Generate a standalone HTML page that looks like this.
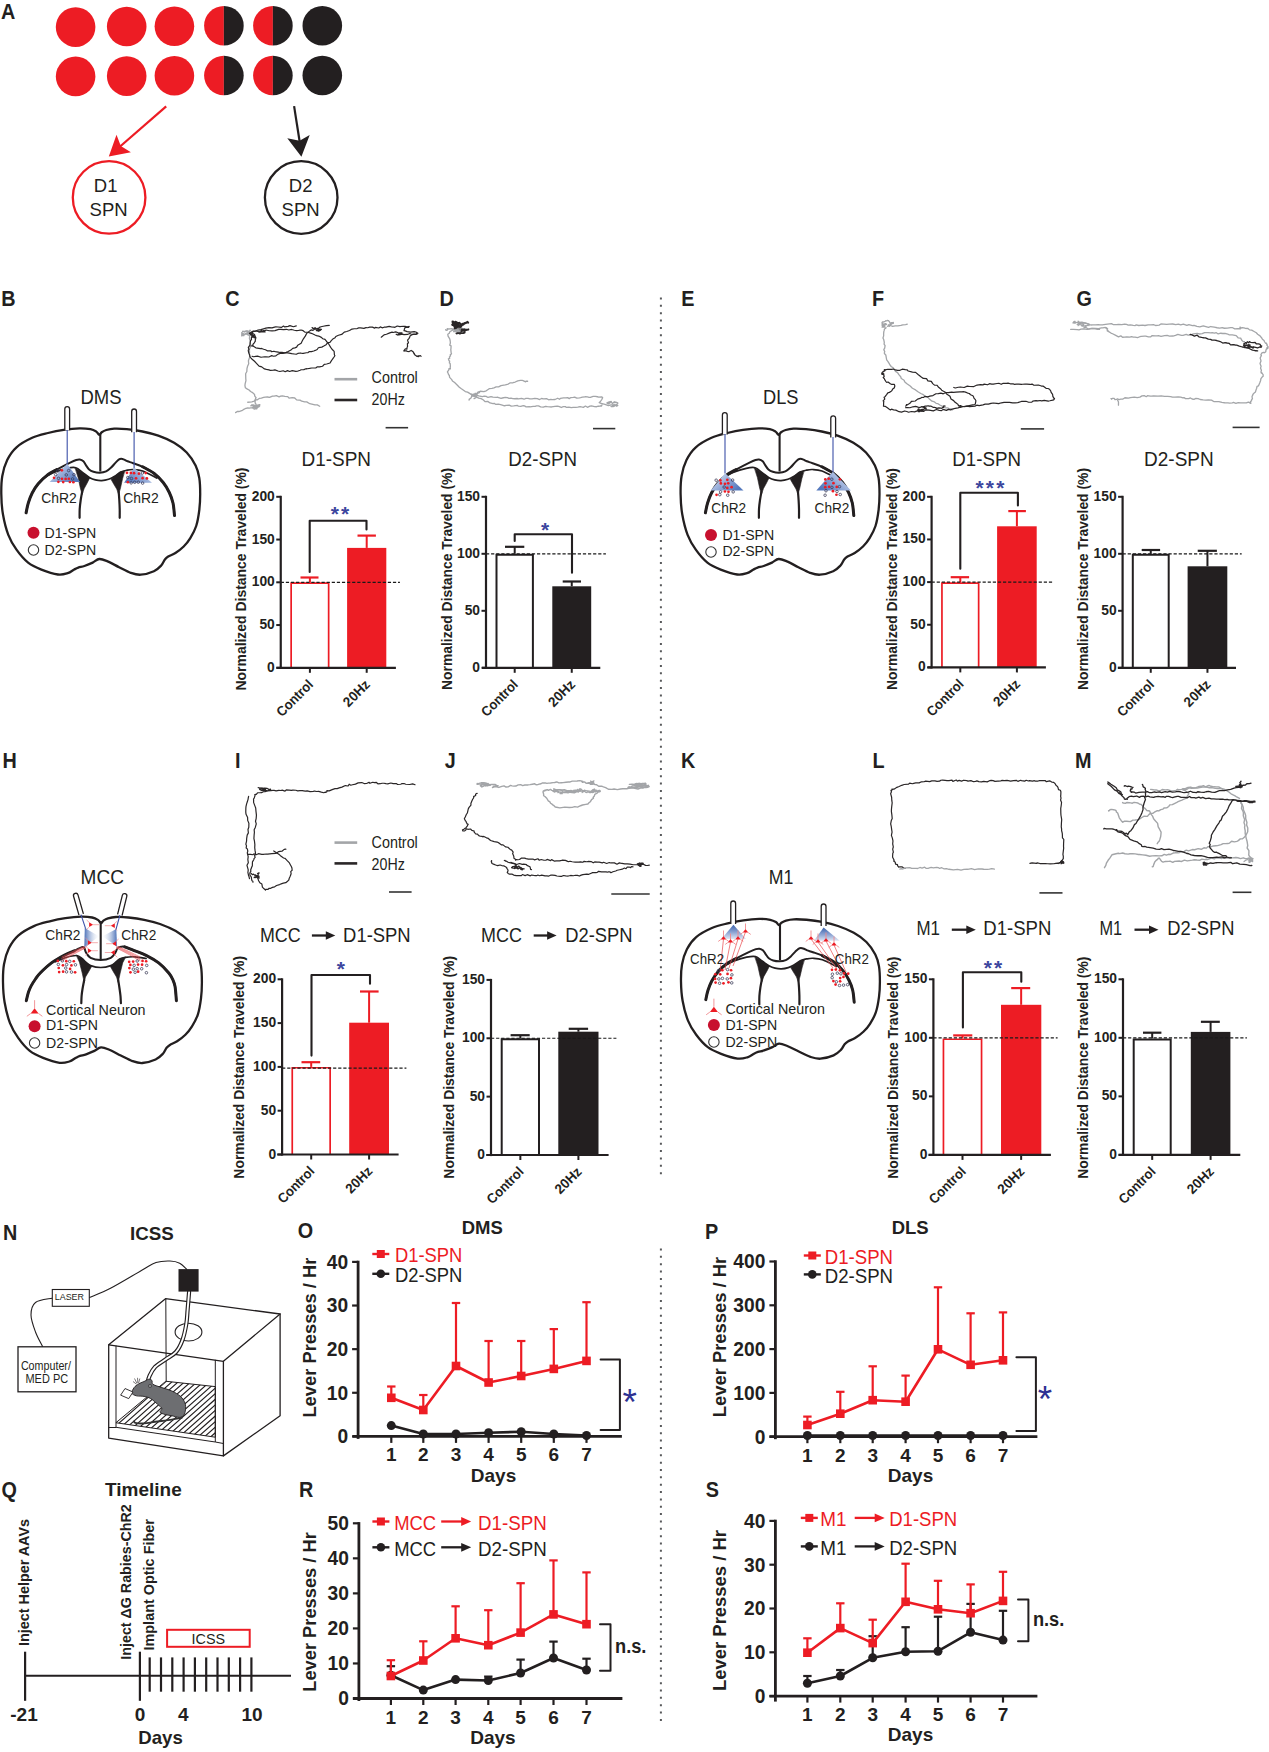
<!DOCTYPE html>
<html><head><meta charset="utf-8"><title>Figure</title>
<style>html,body{margin:0;padding:0;background:#fff;width:1269px;height:1752px;overflow:hidden}svg{display:block}text{font-family:"Liberation Sans",Arial,sans-serif}</style>
</head><body>
<svg width="1269" height="1752" viewBox="0 0 1269 1752" font-family="Liberation Sans, Arial, sans-serif">
<defs><linearGradient id="gv" x1="0" y1="0" x2="0" y2="1"><stop offset="0" stop-color="#3a62ad"/><stop offset="0.55" stop-color="#8fa6d4"/><stop offset="1" stop-color="#dfe6f4"/></linearGradient>
<linearGradient id="gvl" x1="0" y1="0" x2="1" y2="0.6"><stop offset="0" stop-color="#e4eaf6"/><stop offset="0.5" stop-color="#9db2dc"/><stop offset="1" stop-color="#5579bd"/></linearGradient>
<linearGradient id="gvr" x1="1" y1="0" x2="0" y2="0.6"><stop offset="0" stop-color="#e4eaf6"/><stop offset="0.5" stop-color="#9db2dc"/><stop offset="1" stop-color="#5579bd"/></linearGradient>
<linearGradient id="gh1" x1="0" y1="0" x2="1" y2="0"><stop offset="0" stop-color="#4a70b8"/><stop offset="1" stop-color="#ffffff" stop-opacity="0.2"/></linearGradient>
<linearGradient id="gh2" x1="1" y1="0" x2="0" y2="0"><stop offset="0" stop-color="#4a70b8"/><stop offset="1" stop-color="#ffffff" stop-opacity="0.2"/></linearGradient>
<clipPath id="floorclip"><path d="M166.2 1381.3 L215.3 1386.6 L215.3 1437.2 L116.3 1422.8 Z"/></clipPath></defs>
<rect width="1269" height="1752" fill="#fff"/>
<text x="1" y="19" font-size="22" font-weight="bold" text-anchor="start" fill="#231f20" textLength="14.3" lengthAdjust="spacingAndGlyphs">A</text>
<text x="1.2" y="306" font-size="22" font-weight="bold" text-anchor="start" fill="#231f20" textLength="14.3" lengthAdjust="spacingAndGlyphs">B</text>
<text x="225.3" y="306" font-size="22" font-weight="bold" text-anchor="start" fill="#231f20" textLength="14.3" lengthAdjust="spacingAndGlyphs">C</text>
<text x="439.5" y="306" font-size="22" font-weight="bold" text-anchor="start" fill="#231f20" textLength="14.3" lengthAdjust="spacingAndGlyphs">D</text>
<text x="681.3" y="306.3" font-size="22" font-weight="bold" text-anchor="start" fill="#231f20" textLength="13.21" lengthAdjust="spacingAndGlyphs">E</text>
<text x="872" y="306" font-size="22" font-weight="bold" text-anchor="start" fill="#231f20" textLength="12.1" lengthAdjust="spacingAndGlyphs">F</text>
<text x="1076.5" y="306.3" font-size="22" font-weight="bold" text-anchor="start" fill="#231f20" textLength="15.4" lengthAdjust="spacingAndGlyphs">G</text>
<text x="2.5" y="768" font-size="22" font-weight="bold" text-anchor="start" fill="#231f20" textLength="14.3" lengthAdjust="spacingAndGlyphs">H</text>
<text x="235.1" y="767.8" font-size="22" font-weight="bold" text-anchor="start" fill="#231f20" textLength="5.5" lengthAdjust="spacingAndGlyphs">I</text>
<text x="444.8" y="767.8" font-size="22" font-weight="bold" text-anchor="start" fill="#231f20" textLength="11.01" lengthAdjust="spacingAndGlyphs">J</text>
<text x="681.1" y="768" font-size="22" font-weight="bold" text-anchor="start" fill="#231f20" textLength="14.3" lengthAdjust="spacingAndGlyphs">K</text>
<text x="872.5" y="767.8" font-size="22" font-weight="bold" text-anchor="start" fill="#231f20" textLength="12.1" lengthAdjust="spacingAndGlyphs">L</text>
<text x="1075.1" y="768" font-size="22" font-weight="bold" text-anchor="start" fill="#231f20" textLength="16.49" lengthAdjust="spacingAndGlyphs">M</text>
<text x="2.9" y="1239.6" font-size="22" font-weight="bold" text-anchor="start" fill="#231f20" textLength="14.3" lengthAdjust="spacingAndGlyphs">N</text>
<text x="297.7" y="1238.4" font-size="22" font-weight="bold" text-anchor="start" fill="#231f20" textLength="15.4" lengthAdjust="spacingAndGlyphs">O</text>
<text x="705.1" y="1238.5" font-size="22" font-weight="bold" text-anchor="start" fill="#231f20" textLength="13.21" lengthAdjust="spacingAndGlyphs">P</text>
<text x="1.5" y="1497" font-size="22" font-weight="bold" text-anchor="start" fill="#231f20" textLength="15.4" lengthAdjust="spacingAndGlyphs">Q</text>
<text x="299.1" y="1497" font-size="22" font-weight="bold" text-anchor="start" fill="#231f20" textLength="14.3" lengthAdjust="spacingAndGlyphs">R</text>
<text x="705.7" y="1497" font-size="22" font-weight="bold" text-anchor="start" fill="#231f20" textLength="13.21" lengthAdjust="spacingAndGlyphs">S</text>
<line x1="660.9" y1="297.5" x2="660.9" y2="1179.5" stroke="#58595b" stroke-width="2" stroke-dasharray="2 5.35"/>
<line x1="660.9" y1="1248.5" x2="660.9" y2="1725" stroke="#58595b" stroke-width="2" stroke-dasharray="2 5.35"/>
<circle cx="75.6" cy="27.1" r="19.8" fill="#ed1c24" stroke="none" stroke-width="0"/>
<circle cx="126.7" cy="26.5" r="19.8" fill="#ed1c24" stroke="none" stroke-width="0"/>
<circle cx="174.4" cy="26.3" r="19.8" fill="#ed1c24" stroke="none" stroke-width="0"/>
<path d="M223.9 5.9 A19.8 19.8 0 0 0 223.9 45.5 Z" fill="#ed1c24"/>
<path d="M223.9 5.9 A19.8 19.8 0 0 1 223.9 45.5 Z" fill="#231f20"/>
<path d="M272.9 5.9 A19.8 19.8 0 0 0 272.9 45.5 Z" fill="#ed1c24"/>
<path d="M272.9 5.9 A19.8 19.8 0 0 1 272.9 45.5 Z" fill="#231f20"/>
<circle cx="322.3" cy="25.7" r="19.8" fill="#231f20" stroke="none" stroke-width="0"/>
<circle cx="75.6" cy="76.4" r="19.8" fill="#ed1c24" stroke="none" stroke-width="0"/>
<circle cx="126.7" cy="76.1" r="19.8" fill="#ed1c24" stroke="none" stroke-width="0"/>
<circle cx="174.4" cy="75.8" r="19.8" fill="#ed1c24" stroke="none" stroke-width="0"/>
<path d="M223.9 55.7 A19.8 19.8 0 0 0 223.9 95.3 Z" fill="#ed1c24"/>
<path d="M223.9 55.7 A19.8 19.8 0 0 1 223.9 95.3 Z" fill="#231f20"/>
<path d="M272.9 55.7 A19.8 19.8 0 0 0 272.9 95.3 Z" fill="#ed1c24"/>
<path d="M272.9 55.7 A19.8 19.8 0 0 1 272.9 95.3 Z" fill="#231f20"/>
<circle cx="322.3" cy="75.5" r="19.8" fill="#231f20" stroke="none" stroke-width="0"/>
<line x1="166.2" y1="106.3" x2="119.5" y2="147" stroke="#ed1c24" stroke-width="2.2"/>
<path d="M108.8 156.4 L116.5 134.7 L120.8 146 L130.9 152.3 Z" fill="#ed1c24"/>
<line x1="294.1" y1="106.1" x2="299.7" y2="142" stroke="#231f20" stroke-width="2.2"/>
<path d="M301.4 156.7 L287.3 138.3 L299.6 140.7 L309.7 135 Z" fill="#231f20"/>
<circle cx="109.1" cy="197.4" r="36.3" fill="none" stroke="#ed1c24" stroke-width="2.3"/>
<circle cx="301.2" cy="197.5" r="36.3" fill="none" stroke="#231f20" stroke-width="2.3"/>
<text x="105.6" y="192.4" font-size="18.5" text-anchor="middle" fill="#231f20">D1</text>
<text x="108.6" y="216" font-size="18.5" text-anchor="middle" fill="#231f20">SPN</text>
<text x="300.6" y="192.4" font-size="18.5" text-anchor="middle" fill="#231f20">D2</text>
<text x="300.6" y="216" font-size="18.5" text-anchor="middle" fill="#231f20">SPN</text>
<path d="M99.3 434.8 C98.38 434.68 97.67 432.53 96.2 431.6 C94.73 430.67 93.28 429.75 90.5 429.2 C87.72 428.65 83.97 428.2 79.5 428.3 C75.03 428.4 68.95 429.02 63.7 429.8 C58.45 430.58 53.25 431.67 48 433 C42.75 434.33 37.45 435.42 32.2 437.8 C26.95 440.18 20.67 443.6 16.5 447.3 C12.33 451 9.57 455.22 7.2 460 C4.83 464.78 3.28 470.33 2.3 476 C1.32 481.67 1.2 487.67 1.3 494 C1.4 500.33 1.73 507.2 2.9 514 C4.07 520.8 6.03 528.87 8.3 534.8 C10.57 540.73 13.2 544.97 16.5 549.6 C19.8 554.23 23.95 559.27 28.1 562.6 C32.25 565.93 36.43 567.62 41.4 569.6 C46.37 571.58 53.52 573.9 57.9 574.5 C62.28 575.1 64.98 574.03 67.7 573.2 C70.42 572.37 72.43 570.43 74.2 569.5 C75.97 568.57 76.6 568.18 78.3 567.6 C80 567.02 82 566.83 84.4 566 C86.8 565.17 90.22 563.77 92.7 562.6 C95.18 561.43 96.82 559.2 99.3 559 C101.78 558.8 104.3 560.03 107.6 561.4 C110.9 562.77 115.25 565.3 119.1 567.2 C122.95 569.1 127.1 571.55 130.7 572.8 C134.3 574.05 136.83 574.97 140.7 574.7 C144.57 574.43 150.48 572.73 153.9 571.2 C157.32 569.67 159.37 567.45 161.2 565.5 C163.03 563.55 163.73 560.98 164.9 559.5 C166.07 558.02 166.45 557.68 168.2 556.6 C169.95 555.52 172.82 554.68 175.4 553 C177.98 551.32 181.22 548.98 183.7 546.5 C186.18 544.02 188.22 541.52 190.3 538.1 C192.38 534.68 194.7 530.68 196.2 526 C197.7 521.32 198.63 515.33 199.3 510 C199.97 504.67 200.2 499.33 200.2 494 C200.2 488.67 200.07 482.75 199.3 478 C198.53 473.25 197.7 469.75 195.6 465.5 C193.5 461.25 190.28 456.28 186.7 452.5 C183.12 448.72 178.83 445.6 174.1 442.8 C169.37 440 163.57 437.58 158.3 435.7 C153.03 433.82 147.75 432.58 142.5 431.5 C137.25 430.42 131.52 429.67 126.8 429.2 C122.08 428.73 117.62 428.57 114.2 428.7 C110.78 428.83 108.38 429.4 106.3 430 C104.22 430.6 102.87 431.5 101.7 432.3 C100.53 433.1 100.22 434.92 99.3 434.8Z" fill="none" stroke="#231f20" stroke-width="2.3" stroke-linejoin="round" stroke-linecap="round"/>
<line x1="100.3" y1="433.5" x2="100.3" y2="471.5" stroke="#231f20" stroke-width="2.1"/>
<path d="M26.1 512.8 C26.47 511.17 27.28 506.3 28.3 503 C29.32 499.7 30.55 496.2 32.2 493 C33.85 489.8 35.78 486.7 38.2 483.8 C40.62 480.9 43.62 477.97 46.7 475.6 C49.78 473.23 52.78 471.77 56.7 469.6 C60.62 467.43 66.95 464.2 70.2 462.6 C73.45 461 74.62 460.52 76.2 460 C77.78 459.48 78.5 459.28 79.7 459.5 C80.9 459.72 82.37 460.37 83.4 461.3 C84.43 462.23 84.95 463.73 85.9 465.1 C86.85 466.47 87.83 468.38 89.1 469.5 C90.37 470.62 91.72 471.27 93.5 471.8 C95.28 472.33 97.7 472.77 99.8 472.7 C101.9 472.63 104.22 472.25 106.1 471.4 C107.98 470.55 109.52 469.07 111.1 467.6 C112.68 466.13 114.33 463.93 115.6 462.6 C116.87 461.27 117.77 460.23 118.7 459.6 C119.63 458.97 120.28 458.8 121.2 458.8 C122.12 458.8 123.15 459.18 124.2 459.6 C125.25 460.02 126 460.7 127.5 461.3 C129 461.9 130.67 462.28 133.2 463.2 C135.73 464.12 139.2 465.08 142.7 466.8 C146.2 468.52 150.78 470.88 154.2 473.5 C157.62 476.12 160.68 479.33 163.2 482.5 C165.72 485.67 167.67 489.08 169.3 492.5 C170.93 495.92 172.13 499.17 173 503 C173.87 506.83 174.25 513.42 174.5 515.5" fill="none" stroke="#231f20" stroke-width="2" stroke-linejoin="round" stroke-linecap="round"/>
<path d="M26.1 512.8 C26.47 511.17 27.28 506.3 28.3 503 C29.32 499.7 30.55 496.2 32.2 493 C33.85 489.8 35.78 486.7 38.2 483.8 C40.62 480.9 43.62 477.97 46.7 475.6 C49.78 473.23 55.03 470.6 56.7 469.6" fill="none" stroke="#231f20" stroke-width="3" stroke-linejoin="round" stroke-linecap="round"/>
<path d="M142.7 466.8 C144.62 467.92 150.78 470.88 154.2 473.5 C157.62 476.12 160.68 479.33 163.2 482.5 C165.72 485.67 167.67 489.08 169.3 492.5 C170.93 495.92 172.13 499.17 173 503 C173.87 506.83 174.25 513.42 174.5 515.5" fill="none" stroke="#231f20" stroke-width="3" stroke-linejoin="round" stroke-linecap="round"/>
<path d="M43.2 478.2 C44.95 477.25 49.73 474.15 53.7 472.5 C57.67 470.85 63.32 469.1 67 468.3 C70.68 467.5 73.17 466.97 75.8 467.7 C78.43 468.43 80.48 471.03 82.8 472.7 C85.12 474.37 87.6 476.5 89.7 477.7 C91.8 478.9 93.4 479.42 95.4 479.9 C97.4 480.38 99.5 480.7 101.7 480.6 C103.9 480.5 106.5 479.98 108.6 479.3 C110.7 478.62 112.3 477.7 114.3 476.5 C116.3 475.3 118.5 473.15 120.6 472.1 C122.7 471.05 124.8 470.63 126.9 470.2 C129 469.77 130.57 469.37 133.2 469.5 C135.83 469.63 138.78 469.58 142.7 471 C146.62 472.42 154.37 476.83 156.7 478" fill="none" stroke="#231f20" stroke-width="1.7" stroke-linejoin="round" stroke-linecap="round"/>
<path d="M75.2 467.9 L82.8 472.7 L89.7 477.9 L87.2 483 L84.2 488.5 L82.1 494.5 L80.3 488 L78.2 478Z" fill="#231f20" stroke="#231f20" stroke-width="0.6" stroke-linejoin="round" stroke-linecap="round"/>
<path d="M124.7 470.6 L120.6 472.1 L114.3 476.5 L111.1 479.4 L113.7 484 L116.7 489 L118.7 494.5 L120.5 488 L122.5 479Z" fill="#231f20" stroke="#231f20" stroke-width="0.6" stroke-linejoin="round" stroke-linecap="round"/>
<path d="M82.1 492 C81.87 493.33 81.1 497.17 80.7 500 C80.3 502.83 79.88 506.03 79.7 509 C79.52 511.97 79.62 516.33 79.6 517.8" fill="none" stroke="#231f20" stroke-width="2.2" stroke-linejoin="round" stroke-linecap="round"/>
<path d="M118.7 492 C118.8 493.33 119.13 497.17 119.3 500 C119.47 502.83 119.63 506.03 119.7 509 C119.77 511.97 119.7 516.33 119.7 517.8" fill="none" stroke="#231f20" stroke-width="2.2" stroke-linejoin="round" stroke-linecap="round"/>
<text x="101" y="404.2" font-size="19.5" text-anchor="middle" fill="#231f20" textLength="41.1" lengthAdjust="spacingAndGlyphs">DMS</text>
<path d="M64.8 430.2 V409 A2.4 2.4 0 0 1 69.6 409 V430.2" fill="#fff" stroke="#231f20" stroke-width="1.3"/>
<path d="M131.7 432.3 V411.4 A2.4 2.4 0 0 1 136.5 411.4 V432.3" fill="#fff" stroke="#231f20" stroke-width="1.3"/>
<line x1="67.2" y1="430" x2="67.2" y2="464" stroke="#3b4fa8" stroke-width="1.1"/>
<line x1="134.1" y1="432" x2="134.1" y2="468" stroke="#3b4fa8" stroke-width="1.1"/>
<path d="M67.2 463.7 L80 482 L49.6 482 Z" fill="url(#gvl)"/>
<path d="M134.1 467.8 L152 482.7 L124.1 482.7 Z" fill="url(#gvr)"/>
<circle cx="57.82" cy="471" r="1.28" fill="none" stroke="#3a3a55" stroke-width="0.75"/>
<circle cx="73.93" cy="474.73" r="1.28" fill="none" stroke="#3a3a55" stroke-width="0.75"/>
<circle cx="68.66" cy="470.56" r="1.28" fill="none" stroke="#3a3a55" stroke-width="0.75"/>
<circle cx="66.27" cy="474.91" r="1.28" fill="none" stroke="#3a3a55" stroke-width="0.75"/>
<circle cx="58.51" cy="478.34" r="1.28" fill="none" stroke="#3a3a55" stroke-width="0.75"/>
<circle cx="72.59" cy="478.9" r="1.28" fill="none" stroke="#3a3a55" stroke-width="0.75"/>
<circle cx="55.7" cy="474.6" r="1.28" fill="none" stroke="#3a3a55" stroke-width="0.75"/>
<circle cx="131.5" cy="478.51" r="1.28" fill="none" stroke="#3a3a55" stroke-width="0.75"/>
<circle cx="131.15" cy="482.87" r="1.28" fill="none" stroke="#3a3a55" stroke-width="0.75"/>
<circle cx="142.37" cy="473" r="1.28" fill="none" stroke="#3a3a55" stroke-width="0.75"/>
<circle cx="142.61" cy="483.11" r="1.28" fill="none" stroke="#3a3a55" stroke-width="0.75"/>
<circle cx="134.68" cy="482.28" r="1.28" fill="none" stroke="#3a3a55" stroke-width="0.75"/>
<circle cx="138.3" cy="482.17" r="1.28" fill="none" stroke="#3a3a55" stroke-width="0.75"/>
<circle cx="127.78" cy="477.53" r="1.28" fill="none" stroke="#3a3a55" stroke-width="0.75"/>
<circle cx="61.84" cy="470.35" r="1.35" fill="#ed1c24" stroke="none" stroke-width="0"/>
<circle cx="61.97" cy="478.83" r="1.35" fill="#ed1c24" stroke="none" stroke-width="0"/>
<circle cx="58.39" cy="481.79" r="1.35" fill="#ed1c24" stroke="none" stroke-width="0"/>
<circle cx="63.22" cy="482.05" r="1.35" fill="#ed1c24" stroke="none" stroke-width="0"/>
<circle cx="68.85" cy="478.74" r="1.35" fill="#ed1c24" stroke="none" stroke-width="0"/>
<circle cx="73.36" cy="482.23" r="1.35" fill="#ed1c24" stroke="none" stroke-width="0"/>
<circle cx="65.63" cy="478.88" r="1.35" fill="#ed1c24" stroke="none" stroke-width="0"/>
<circle cx="69.91" cy="481.99" r="1.35" fill="#ed1c24" stroke="none" stroke-width="0"/>
<circle cx="54.06" cy="477.81" r="1.35" fill="#ed1c24" stroke="none" stroke-width="0"/>
<circle cx="145.72" cy="473.07" r="1.35" fill="#ed1c24" stroke="none" stroke-width="0"/>
<circle cx="130.85" cy="472.92" r="1.35" fill="#ed1c24" stroke="none" stroke-width="0"/>
<circle cx="127.87" cy="482.17" r="1.35" fill="#ed1c24" stroke="none" stroke-width="0"/>
<circle cx="146.89" cy="478.43" r="1.35" fill="#ed1c24" stroke="none" stroke-width="0"/>
<circle cx="126.96" cy="472.86" r="1.35" fill="#ed1c24" stroke="none" stroke-width="0"/>
<circle cx="142.63" cy="478.15" r="1.35" fill="#ed1c24" stroke="none" stroke-width="0"/>
<circle cx="136.03" cy="478.37" r="1.35" fill="#ed1c24" stroke="none" stroke-width="0"/>
<circle cx="138.92" cy="473.69" r="1.35" fill="#ed1c24" stroke="none" stroke-width="0"/>
<circle cx="134.06" cy="473.22" r="1.35" fill="#ed1c24" stroke="none" stroke-width="0"/>
<text x="41.2" y="502.6" font-size="14.6" text-anchor="start" fill="#231f20" textLength="35.6" lengthAdjust="spacingAndGlyphs">ChR2</text>
<text x="123.2" y="502.6" font-size="14.6" text-anchor="start" fill="#231f20" textLength="35.6" lengthAdjust="spacingAndGlyphs">ChR2</text>
<circle cx="33.5" cy="532.8" r="6" fill="#c8102e" stroke="none" stroke-width="0"/>
<text x="44.5" y="537.6" font-size="14.5" text-anchor="start" fill="#231f20" textLength="51.8" lengthAdjust="spacingAndGlyphs">D1-SPN</text>
<circle cx="33.5" cy="550" r="5.2" fill="#fff" stroke="#333" stroke-width="1.1"/>
<text x="44.5" y="554.8" font-size="14.5" text-anchor="start" fill="#231f20" textLength="51.8" lengthAdjust="spacingAndGlyphs">D2-SPN</text>
<path d="M778.6 434.8 C777.68 434.68 776.97 432.53 775.5 431.6 C774.03 430.67 772.58 429.75 769.8 429.2 C767.02 428.65 763.27 428.2 758.8 428.3 C754.33 428.4 748.25 429.02 743 429.8 C737.75 430.58 732.55 431.67 727.3 433 C722.05 434.33 716.75 435.42 711.5 437.8 C706.25 440.18 699.97 443.6 695.8 447.3 C691.63 451 688.87 455.22 686.5 460 C684.13 464.78 682.58 470.33 681.6 476 C680.62 481.67 680.5 487.67 680.6 494 C680.7 500.33 681.03 507.2 682.2 514 C683.37 520.8 685.33 528.87 687.6 534.8 C689.87 540.73 692.5 544.97 695.8 549.6 C699.1 554.23 703.25 559.27 707.4 562.6 C711.55 565.93 715.73 567.62 720.7 569.6 C725.67 571.58 732.82 573.9 737.2 574.5 C741.58 575.1 744.28 574.03 747 573.2 C749.72 572.37 751.73 570.43 753.5 569.5 C755.27 568.57 755.9 568.18 757.6 567.6 C759.3 567.02 761.3 566.83 763.7 566 C766.1 565.17 769.52 563.77 772 562.6 C774.48 561.43 776.12 559.2 778.6 559 C781.08 558.8 783.6 560.03 786.9 561.4 C790.2 562.77 794.55 565.3 798.4 567.2 C802.25 569.1 806.4 571.55 810 572.8 C813.6 574.05 816.13 574.97 820 574.7 C823.87 574.43 829.78 572.73 833.2 571.2 C836.62 569.67 838.67 567.45 840.5 565.5 C842.33 563.55 843.03 560.98 844.2 559.5 C845.37 558.02 845.75 557.68 847.5 556.6 C849.25 555.52 852.12 554.68 854.7 553 C857.28 551.32 860.52 548.98 863 546.5 C865.48 544.02 867.52 541.52 869.6 538.1 C871.68 534.68 874 530.68 875.5 526 C877 521.32 877.93 515.33 878.6 510 C879.27 504.67 879.5 499.33 879.5 494 C879.5 488.67 879.37 482.75 878.6 478 C877.83 473.25 877 469.75 874.9 465.5 C872.8 461.25 869.58 456.28 866 452.5 C862.42 448.72 858.13 445.6 853.4 442.8 C848.67 440 842.87 437.58 837.6 435.7 C832.33 433.82 827.05 432.58 821.8 431.5 C816.55 430.42 810.82 429.67 806.1 429.2 C801.38 428.73 796.92 428.57 793.5 428.7 C790.08 428.83 787.68 429.4 785.6 430 C783.52 430.6 782.17 431.5 781 432.3 C779.83 433.1 779.52 434.92 778.6 434.8Z" fill="none" stroke="#231f20" stroke-width="2.3" stroke-linejoin="round" stroke-linecap="round"/>
<line x1="779.6" y1="433.5" x2="779.6" y2="471.5" stroke="#231f20" stroke-width="2.1"/>
<path d="M705.4 512.8 C705.77 511.17 706.58 506.3 707.6 503 C708.62 499.7 709.85 496.2 711.5 493 C713.15 489.8 715.08 486.7 717.5 483.8 C719.92 480.9 722.92 477.97 726 475.6 C729.08 473.23 732.08 471.77 736 469.6 C739.92 467.43 746.25 464.2 749.5 462.6 C752.75 461 753.92 460.52 755.5 460 C757.08 459.48 757.8 459.28 759 459.5 C760.2 459.72 761.67 460.37 762.7 461.3 C763.73 462.23 764.25 463.73 765.2 465.1 C766.15 466.47 767.13 468.38 768.4 469.5 C769.67 470.62 771.02 471.27 772.8 471.8 C774.58 472.33 777 472.77 779.1 472.7 C781.2 472.63 783.52 472.25 785.4 471.4 C787.28 470.55 788.82 469.07 790.4 467.6 C791.98 466.13 793.63 463.93 794.9 462.6 C796.17 461.27 797.07 460.23 798 459.6 C798.93 458.97 799.58 458.8 800.5 458.8 C801.42 458.8 802.45 459.18 803.5 459.6 C804.55 460.02 805.3 460.7 806.8 461.3 C808.3 461.9 809.97 462.28 812.5 463.2 C815.03 464.12 818.5 465.08 822 466.8 C825.5 468.52 830.08 470.88 833.5 473.5 C836.92 476.12 839.98 479.33 842.5 482.5 C845.02 485.67 846.97 489.08 848.6 492.5 C850.23 495.92 851.43 499.17 852.3 503 C853.17 506.83 853.55 513.42 853.8 515.5" fill="none" stroke="#231f20" stroke-width="2" stroke-linejoin="round" stroke-linecap="round"/>
<path d="M705.4 512.8 C705.77 511.17 706.58 506.3 707.6 503 C708.62 499.7 709.85 496.2 711.5 493 C713.15 489.8 715.08 486.7 717.5 483.8 C719.92 480.9 722.92 477.97 726 475.6 C729.08 473.23 734.33 470.6 736 469.6" fill="none" stroke="#231f20" stroke-width="3" stroke-linejoin="round" stroke-linecap="round"/>
<path d="M822 466.8 C823.92 467.92 830.08 470.88 833.5 473.5 C836.92 476.12 839.98 479.33 842.5 482.5 C845.02 485.67 846.97 489.08 848.6 492.5 C850.23 495.92 851.43 499.17 852.3 503 C853.17 506.83 853.55 513.42 853.8 515.5" fill="none" stroke="#231f20" stroke-width="3" stroke-linejoin="round" stroke-linecap="round"/>
<path d="M722.5 478.2 C724.25 477.25 729.03 474.15 733 472.5 C736.97 470.85 742.62 469.1 746.3 468.3 C749.98 467.5 752.47 466.97 755.1 467.7 C757.73 468.43 759.78 471.03 762.1 472.7 C764.42 474.37 766.9 476.5 769 477.7 C771.1 478.9 772.7 479.42 774.7 479.9 C776.7 480.38 778.8 480.7 781 480.6 C783.2 480.5 785.8 479.98 787.9 479.3 C790 478.62 791.6 477.7 793.6 476.5 C795.6 475.3 797.8 473.15 799.9 472.1 C802 471.05 804.1 470.63 806.2 470.2 C808.3 469.77 809.87 469.37 812.5 469.5 C815.13 469.63 818.08 469.58 822 471 C825.92 472.42 833.67 476.83 836 478" fill="none" stroke="#231f20" stroke-width="1.7" stroke-linejoin="round" stroke-linecap="round"/>
<path d="M754.5 467.9 L762.1 472.7 L769 477.9 L766.5 483 L763.5 488.5 L761.4 494.5 L759.6 488 L757.5 478Z" fill="#231f20" stroke="#231f20" stroke-width="0.6" stroke-linejoin="round" stroke-linecap="round"/>
<path d="M804 470.6 L799.9 472.1 L793.6 476.5 L790.4 479.4 L793 484 L796 489 L798 494.5 L799.8 488 L801.8 479Z" fill="#231f20" stroke="#231f20" stroke-width="0.6" stroke-linejoin="round" stroke-linecap="round"/>
<path d="M761.4 492 C761.17 493.33 760.4 497.17 760 500 C759.6 502.83 759.18 506.03 759 509 C758.82 511.97 758.92 516.33 758.9 517.8" fill="none" stroke="#231f20" stroke-width="2.2" stroke-linejoin="round" stroke-linecap="round"/>
<path d="M798 492 C798.1 493.33 798.43 497.17 798.6 500 C798.77 502.83 798.93 506.03 799 509 C799.07 511.97 799 516.33 799 517.8" fill="none" stroke="#231f20" stroke-width="2.2" stroke-linejoin="round" stroke-linecap="round"/>
<text x="780.8" y="403.9" font-size="19.5" text-anchor="middle" fill="#231f20" textLength="35.5" lengthAdjust="spacingAndGlyphs">DLS</text>
<path d="M722.4 434.4 V415 A2.4 2.4 0 0 1 727.2 415 V434.4" fill="#fff" stroke="#231f20" stroke-width="1.3"/>
<path d="M830.8 437.4 V418.2 A2.4 2.4 0 0 1 835.6 418.2 V437.4" fill="#fff" stroke="#231f20" stroke-width="1.3"/>
<line x1="725" y1="434" x2="725" y2="473.5" stroke="#3b4fa8" stroke-width="1.1"/>
<line x1="833" y1="437" x2="833" y2="472" stroke="#3b4fa8" stroke-width="1.1"/>
<path d="M725.2 473.3 L743.5 490.6 L710.7 490.6 Z" fill="url(#gvl)"/>
<path d="M832.9 471.7 L851 490.6 L816.3 490.6 Z" fill="url(#gvr)"/>
<circle cx="724.16" cy="487.05" r="1.28" fill="none" stroke="#3a3a55" stroke-width="0.75"/>
<circle cx="732.62" cy="480.08" r="1.28" fill="none" stroke="#3a3a55" stroke-width="0.75"/>
<circle cx="716.17" cy="480.19" r="1.28" fill="none" stroke="#3a3a55" stroke-width="0.75"/>
<circle cx="727.72" cy="495.22" r="1.28" fill="none" stroke="#3a3a55" stroke-width="0.75"/>
<circle cx="719.81" cy="494.7" r="1.28" fill="none" stroke="#3a3a55" stroke-width="0.75"/>
<circle cx="720.61" cy="491.85" r="1.28" fill="none" stroke="#3a3a55" stroke-width="0.75"/>
<circle cx="733.17" cy="491.86" r="1.28" fill="none" stroke="#3a3a55" stroke-width="0.75"/>
<circle cx="825.1" cy="495.24" r="1.28" fill="none" stroke="#3a3a55" stroke-width="0.75"/>
<circle cx="839.53" cy="486.64" r="1.28" fill="none" stroke="#3a3a55" stroke-width="0.75"/>
<circle cx="837" cy="491.52" r="1.28" fill="none" stroke="#3a3a55" stroke-width="0.75"/>
<circle cx="831.8" cy="479.2" r="1.28" fill="none" stroke="#3a3a55" stroke-width="0.75"/>
<circle cx="840.22" cy="494.51" r="1.28" fill="none" stroke="#3a3a55" stroke-width="0.75"/>
<circle cx="825.99" cy="490.75" r="1.28" fill="none" stroke="#3a3a55" stroke-width="0.75"/>
<circle cx="831.93" cy="487.36" r="1.28" fill="none" stroke="#3a3a55" stroke-width="0.75"/>
<circle cx="720.41" cy="480.43" r="1.35" fill="#ed1c24" stroke="none" stroke-width="0"/>
<circle cx="724.96" cy="483.79" r="1.35" fill="#ed1c24" stroke="none" stroke-width="0"/>
<circle cx="728.22" cy="483.36" r="1.35" fill="#ed1c24" stroke="none" stroke-width="0"/>
<circle cx="716.55" cy="494.86" r="1.35" fill="#ed1c24" stroke="none" stroke-width="0"/>
<circle cx="727.3" cy="487.95" r="1.35" fill="#ed1c24" stroke="none" stroke-width="0"/>
<circle cx="727.34" cy="479.86" r="1.35" fill="#ed1c24" stroke="none" stroke-width="0"/>
<circle cx="731.59" cy="487.16" r="1.35" fill="#ed1c24" stroke="none" stroke-width="0"/>
<circle cx="728.49" cy="491.83" r="1.35" fill="#ed1c24" stroke="none" stroke-width="0"/>
<circle cx="720.86" cy="483.4" r="1.35" fill="#ed1c24" stroke="none" stroke-width="0"/>
<circle cx="724.95" cy="491.51" r="1.35" fill="#ed1c24" stroke="none" stroke-width="0"/>
<circle cx="832.98" cy="491.19" r="1.35" fill="#ed1c24" stroke="none" stroke-width="0"/>
<circle cx="825.32" cy="487.22" r="1.35" fill="#ed1c24" stroke="none" stroke-width="0"/>
<circle cx="828.68" cy="478.71" r="1.35" fill="#ed1c24" stroke="none" stroke-width="0"/>
<circle cx="839.92" cy="479.32" r="1.35" fill="#ed1c24" stroke="none" stroke-width="0"/>
<circle cx="833.45" cy="483.22" r="1.35" fill="#ed1c24" stroke="none" stroke-width="0"/>
<circle cx="825.48" cy="483.36" r="1.35" fill="#ed1c24" stroke="none" stroke-width="0"/>
<circle cx="836.44" cy="494.77" r="1.35" fill="#ed1c24" stroke="none" stroke-width="0"/>
<circle cx="836.73" cy="486.93" r="1.35" fill="#ed1c24" stroke="none" stroke-width="0"/>
<circle cx="829.18" cy="486.8" r="1.35" fill="#ed1c24" stroke="none" stroke-width="0"/>
<circle cx="825.31" cy="479.39" r="1.35" fill="#ed1c24" stroke="none" stroke-width="0"/>
<text x="711.3" y="512.7" font-size="14.6" text-anchor="start" fill="#231f20" textLength="34.8" lengthAdjust="spacingAndGlyphs">ChR2</text>
<text x="814.6" y="512.7" font-size="14.6" text-anchor="start" fill="#231f20" textLength="34.8" lengthAdjust="spacingAndGlyphs">ChR2</text>
<circle cx="711" cy="535" r="6" fill="#c8102e" stroke="none" stroke-width="0"/>
<text x="722.4" y="539.6" font-size="14.5" text-anchor="start" fill="#231f20" textLength="51.8" lengthAdjust="spacingAndGlyphs">D1-SPN</text>
<circle cx="711" cy="552" r="5.2" fill="#fff" stroke="#333" stroke-width="1.1"/>
<text x="722.4" y="556.4" font-size="14.5" text-anchor="start" fill="#231f20" textLength="51.8" lengthAdjust="spacingAndGlyphs">D2-SPN</text>
<path d="M101 923.1 C100.08 922.98 99.37 920.83 97.9 919.9 C96.43 918.97 94.98 918.05 92.2 917.5 C89.42 916.95 85.67 916.5 81.2 916.6 C76.73 916.7 70.65 917.32 65.4 918.1 C60.15 918.88 54.95 919.97 49.7 921.3 C44.45 922.63 39.15 923.72 33.9 926.1 C28.65 928.48 22.37 931.9 18.2 935.6 C14.03 939.3 11.27 943.52 8.9 948.3 C6.53 953.08 4.98 958.63 4 964.3 C3.02 969.97 2.9 975.97 3 982.3 C3.1 988.63 3.43 995.5 4.6 1002.3 C5.77 1009.1 7.73 1017.17 10 1023.1 C12.27 1029.03 14.9 1033.27 18.2 1037.9 C21.5 1042.53 25.65 1047.57 29.8 1050.9 C33.95 1054.23 38.13 1055.92 43.1 1057.9 C48.07 1059.88 55.22 1062.2 59.6 1062.8 C63.98 1063.4 66.68 1062.33 69.4 1061.5 C72.12 1060.67 74.13 1058.73 75.9 1057.8 C77.67 1056.87 78.3 1056.48 80 1055.9 C81.7 1055.32 83.7 1055.13 86.1 1054.3 C88.5 1053.47 91.92 1052.07 94.4 1050.9 C96.88 1049.73 98.52 1047.5 101 1047.3 C103.48 1047.1 106 1048.33 109.3 1049.7 C112.6 1051.07 116.95 1053.6 120.8 1055.5 C124.65 1057.4 128.8 1059.85 132.4 1061.1 C136 1062.35 138.53 1063.27 142.4 1063 C146.27 1062.73 152.18 1061.03 155.6 1059.5 C159.02 1057.97 161.07 1055.75 162.9 1053.8 C164.73 1051.85 165.43 1049.28 166.6 1047.8 C167.77 1046.32 168.15 1045.98 169.9 1044.9 C171.65 1043.82 174.52 1042.98 177.1 1041.3 C179.68 1039.62 182.92 1037.28 185.4 1034.8 C187.88 1032.32 189.92 1029.82 192 1026.4 C194.08 1022.98 196.4 1018.98 197.9 1014.3 C199.4 1009.62 200.33 1003.63 201 998.3 C201.67 992.97 201.9 987.63 201.9 982.3 C201.9 976.97 201.77 971.05 201 966.3 C200.23 961.55 199.4 958.05 197.3 953.8 C195.2 949.55 191.98 944.58 188.4 940.8 C184.82 937.02 180.53 933.9 175.8 931.1 C171.07 928.3 165.27 925.88 160 924 C154.73 922.12 149.45 920.88 144.2 919.8 C138.95 918.72 133.22 917.97 128.5 917.5 C123.78 917.03 119.32 916.87 115.9 917 C112.48 917.13 110.08 917.7 108 918.3 C105.92 918.9 104.57 919.8 103.4 920.6 C102.23 921.4 101.92 923.22 101 923.1Z" fill="none" stroke="#231f20" stroke-width="2.3" stroke-linejoin="round" stroke-linecap="round"/>
<line x1="100.7" y1="921" x2="100.7" y2="959.9" stroke="#231f20" stroke-width="2.1"/>
<path d="M26.3 1000.7 C26.67 999.25 27.67 994.52 28.5 992 C29.33 989.48 30.13 987.77 31.3 985.6 C32.47 983.43 34.02 981.1 35.5 979 C36.98 976.9 37.53 975.68 40.2 973 C42.87 970.32 47.52 965.85 51.5 962.9 C55.48 959.95 60.32 957.3 64.1 955.3 C67.88 953.3 71.25 952.27 74.2 950.9 C77.15 949.53 80.12 947.6 81.8 947.1 C83.48 946.6 83.6 947 84.3 947.9 C85 948.8 84.95 950.85 86 952.5 C87.05 954.15 88.15 956.57 90.6 957.8 C93.05 959.03 97.33 959.9 100.7 959.9 C104.07 959.9 108.33 959.03 110.8 957.8 C113.27 956.57 114.38 954.13 115.5 952.5 C116.62 950.87 116.6 948.95 117.5 948 C118.4 947.05 119.7 947 120.9 946.8 C122.1 946.6 122.6 946.22 124.7 946.8 C126.8 947.38 129.93 948.88 133.5 950.3 C137.07 951.72 141.9 953.2 146.1 955.3 C150.3 957.4 154.92 959.95 158.7 962.9 C162.48 965.85 166.42 970.15 168.8 973 C171.18 975.85 171.95 977.7 173 980 C174.05 982.3 174.53 983.35 175.1 986.8 C175.67 990.25 176.18 998.38 176.4 1000.7" fill="none" stroke="#231f20" stroke-width="2" stroke-linejoin="round" stroke-linecap="round"/>
<path d="M26.3 1000.7 C26.67 999.25 27.67 994.52 28.5 992 C29.33 989.48 30.13 987.77 31.3 985.6 C32.47 983.43 34.02 981.1 35.5 979 C36.98 976.9 37.53 975.68 40.2 973 C42.87 970.32 47.52 965.85 51.5 962.9 C55.48 959.95 60.32 957.3 64.1 955.3 C67.88 953.3 72.52 951.63 74.2 950.9" fill="none" stroke="#231f20" stroke-width="3" stroke-linejoin="round" stroke-linecap="round"/>
<path d="M124.7 946.8 C126.17 947.38 129.93 948.88 133.5 950.3 C137.07 951.72 141.9 953.2 146.1 955.3 C150.3 957.4 154.92 959.95 158.7 962.9 C162.48 965.85 166.42 970.15 168.8 973 C171.18 975.85 171.95 977.7 173 980 C174.05 982.3 174.53 983.35 175.1 986.8 C175.67 990.25 176.18 998.38 176.4 1000.7" fill="none" stroke="#231f20" stroke-width="3" stroke-linejoin="round" stroke-linecap="round"/>
<path d="M55.3 961.8 C57.08 961.08 62.43 958.55 66 957.5 C69.57 956.45 74.03 955.33 76.7 955.5 C79.37 955.67 80.52 957.42 82 958.5 C83.48 959.58 84.17 960.82 85.6 962 C87.03 963.18 88.08 964.68 90.6 965.6 C93.12 966.52 97.33 967.5 100.7 967.5 C104.07 967.5 108.25 966.52 110.8 965.6 C113.35 964.68 114.53 963.1 116 962 C117.47 960.9 118.05 959.78 119.6 959 C121.15 958.22 122.73 957.67 125.3 957.3 C127.87 956.93 131.53 956.6 135 956.8 C138.47 957 144.25 958.22 146.1 958.5" fill="none" stroke="#231f20" stroke-width="1.7" stroke-linejoin="round" stroke-linecap="round"/>
<path d="M76.5 955.4 L82 958.5 L85.6 962 L91.6 966.6 L88.5 972 L85.5 977 L84.2 982.5 L82.2 973 L79.5 962.5Z" fill="#231f20" stroke="#231f20" stroke-width="0.6" stroke-linejoin="round" stroke-linecap="round"/>
<path d="M125.5 957.1 L119.6 959 L116 962 L110.4 966.6 L113.5 972 L116.5 977 L118.2 982.5 L120.2 973 L122.7 963Z" fill="#231f20" stroke="#231f20" stroke-width="0.6" stroke-linejoin="round" stroke-linecap="round"/>
<path d="M84.2 980 C83.92 981.5 82.93 986.33 82.5 989 C82.07 991.67 81.8 993.63 81.6 996 C81.4 998.37 81.35 1002 81.3 1003.2" fill="none" stroke="#231f20" stroke-width="2.2" stroke-linejoin="round" stroke-linecap="round"/>
<path d="M118.2 980 C118.43 981.5 119.22 986.33 119.6 989 C119.98 991.67 120.28 993.63 120.5 996 C120.72 998.37 120.83 1002 120.9 1003.2" fill="none" stroke="#231f20" stroke-width="2.2" stroke-linejoin="round" stroke-linecap="round"/>
<text x="102.3" y="883.8" font-size="19.5" text-anchor="middle" fill="#231f20" textLength="43.4" lengthAdjust="spacingAndGlyphs">MCC</text>
<path d="M78.9 914.5 V894.8 A2.3 2.3 0 0 1 83.5 894.8 V914.5" fill="#fff" stroke="#231f20" stroke-width="1.3" transform="rotate(-16 81.2 914.5)"/>
<path d="M117.5 915 V895.3 A2.3 2.3 0 0 1 122.1 895.3 V915" fill="#fff" stroke="#231f20" stroke-width="1.3" transform="rotate(14 119.8 915)"/>
<line x1="81" y1="914.7" x2="86.1" y2="930.1" stroke="#3b4fa8" stroke-width="1.1"/>
<line x1="119.9" y1="915.2" x2="115.8" y2="930.1" stroke="#3b4fa8" stroke-width="1.1"/>
<path d="M84.8 928 L99 936.2 L84.3 947.5 Z" fill="url(#gh1)"/>
<path d="M116.3 929 L102.5 936.2 L117 946.5 Z" fill="url(#gh2)"/>
<path d="M93.1 924.7 l-4 -2.4 v4.8 z" fill="#ed1c24"/>
<line x1="93.1" y1="924.7" x2="99.1" y2="924.7" stroke="#f08a8d" stroke-width="0.7"/>
<line x1="89.1" y1="922.3" x2="86.6" y2="920" stroke="#f08a8d" stroke-width="0.7"/>
<line x1="89.1" y1="927.1" x2="86.6" y2="929.5" stroke="#f08a8d" stroke-width="0.7"/>
<path d="M91.9 942.7 l-4 -2.4 v4.8 z" fill="#ed1c24"/>
<line x1="91.9" y1="942.7" x2="97.9" y2="942.7" stroke="#f08a8d" stroke-width="0.7"/>
<line x1="87.9" y1="940.3" x2="85.4" y2="938" stroke="#f08a8d" stroke-width="0.7"/>
<line x1="87.9" y1="945.1" x2="85.4" y2="947.5" stroke="#f08a8d" stroke-width="0.7"/>
<path d="M91.9 950.7 l-4 -2.4 v4.8 z" fill="#ed1c24"/>
<line x1="91.9" y1="950.7" x2="97.9" y2="950.7" stroke="#f08a8d" stroke-width="0.7"/>
<line x1="87.9" y1="948.3" x2="85.4" y2="946" stroke="#f08a8d" stroke-width="0.7"/>
<line x1="87.9" y1="953.1" x2="85.4" y2="955.5" stroke="#f08a8d" stroke-width="0.7"/>
<path d="M110.8 925.7 l4 -2.4 v4.8 z" fill="#ed1c24"/>
<line x1="110.8" y1="925.7" x2="104.8" y2="925.7" stroke="#f08a8d" stroke-width="0.7"/>
<line x1="114.8" y1="923.3" x2="117.3" y2="921" stroke="#f08a8d" stroke-width="0.7"/>
<line x1="114.8" y1="928.1" x2="117.3" y2="930.5" stroke="#f08a8d" stroke-width="0.7"/>
<path d="M112.1 943.7 l4 -2.4 v4.8 z" fill="#ed1c24"/>
<line x1="112.1" y1="943.7" x2="106.1" y2="943.7" stroke="#f08a8d" stroke-width="0.7"/>
<line x1="116.1" y1="941.3" x2="118.6" y2="939" stroke="#f08a8d" stroke-width="0.7"/>
<line x1="116.1" y1="946.1" x2="118.6" y2="948.5" stroke="#f08a8d" stroke-width="0.7"/>
<path d="M110.8 952.5 l4 -2.4 v4.8 z" fill="#ed1c24"/>
<line x1="110.8" y1="952.5" x2="104.8" y2="952.5" stroke="#f08a8d" stroke-width="0.7"/>
<line x1="114.8" y1="950.1" x2="117.3" y2="947.8" stroke="#f08a8d" stroke-width="0.7"/>
<line x1="114.8" y1="954.9" x2="117.3" y2="957.3" stroke="#f08a8d" stroke-width="0.7"/>
<path d="M84 946.5 C82.33 947.25 77.67 949.25 74 951 C70.33 952.75 64 956 62 957" fill="none" stroke="#e8474c" stroke-width="0.6" stroke-linejoin="round" stroke-linecap="round"/>
<path d="M118 946.5 C119.67 947.25 124.33 949.25 128 951 C131.67 952.75 138 956 140 957" fill="none" stroke="#e8474c" stroke-width="0.6" stroke-linejoin="round" stroke-linecap="round"/>
<path d="M84.3 947.1 C82.58 947.92 77.72 950.13 74 952 C70.28 953.87 64 957.25 62 958.3" fill="none" stroke="#e8474c" stroke-width="0.6" stroke-linejoin="round" stroke-linecap="round"/>
<path d="M117.7 947.1 C119.42 947.92 124.28 950.13 128 952 C131.72 953.87 138 957.25 140 958.3" fill="none" stroke="#e8474c" stroke-width="0.6" stroke-linejoin="round" stroke-linecap="round"/>
<path d="M84.6 947.7 C82.83 948.58 77.77 951.02 74 953 C70.23 954.98 64 958.5 62 959.6" fill="none" stroke="#e8474c" stroke-width="0.6" stroke-linejoin="round" stroke-linecap="round"/>
<path d="M117.4 947.7 C119.17 948.58 124.23 951.02 128 953 C131.77 954.98 138 958.5 140 959.6" fill="none" stroke="#e8474c" stroke-width="0.6" stroke-linejoin="round" stroke-linecap="round"/>
<path d="M84.9 948.3 C83.08 949.25 77.82 951.9 74 954 C70.18 956.1 64 959.75 62 960.9" fill="none" stroke="#e8474c" stroke-width="0.6" stroke-linejoin="round" stroke-linecap="round"/>
<path d="M117.1 948.3 C118.92 949.25 124.18 951.9 128 954 C131.82 956.1 138 959.75 140 960.9" fill="none" stroke="#e8474c" stroke-width="0.6" stroke-linejoin="round" stroke-linecap="round"/>
<circle cx="66.53" cy="971.83" r="1.28" fill="none" stroke="#3a3a55" stroke-width="0.75"/>
<circle cx="62.36" cy="960.8" r="1.28" fill="none" stroke="#3a3a55" stroke-width="0.75"/>
<circle cx="69.73" cy="961.32" r="1.28" fill="none" stroke="#3a3a55" stroke-width="0.75"/>
<circle cx="65.75" cy="968.1" r="1.28" fill="none" stroke="#3a3a55" stroke-width="0.75"/>
<circle cx="71.5" cy="972.1" r="1.28" fill="none" stroke="#3a3a55" stroke-width="0.75"/>
<circle cx="58.35" cy="964.45" r="1.28" fill="none" stroke="#3a3a55" stroke-width="0.75"/>
<circle cx="66.62" cy="964.61" r="1.28" fill="none" stroke="#3a3a55" stroke-width="0.75"/>
<circle cx="75.46" cy="964.81" r="1.28" fill="none" stroke="#3a3a55" stroke-width="0.75"/>
<circle cx="135.11" cy="972.29" r="1.28" fill="none" stroke="#3a3a55" stroke-width="0.75"/>
<circle cx="137.14" cy="968.71" r="1.28" fill="none" stroke="#3a3a55" stroke-width="0.75"/>
<circle cx="137.17" cy="961.01" r="1.28" fill="none" stroke="#3a3a55" stroke-width="0.75"/>
<circle cx="134.12" cy="965.33" r="1.28" fill="none" stroke="#3a3a55" stroke-width="0.75"/>
<circle cx="141.68" cy="968.76" r="1.28" fill="none" stroke="#3a3a55" stroke-width="0.75"/>
<circle cx="133.31" cy="969.15" r="1.28" fill="none" stroke="#3a3a55" stroke-width="0.75"/>
<circle cx="146.72" cy="965.42" r="1.28" fill="none" stroke="#3a3a55" stroke-width="0.75"/>
<circle cx="146.42" cy="972.72" r="1.28" fill="none" stroke="#3a3a55" stroke-width="0.75"/>
<circle cx="75.09" cy="972.29" r="1.35" fill="#ed1c24" stroke="none" stroke-width="0"/>
<circle cx="57.8" cy="960.89" r="1.35" fill="#ed1c24" stroke="none" stroke-width="0"/>
<circle cx="58.72" cy="968.02" r="1.35" fill="#ed1c24" stroke="none" stroke-width="0"/>
<circle cx="62.94" cy="965.33" r="1.35" fill="#ed1c24" stroke="none" stroke-width="0"/>
<circle cx="70.08" cy="968.94" r="1.35" fill="#ed1c24" stroke="none" stroke-width="0"/>
<circle cx="59.14" cy="972.03" r="1.35" fill="#ed1c24" stroke="none" stroke-width="0"/>
<circle cx="66.3" cy="961.15" r="1.35" fill="#ed1c24" stroke="none" stroke-width="0"/>
<circle cx="63.12" cy="971.66" r="1.35" fill="#ed1c24" stroke="none" stroke-width="0"/>
<circle cx="71.43" cy="965.47" r="1.35" fill="#ed1c24" stroke="none" stroke-width="0"/>
<circle cx="73.8" cy="961.23" r="1.35" fill="#ed1c24" stroke="none" stroke-width="0"/>
<circle cx="138.15" cy="971.66" r="1.35" fill="#ed1c24" stroke="none" stroke-width="0"/>
<circle cx="129.17" cy="961.87" r="1.35" fill="#ed1c24" stroke="none" stroke-width="0"/>
<circle cx="146.15" cy="961.26" r="1.35" fill="#ed1c24" stroke="none" stroke-width="0"/>
<circle cx="129.38" cy="968.1" r="1.35" fill="#ed1c24" stroke="none" stroke-width="0"/>
<circle cx="142.55" cy="960.96" r="1.35" fill="#ed1c24" stroke="none" stroke-width="0"/>
<circle cx="130.45" cy="972.37" r="1.35" fill="#ed1c24" stroke="none" stroke-width="0"/>
<circle cx="138.08" cy="964.62" r="1.35" fill="#ed1c24" stroke="none" stroke-width="0"/>
<circle cx="130.38" cy="964.93" r="1.35" fill="#ed1c24" stroke="none" stroke-width="0"/>
<circle cx="142.08" cy="964.66" r="1.35" fill="#ed1c24" stroke="none" stroke-width="0"/>
<circle cx="133.13" cy="961.56" r="1.35" fill="#ed1c24" stroke="none" stroke-width="0"/>
<text x="45.3" y="940.2" font-size="14.6" text-anchor="start" fill="#231f20" textLength="35.2" lengthAdjust="spacingAndGlyphs">ChR2</text>
<text x="121.3" y="940.2" font-size="14.6" text-anchor="start" fill="#231f20" textLength="35" lengthAdjust="spacingAndGlyphs">ChR2</text>
<line x1="34.6" y1="1008.3" x2="34.6" y2="1000.17" stroke="#f08a8d" stroke-width="0.9"/>
<line x1="30.6" y1="1013.55" x2="26.85" y2="1016.3" stroke="#f08a8d" stroke-width="0.9"/>
<line x1="38.6" y1="1013.55" x2="42.35" y2="1016.3" stroke="#f08a8d" stroke-width="0.9"/>
<path d="M34.6 1008.3 L38.6 1013.55 L30.6 1013.55 Z" fill="#ed1c24"/>
<text x="46.1" y="1014.9" font-size="14.5" text-anchor="start" fill="#231f20" textLength="99.5" lengthAdjust="spacingAndGlyphs">Cortical Neuron</text>
<circle cx="34.6" cy="1026.3" r="6" fill="#c8102e" stroke="none" stroke-width="0"/>
<text x="46.1" y="1030.1" font-size="14.5" text-anchor="start" fill="#231f20" textLength="51.8" lengthAdjust="spacingAndGlyphs">D1-SPN</text>
<circle cx="34.6" cy="1043" r="5.2" fill="#fff" stroke="#333" stroke-width="1.1"/>
<text x="46.1" y="1047.5" font-size="14.5" text-anchor="start" fill="#231f20" textLength="51.8" lengthAdjust="spacingAndGlyphs">D2-SPN</text>
<path d="M779 925.11 C778.08 925 777.37 922.94 775.9 922.05 C774.43 921.16 772.98 920.28 770.2 919.76 C767.42 919.23 763.67 918.8 759.2 918.9 C754.73 919 748.65 919.58 743.4 920.33 C738.15 921.08 732.95 922.12 727.7 923.39 C722.45 924.66 717.15 925.7 711.9 927.97 C706.65 930.25 700.37 933.51 696.2 937.05 C692.03 940.58 689.27 944.61 686.9 949.17 C684.53 953.74 682.98 959.04 682 964.45 C681.02 969.87 680.9 975.6 681 981.64 C681.1 987.69 681.43 994.25 682.6 1000.74 C683.77 1007.24 685.73 1014.94 688 1020.61 C690.27 1026.27 692.9 1030.32 696.2 1034.74 C699.5 1039.17 703.65 1043.97 707.8 1047.16 C711.95 1050.34 716.13 1051.95 721.1 1053.84 C726.07 1055.74 733.22 1057.95 737.6 1058.52 C741.98 1059.09 744.68 1058.08 747.4 1057.28 C750.12 1056.48 752.13 1054.64 753.9 1053.75 C755.67 1052.85 756.3 1052.49 758 1051.93 C759.7 1051.37 761.7 1051.2 764.1 1050.4 C766.5 1049.61 769.92 1048.27 772.4 1047.16 C774.88 1046.04 776.52 1043.91 779 1043.72 C781.48 1043.53 784 1044.71 787.3 1046.01 C790.6 1047.32 794.95 1049.74 798.8 1051.55 C802.65 1053.36 806.8 1055.7 810.4 1056.9 C814 1058.09 816.53 1058.97 820.4 1058.71 C824.27 1058.46 830.18 1056.83 833.6 1055.37 C837.02 1053.91 839.07 1051.79 840.9 1049.93 C842.73 1048.06 843.43 1045.61 844.6 1044.2 C845.77 1042.78 846.15 1042.46 847.9 1041.43 C849.65 1040.39 852.52 1039.6 855.1 1037.99 C857.68 1036.38 860.92 1034.15 863.4 1031.78 C865.88 1029.41 867.92 1027.02 870 1023.76 C872.08 1020.5 874.4 1016.68 875.9 1012.2 C877.4 1007.73 878.33 1002.02 879 996.92 C879.67 991.83 879.9 986.74 879.9 981.64 C879.9 976.55 879.77 970.9 879 966.36 C878.23 961.83 877.4 958.48 875.3 954.43 C873.2 950.37 869.98 945.62 866.4 942.01 C862.82 938.4 858.53 935.42 853.8 932.75 C849.07 930.07 843.27 927.77 838 925.97 C832.73 924.17 827.45 922.99 822.2 921.96 C816.95 920.92 811.22 920.21 806.5 919.76 C801.78 919.31 797.32 919.15 793.9 919.28 C790.48 919.41 788.08 919.95 786 920.52 C783.92 921.1 782.57 921.96 781.4 922.72 C780.23 923.48 779.92 925.22 779 925.11Z" fill="none" stroke="#231f20" stroke-width="2.3" stroke-linejoin="round" stroke-linecap="round"/>
<line x1="780" y1="923.87" x2="780" y2="960.16" stroke="#231f20" stroke-width="2.1"/>
<path d="M705.8 999.6 C706.17 998.04 706.98 993.39 708 990.24 C709.02 987.09 710.25 983.74 711.9 980.69 C713.55 977.63 715.48 974.67 717.9 971.9 C720.32 969.13 723.32 966.33 726.4 964.07 C729.48 961.81 732.48 960.41 736.4 958.34 C740.32 956.27 746.65 953.18 749.9 951.66 C753.15 950.13 754.32 949.67 755.9 949.17 C757.48 948.68 758.2 948.49 759.4 948.7 C760.6 948.9 762.07 949.52 763.1 950.41 C764.13 951.31 764.65 952.74 765.6 954.04 C766.55 955.35 767.53 957.18 768.8 958.25 C770.07 959.31 771.42 959.93 773.2 960.44 C774.98 960.95 777.4 961.37 779.5 961.3 C781.6 961.24 783.92 960.87 785.8 960.06 C787.68 959.25 789.22 957.83 790.8 956.43 C792.38 955.03 794.03 952.93 795.3 951.66 C796.57 950.38 797.47 949.4 798.4 948.79 C799.33 948.19 799.98 948.03 800.9 948.03 C801.82 948.03 802.85 948.39 803.9 948.79 C804.95 949.19 805.7 949.84 807.2 950.41 C808.7 950.99 810.37 951.35 812.9 952.23 C815.43 953.1 818.9 954.03 822.4 955.67 C825.9 957.31 830.48 959.57 833.9 962.07 C837.32 964.56 840.38 967.64 842.9 970.66 C845.42 973.69 847.37 976.95 849 980.21 C850.63 983.47 851.83 986.58 852.7 990.24 C853.57 993.9 853.95 1000.19 854.2 1002.18" fill="none" stroke="#231f20" stroke-width="2" stroke-linejoin="round" stroke-linecap="round"/>
<path d="M705.8 999.6 C706.17 998.04 706.98 993.39 708 990.24 C709.02 987.09 710.25 983.74 711.9 980.69 C713.55 977.63 715.48 974.67 717.9 971.9 C720.32 969.13 723.32 966.33 726.4 964.07 C729.48 961.81 734.73 959.3 736.4 958.34" fill="none" stroke="#231f20" stroke-width="3" stroke-linejoin="round" stroke-linecap="round"/>
<path d="M822.4 955.67 C824.32 956.73 830.48 959.57 833.9 962.07 C837.32 964.56 840.38 967.64 842.9 970.66 C845.42 973.69 847.37 976.95 849 980.21 C850.63 983.47 851.83 986.58 852.7 990.24 C853.57 993.9 853.95 1000.19 854.2 1002.18" fill="none" stroke="#231f20" stroke-width="3" stroke-linejoin="round" stroke-linecap="round"/>
<path d="M722.9 966.55 C724.65 965.65 729.43 962.69 733.4 961.11 C737.37 959.54 743.02 957.86 746.7 957.1 C750.38 956.34 752.87 955.83 755.5 956.53 C758.13 957.23 760.18 959.71 762.5 961.3 C764.82 962.89 767.3 964.93 769.4 966.08 C771.5 967.22 773.1 967.72 775.1 968.18 C777.1 968.64 779.2 968.94 781.4 968.85 C783.6 968.75 786.2 968.26 788.3 967.61 C790.4 966.95 792 966.08 794 964.93 C796 963.79 798.2 961.73 800.3 960.73 C802.4 959.73 804.5 959.33 806.6 958.91 C808.7 958.5 810.27 958.12 812.9 958.25 C815.53 958.37 818.48 958.33 822.4 959.68 C826.32 961.03 834.07 965.25 836.4 966.36" fill="none" stroke="#231f20" stroke-width="1.7" stroke-linejoin="round" stroke-linecap="round"/>
<path d="M754.9 956.72 L762.5 961.3 L769.4 966.27 L766.9 971.14 L763.9 976.39 L761.8 982.12 L760 975.91 L757.9 966.36Z" fill="#231f20" stroke="#231f20" stroke-width="0.6" stroke-linejoin="round" stroke-linecap="round"/>
<path d="M804.4 959.3 L800.3 960.73 L794 964.93 L790.8 967.7 L793.4 972.09 L796.4 976.87 L798.4 982.12 L800.2 975.91 L802.2 967.32Z" fill="#231f20" stroke="#231f20" stroke-width="0.6" stroke-linejoin="round" stroke-linecap="round"/>
<path d="M761.8 979.73 C761.57 981.01 760.8 984.67 760.4 987.37 C760 990.08 759.58 993.14 759.4 995.97 C759.22 998.8 759.32 1002.97 759.3 1004.37" fill="none" stroke="#231f20" stroke-width="2.2" stroke-linejoin="round" stroke-linecap="round"/>
<path d="M798.4 979.73 C798.5 981.01 798.83 984.67 799 987.37 C799.17 990.08 799.33 993.14 799.4 995.97 C799.47 998.8 799.4 1002.97 799.4 1004.37" fill="none" stroke="#231f20" stroke-width="2.2" stroke-linejoin="round" stroke-linecap="round"/>
<text x="781" y="884" font-size="19.5" text-anchor="middle" fill="#231f20" textLength="24.6" lengthAdjust="spacingAndGlyphs">M1</text>
<path d="M730.8 924 V903.4 A2.4 2.4 0 0 1 735.6 903.4 V924" fill="#fff" stroke="#231f20" stroke-width="1.3"/>
<path d="M821.2 926 V906.4 A2.4 2.4 0 0 1 826 906.4 V926" fill="#fff" stroke="#231f20" stroke-width="1.3"/>
<path d="M733.4 924.7 L746 938.9 L721.5 938.9 Z" fill="url(#gv)"/>
<path d="M823.6 927.5 L839.7 940.8 L814 940.8 Z" fill="url(#gv)"/>
<line x1="723.5" y1="939" x2="720" y2="972" stroke="#e8474c" stroke-width="0.7"/>
<line x1="723.5" y1="936" x2="723.5" y2="930.48" stroke="#f08a8d" stroke-width="0.9"/>
<line x1="720.78" y1="939.57" x2="718.23" y2="941.44" stroke="#f08a8d" stroke-width="0.9"/>
<line x1="726.22" y1="939.57" x2="728.77" y2="941.44" stroke="#f08a8d" stroke-width="0.9"/>
<path d="M723.5 936 L726.22 939.57 L720.78 939.57 Z" fill="#ed1c24"/>
<line x1="730.5" y1="942" x2="725" y2="970" stroke="#e8474c" stroke-width="0.7"/>
<line x1="730.5" y1="939" x2="730.5" y2="933.48" stroke="#f08a8d" stroke-width="0.9"/>
<line x1="727.78" y1="942.57" x2="725.23" y2="944.44" stroke="#f08a8d" stroke-width="0.9"/>
<line x1="733.22" y1="942.57" x2="735.77" y2="944.44" stroke="#f08a8d" stroke-width="0.9"/>
<path d="M730.5 939 L733.22 942.57 L727.78 942.57 Z" fill="#ed1c24"/>
<line x1="738" y1="939" x2="729" y2="968" stroke="#e8474c" stroke-width="0.7"/>
<line x1="738" y1="936" x2="738" y2="930.48" stroke="#f08a8d" stroke-width="0.9"/>
<line x1="735.28" y1="939.57" x2="732.73" y2="941.44" stroke="#f08a8d" stroke-width="0.9"/>
<line x1="740.72" y1="939.57" x2="743.27" y2="941.44" stroke="#f08a8d" stroke-width="0.9"/>
<path d="M738 936 L740.72 939.57 L735.28 939.57 Z" fill="#ed1c24"/>
<line x1="745.5" y1="932" x2="733" y2="966" stroke="#e8474c" stroke-width="0.7"/>
<line x1="745.5" y1="929" x2="745.5" y2="923.48" stroke="#f08a8d" stroke-width="0.9"/>
<line x1="742.78" y1="932.57" x2="740.23" y2="934.44" stroke="#f08a8d" stroke-width="0.9"/>
<line x1="748.22" y1="932.57" x2="750.77" y2="934.44" stroke="#f08a8d" stroke-width="0.9"/>
<path d="M745.5 929 L748.22 932.57 L742.78 932.57 Z" fill="#ed1c24"/>
<line x1="811" y1="939" x2="833" y2="968" stroke="#e8474c" stroke-width="0.7"/>
<line x1="811" y1="936" x2="811" y2="930.48" stroke="#f08a8d" stroke-width="0.9"/>
<line x1="808.28" y1="939.57" x2="805.73" y2="941.44" stroke="#f08a8d" stroke-width="0.9"/>
<line x1="813.72" y1="939.57" x2="816.27" y2="941.44" stroke="#f08a8d" stroke-width="0.9"/>
<path d="M811 936 L813.72 939.57 L808.28 939.57 Z" fill="#ed1c24"/>
<line x1="818" y1="942" x2="837" y2="969" stroke="#e8474c" stroke-width="0.7"/>
<line x1="818" y1="939" x2="818" y2="933.48" stroke="#f08a8d" stroke-width="0.9"/>
<line x1="815.28" y1="942.57" x2="812.73" y2="944.44" stroke="#f08a8d" stroke-width="0.9"/>
<line x1="820.72" y1="942.57" x2="823.27" y2="944.44" stroke="#f08a8d" stroke-width="0.9"/>
<path d="M818 939 L820.72 942.57 L815.28 942.57 Z" fill="#ed1c24"/>
<line x1="826" y1="941" x2="841" y2="970" stroke="#e8474c" stroke-width="0.7"/>
<line x1="826" y1="938" x2="826" y2="932.48" stroke="#f08a8d" stroke-width="0.9"/>
<line x1="823.28" y1="941.57" x2="820.73" y2="943.44" stroke="#f08a8d" stroke-width="0.9"/>
<line x1="828.72" y1="941.57" x2="831.27" y2="943.44" stroke="#f08a8d" stroke-width="0.9"/>
<path d="M826 938 L828.72 941.57 L823.28 941.57 Z" fill="#ed1c24"/>
<line x1="834" y1="945" x2="846" y2="972" stroke="#e8474c" stroke-width="0.7"/>
<line x1="834" y1="942" x2="834" y2="936.48" stroke="#f08a8d" stroke-width="0.9"/>
<line x1="831.28" y1="945.57" x2="828.73" y2="947.44" stroke="#f08a8d" stroke-width="0.9"/>
<line x1="836.72" y1="945.57" x2="839.27" y2="947.44" stroke="#f08a8d" stroke-width="0.9"/>
<path d="M834 942 L836.72 945.57 L831.28 945.57 Z" fill="#ed1c24"/>
<circle cx="718.84" cy="978.92" r="1.28" fill="none" stroke="#3a3a55" stroke-width="0.75"/>
<circle cx="719.59" cy="983.25" r="1.28" fill="none" stroke="#3a3a55" stroke-width="0.75"/>
<circle cx="731.91" cy="974.88" r="1.28" fill="none" stroke="#3a3a55" stroke-width="0.75"/>
<circle cx="722.44" cy="978.37" r="1.28" fill="none" stroke="#3a3a55" stroke-width="0.75"/>
<circle cx="718.49" cy="970.56" r="1.28" fill="none" stroke="#3a3a55" stroke-width="0.75"/>
<circle cx="731.73" cy="982.87" r="1.28" fill="none" stroke="#3a3a55" stroke-width="0.75"/>
<circle cx="727.56" cy="969.62" r="1.28" fill="none" stroke="#3a3a55" stroke-width="0.75"/>
<circle cx="727.24" cy="978.9" r="1.28" fill="none" stroke="#3a3a55" stroke-width="0.75"/>
<circle cx="832.16" cy="977.69" r="1.28" fill="none" stroke="#3a3a55" stroke-width="0.75"/>
<circle cx="839.5" cy="985.48" r="1.28" fill="none" stroke="#3a3a55" stroke-width="0.75"/>
<circle cx="840.9" cy="973.82" r="1.28" fill="none" stroke="#3a3a55" stroke-width="0.75"/>
<circle cx="847.6" cy="984.68" r="1.28" fill="none" stroke="#3a3a55" stroke-width="0.75"/>
<circle cx="836.41" cy="981.78" r="1.28" fill="none" stroke="#3a3a55" stroke-width="0.75"/>
<circle cx="843.52" cy="985.14" r="1.28" fill="none" stroke="#3a3a55" stroke-width="0.75"/>
<circle cx="837.3" cy="973.15" r="1.28" fill="none" stroke="#3a3a55" stroke-width="0.75"/>
<circle cx="832.45" cy="974.24" r="1.28" fill="none" stroke="#3a3a55" stroke-width="0.75"/>
<circle cx="715.13" cy="978.95" r="1.35" fill="#ed1c24" stroke="none" stroke-width="0"/>
<circle cx="720.18" cy="974.32" r="1.35" fill="#ed1c24" stroke="none" stroke-width="0"/>
<circle cx="722.31" cy="970.13" r="1.35" fill="#ed1c24" stroke="none" stroke-width="0"/>
<circle cx="723.48" cy="983.34" r="1.35" fill="#ed1c24" stroke="none" stroke-width="0"/>
<circle cx="727.53" cy="973.91" r="1.35" fill="#ed1c24" stroke="none" stroke-width="0"/>
<circle cx="731.08" cy="970.26" r="1.35" fill="#ed1c24" stroke="none" stroke-width="0"/>
<circle cx="728.43" cy="982.34" r="1.35" fill="#ed1c24" stroke="none" stroke-width="0"/>
<circle cx="730.89" cy="978.13" r="1.35" fill="#ed1c24" stroke="none" stroke-width="0"/>
<circle cx="715.57" cy="982.53" r="1.35" fill="#ed1c24" stroke="none" stroke-width="0"/>
<circle cx="715.26" cy="974.23" r="1.35" fill="#ed1c24" stroke="none" stroke-width="0"/>
<circle cx="848.24" cy="973.65" r="1.35" fill="#ed1c24" stroke="none" stroke-width="0"/>
<circle cx="840.14" cy="981.36" r="1.35" fill="#ed1c24" stroke="none" stroke-width="0"/>
<circle cx="835.81" cy="969.55" r="1.35" fill="#ed1c24" stroke="none" stroke-width="0"/>
<circle cx="833.42" cy="981.06" r="1.35" fill="#ed1c24" stroke="none" stroke-width="0"/>
<circle cx="840.18" cy="978.06" r="1.35" fill="#ed1c24" stroke="none" stroke-width="0"/>
<circle cx="832" cy="969.81" r="1.35" fill="#ed1c24" stroke="none" stroke-width="0"/>
<circle cx="843.46" cy="976.95" r="1.35" fill="#ed1c24" stroke="none" stroke-width="0"/>
<circle cx="844.03" cy="973.44" r="1.35" fill="#ed1c24" stroke="none" stroke-width="0"/>
<circle cx="839.94" cy="970.29" r="1.35" fill="#ed1c24" stroke="none" stroke-width="0"/>
<circle cx="835.58" cy="984.54" r="1.35" fill="#ed1c24" stroke="none" stroke-width="0"/>
<text x="690.1" y="963.5" font-size="14.6" text-anchor="start" fill="#231f20" textLength="34" lengthAdjust="spacingAndGlyphs">ChR2</text>
<text x="834.8" y="963.5" font-size="14.6" text-anchor="start" fill="#231f20" textLength="34" lengthAdjust="spacingAndGlyphs">ChR2</text>
<line x1="713.9" y1="1006.8" x2="713.9" y2="998.67" stroke="#f08a8d" stroke-width="0.9"/>
<line x1="709.9" y1="1012.05" x2="706.15" y2="1014.8" stroke="#f08a8d" stroke-width="0.9"/>
<line x1="717.9" y1="1012.05" x2="721.65" y2="1014.8" stroke="#f08a8d" stroke-width="0.9"/>
<path d="M713.9 1006.8 L717.9 1012.05 L709.9 1012.05 Z" fill="#ed1c24"/>
<text x="725.4" y="1013.6" font-size="14.5" text-anchor="start" fill="#231f20" textLength="99.5" lengthAdjust="spacingAndGlyphs">Cortical Neuron</text>
<circle cx="713.9" cy="1025" r="6" fill="#c8102e" stroke="none" stroke-width="0"/>
<text x="725.4" y="1029.7" font-size="14.5" text-anchor="start" fill="#231f20" textLength="51.8" lengthAdjust="spacingAndGlyphs">D1-SPN</text>
<circle cx="713.9" cy="1042" r="5.2" fill="#fff" stroke="#333" stroke-width="1.1"/>
<text x="725.4" y="1046.7" font-size="14.5" text-anchor="start" fill="#231f20" textLength="51.8" lengthAdjust="spacingAndGlyphs">D2-SPN</text>
<path d="M244.27 332.01 L244.64 331.44 L246.03 331.01 L246.92 331.17 L247.3 331.44 L248.18 332.04 L248.85 333.16 L249.71 337.06 L249.36 338.14 L250.17 341.13 L250.11 342.6 L250.7 344.36 L250.48 347.07 L249.41 349.18 L249.55 352.43 L249.27 354.33 L249.8 355.93 L249.54 357.39 L248.42 360.72 L248.71 363.82 L247.47 366.59 L246.97 368.58 L246.85 371.51 L245.64 373.73 L245.74 376.65 L245.76 378.32 L245.94 380.55 L245.12 383.81 L244.96 385.58 L245.34 387.73 L247.42 389.15 L249.08 390.05 L250.57 391.53 L252.16 392.31 L254.07 393.99 L254.64 394.66 L254.64 395.87 L255.75 397.45 L256.06 397.58 L255.38 399.29 L254.8 400.15 L255.06 400.81 L255.16 402.98 L255.65 403.56 L256.41 405.79 L256.22 406.42 L256.89 408.09 L256.87 408.82 L255.24 408.52 L254.15 409.2 L253.55 407.95 L250.77 407.84 L249.11 408.1 L247.87 407.95 L245.06 408.7 L243.31 409.67 L241.78 410.74 L238.9 411.51 L237.22 411.46 L235.6 412.63" fill="none" stroke="#a3a5a8" stroke-width="1.3" stroke-linejoin="round" stroke-linecap="round"/>
<path d="M247.74 402.23 L251.83 401.78 L254.19 401.15 L255.9 399.91 L257.39 399.75 L259.24 398.44 L261.35 398.08 L263.63 397.47 L265.22 397.16 L267.46 397.01 L269.49 397.45 L272.48 396.1 L274.1 396.09 L276.34 395.71 L279.11 396.92 L280.63 396.13 L282.28 395.87 L284.85 396.39 L287.75 396.53 L289.06 398.22 L292.25 397.62 L294.74 398.01 L296.61 399.91 L298.98 400.03 L300.01 400.09 L301.76 401.2 L304.66 401.94 L306.74 401.88 L309.8 403.71 L311.87 404.09 L313.82 404.64 L314.98 404.96 L317.32 404.9 L319.69 406.21" fill="none" stroke="#a3a5a8" stroke-width="1.3" stroke-linejoin="round" stroke-linecap="round"/>
<path d="M242.54 331.66 L242.85 331.19 L244.66 331.52 L247.37 330.87 L248.98 331.4 L250.31 330.37 L249.94 330.23 L249.73 330.49 L249.49 331.98 L248.61 331.98 L247.16 333.08 L245.52 333.49 L246.6 334.15 L247.16 334.1 L247.79 334.91 L249.83 335.24 L252.62 334.93 L253.44 335.95 L254.67 335.48" fill="none" stroke="#a3a5a8" stroke-width="1.3" stroke-linejoin="round" stroke-linecap="round"/>
<path d="M251.21 332.01 L253.83 331.34 L256.19 331.03 L259.21 331.81 L260.02 331.67 L263.24 331.25 L264.35 330.93 L266 330 L269.18 330.75 L272.05 330.9 L275.05 330.59 L278.65 329.41 L280.76 329.33 L283.58 329.6 L286.35 329.28 L288.82 330 L291.65 329.46 L294.35 330.28 L296.39 330.55 L298.73 330.32 L300.98 329.98 L303.13 330.69 L304.86 332.12 L307.5 332.26 L310.69 333.07 L312.47 333.77 L315.06 334.98 L316.52 335.57 L318.7 336.08 L321.33 337.35 L322.81 338.72 L325 339.41 L326.16 340.83 L327.51 342.69 L328.98 344.43 L330.67 347.35 L332.54 349.78 L334.16 351.44 L334.4 354.83 L334.91 355.76 L333.39 357.98 L332.4 359.28 L330.99 361.35 L330.08 363.02 L326.66 364.03 L324.25 364.44 L322.55 366.26 L319.58 366.87 L317.36 366.83 L315.74 367.97 L311.78 367.99 L309.52 368.46 L307.14 368.78 L305.98 368.69 L303.81 369.65 L301.15 369.76 L300.13 370.29 L297.43 371.24 L295.85 371.46 L292.25 370.68 L289.66 371.5 L287.5 370.64 L285.2 371.72 L283.26 370.74 L279.83 371.52 L277.96 371.04 L274.92 369.83 L273.44 370.08 L270.4 370.43 L269.05 369.84 L266.37 369.42 L264.45 368.94 L261.77 366.88 L259.08 366.08 L256.24 363.06 L254.52 361.27 L252.14 359.25 L250.56 357.59 L249.79 356.21 L249.69 354.76 L248.88 353.22 L248.45 351.61 L248.25 350.18 L248.94 349.42 L248.3 347.64 L249.75 345.31 L250.09 343.94 L250.2 342.7 L250.61 340.51 L251.48 339.64 L251.34 337.99 L252.21 336.32 L252.1 334.61 L251.88 333.15 L252.14 333.07 L252.94 332.01" fill="none" stroke="#2a2627" stroke-width="1.2" stroke-linejoin="round" stroke-linecap="round"/>
<path d="M251.21 345.88 L253.06 345.99 L255.81 347.82 L260.52 348.56 L261.64 348.46 L263.62 349.29 L265.47 349.75 L267.66 350.97 L270.69 350.76 L271.64 351.75 L273.77 351.22 L275.37 351.6 L278.22 352.12 L279.99 352.47 L281.95 352.43 L284.31 352.94 L286.5 352.63 L289.13 353.17 L291.74 353.71 L294.18 354.01 L296.23 354.28 L297.86 353.43 L300.7 352.97 L302.32 353.47 L303.27 353.41 L306.41 352.77 L308.07 352.58 L309.09 351.71 L311.46 351.59 L313.74 351.01 L315.24 350.42 L317.2 349.46 L318.36 347.72 L320.03 347.41 L321.79 347.12 L324.25 345.84 L326.14 344.71 L327.73 342.53 L329.94 342.29 L331.29 340.68 L333.24 338.7 L335.09 337.66 L335.82 336.49 L338.44 335.22 L341.7 334.43 L344.24 332.17 L346.72 331.51 L349.55 330.55 L351.97 329.09 L354.34 328.76 L357.12 328.54 L358.79 327.84 L360.56 327.96 L363.94 328.31 L365.94 327.61 L367.71 327.73 L369.63 327.11 L372.4 327.13 L374.68 328.1 L375.45 327.31 L378.75 327.98 L380.36 326.9 L382.16 327.8 L384.14 327.21 L386.01 327.07 L389.15 326.45 L391.39 326.91 L393.93 327.1 L394.93 327.31 L397.24 325.98 L399.85 326.57 L403.27 326.24 L405.12 326.28 L407.23 326.97 L408.97 326.46" fill="none" stroke="#2a2627" stroke-width="1.2" stroke-linejoin="round" stroke-linecap="round"/>
<path d="M252.07 356.28 L253.45 356.76 L257.51 356.12 L261.03 357.24 L264.76 356.75 L265.96 356.81 L268.82 357.01 L269.86 356.48 L271.69 355.63 L273.52 356.22 L275.87 355.82 L278.13 354.12 L280.82 353.27 L283.03 353.49 L286.16 352.4 L288.13 351.56 L290.91 350.06 L292.71 348.31 L294.85 347.86 L296.63 347.12 L297.71 345.23 L301.15 343.15 L302.21 341.02 L303.25 339.05 L305.44 335.88 L306.49 333.65 L308.5 331.86 L311.05 329.93 L313.02 330.31 L315.35 328.63 L318 329.16 L319.4 327.33 L321.01 326.77 L323.22 326.27 L326.46 325.71 L329.22 325.42" fill="none" stroke="#2a2627" stroke-width="1.2" stroke-linejoin="round" stroke-linecap="round"/>
<path d="M252.94 331.14 L255.06 331.3 L258.05 330.06 L260.83 329.55 L264.39 328.6 L265.81 328.19 L268.98 327.66 L272.02 327.86 L274.55 327.06 L275.71 326.91 L278.18 327.01 L281.27 327.41 L283.51 326.06 L284.67 326.89 L288.14 326.42 L289.92 325.61 L293.43 326.73 L296.28 325.94" fill="none" stroke="#2a2627" stroke-width="1.2" stroke-linejoin="round" stroke-linecap="round"/>
<path d="M408.97 326.46 L408.66 327.4 L407.6 327.13 L404.94 327.71 L404.32 329.22 L404.23 329.99 L403.98 330.66 L405.18 330.84 L407.15 331.58 L410.54 332.15 L414.19 331.65 L415.88 332 L417.84 333.16 L416.86 332.81 L416.2 334.09 L414.12 334.16 L412.33 334.55 L409.99 336.06 L409.63 337.42 L408.86 338.64 L407.56 340.12 L408.45 342.76 L407.41 343.75 L407.55 346.46 L407.12 347.26 L406.86 349.25 L405.37 348.74 L404.62 349.88 L404.36 350 L404.1 351.13 L403.78 350.66 L405.25 350.96 L406.42 350.79 L407.27 351.4 L409.19 351.54 L411.15 350.42 L412.04 350.96 L413.54 352.24 L413.41 352.18 L413.98 353.88 L414.3 353.42 L414.66 354.69 L416.48 355.97 L417.07 356.49 L418.33 355.75 L418.27 356.75 L420.05 355.51 L420.76 356.05 L421.11 356.28" fill="none" stroke="#2a2627" stroke-width="1.2" stroke-linejoin="round" stroke-linecap="round"/>
<path d="M381.23 337.21 L382.41 336.32 L384.03 334.89 L386.44 334.29 L389.79 332.88 L392.08 332.12 L393.16 332.47 L395.64 331.81 L396.38 332.07 L398.6 333.1 L399.86 332.78 L402.01 332.75 L401.91 334.19 L402.06 333.3 L399.7 333.53 L399.28 333.99 L397.51 335.06 L396.13 334.25 L397.5 334.78 L398.7 334.87 L402.35 334.1 L404.05 334.69 L407.51 334.43 L409.74 333.45 L410.9 334 L415.74 334.51 L417.64 333.74" fill="none" stroke="#2a2627" stroke-width="1.2" stroke-linejoin="round" stroke-linecap="round"/>
<path d="M252.07 332.01 L252.36 332.41 L253.1 333.8 L254.59 334.59 L255.14 336.72 L255.74 338.1 L255.7 338.7 L255.17 339.98 L255.43 340.91 L254.02 343.21 L253.48 343.46 L252.62 345.2 L252.94 345.88" fill="none" stroke="#2a2627" stroke-width="1.2" stroke-linejoin="round" stroke-linecap="round"/>
<path d="M445.72 329.64 L445.98 330.23 L447.38 330.07 L447.24 328.58 L447.99 329 L450.16 328.79 L451.13 328.7 L454.22 329.1 L457.88 329.44 L461.52 328.53 L465.21 328.95 L467.29 329.26 L468.4 329.21 L466.46 329.39 L463.39 330.32 L462.06 329.53 L459.84 330.51 L457.94 329.5 L456.31 330.2 L452.95 329.87 L449.82 331.76 L449.28 333.27 L447.79 334.19 L448.07 336.13 L449.74 338.9 L450.17 340.75 L450.38 342.81 L449.74 345.07 L451.08 345.87 L450.98 348.33 L450.8 349.62 L450.94 350.94 L451.16 352.95 L451.51 353.68 L450.13 355.01 L450.53 355.87 L449.43 356.92 L449.68 358.44 L448.4 358.86 L448.96 360.61 L449.63 361.05 L449.37 363.02 L450.16 363.53 L450.32 365.6 L450.41 366.15 L450.2 366.99 L450.35 368.85 L448.94 368.72 L448.84 369.79 L447.43 371.95 L448.09 373.13 L448.53 374.66 L449.31 375.19 L449.62 377.4 L451.75 379.63 L452.45 380.99 L454.64 382.6 L456.4 384.22 L459.33 387.26 L461.4 388.79 L465.31 391.54 L467.58 392.17 L472.01 394.87 L474.72 394.59 L478.73 395.8 L482.29 396.63 L484.21 396.15 L486.18 396.42 L488.01 397.47 L491 396.67 L492.95 397.17 L496.22 397.32 L497.92 397.27 L501.05 398.34 L502.33 398 L505.31 397.35 L507.37 397.56 L508.98 398.29 L510.96 398.04 L512.78 398.53 L514.91 398.73 L517.06 398.5 L518.57 398.85 L521.46 398.37 L524.07 399.22 L525.85 398.43 L528.09 398.4 L529.83 398.9 L532.02 398.96 L534.86 398.43 L537.28 398.53 L539.61 399.53 L541.48 398.5 L543.65 398.97 L546.49 398.62 L548.66 399.79 L550.79 399.46 L552.32 399.63 L555.06 399.52 L557.69 398.27 L559.53 399.26 L560.51 398.3 L563.52 397.91 L565.74 397.96 L567.67 397.64 L569.25 398.62 L570.87 397.53 L573.33 397.47 L574.7 397.14 L576.78 398.1 L579.43 397.91 L580.6 397.63 L582.42 397.14 L585.07 396.77 L587.43 396.96 L589.03 397.34 L590.36 397.4 L593.13 396.45 L595.32 396.28 L597.55 396.75 L598.59 397.04 L601.67 396.82 L602.67 397.7 L601.89 399.31 L600.25 401.74 L599.25 402.55 L599.35 402.57 L601.09 403.46 L604.99 404.41 L608.38 405.51 L611.35 404.88 L615.13 404.86 L616.99 405.77" fill="none" stroke="#a3a5a8" stroke-width="1.3" stroke-linejoin="round" stroke-linecap="round"/>
<path d="M471.37 394.18 L473.12 395.14 L476.5 396.83 L478.63 398.13 L481.12 398.57 L483.44 399.95 L485 401.61 L487.7 401.37 L490.04 402.97 L493.01 403.62 L494.19 403.32 L495.49 404.32 L498.36 404.19 L500.55 404.61 L503.04 405.32 L504.37 405.76 L506.39 405.43 L509.23 405.2 L511.24 406.11 L513.67 405.92 L517.51 405.46 L518.41 406.19 L520.83 406.3 L523.24 405.69 L524.48 405.94 L526.12 406.83 L529.19 406.63 L530.09 406.86 L533.17 406.36 L535.18 406.39 L536.45 405.93 L538.47 405.88 L540.64 406.95 L543.31 407.13 L545.5 406.34 L547.43 406.62 L549.93 406.79 L551.55 406.98 L554.94 406.39 L557.19 406.12 L558.67 406.46 L561.3 407.48 L563.24 406.59 L565.37 406.6 L566.38 407.44 L568.88 407.13 L571.23 407.53 L573.25 407.32 L575.88 407.33 L577.8 407.13 L580 406.51 L581.5 406.94 L583.32 407.33 L585.43 406.04 L587.45 407.29 L589.87 406.12 L591.49 405.93 L594.53 406.69 L596.62 406.73 L598.29 406.23 L600.15 406.22 L601.52 405.99 L600.87 405.67 L602.1 404.94" fill="none" stroke="#a3a5a8" stroke-width="1.3" stroke-linejoin="round" stroke-linecap="round"/>
<path d="M473.02 394.18 L476.82 393.88 L477.92 392.15 L480.19 391.23 L483.9 391.57 L486.25 390.8 L488.09 389.48 L489.17 388.67 L491.97 388.28 L493.94 387.83 L496.12 386.82 L498.67 386.85 L500.97 385.65 L505.33 384.88 L508.28 384.09 L509.89 382.95 L513.02 382.73 L515.24 382.03 L517.76 380.87 L520.38 380.42 L522.33 380.46 L522.99 380.56 L525.68 381.79 L525.92 381.21 L527.63 381.27" fill="none" stroke="#a3a5a8" stroke-width="1.3" stroke-linejoin="round" stroke-linecap="round"/>
<path d="M468.89 399.97 L469.3 399.94 L469.41 398.86 L470.32 398.59 L470.96 397.95 L471.83 396.12 L473.31 395.83 L473.5 395.4 L474.69 394.96 L476.88 394.34 L478.02 393.15 L478.75 392.73 L479.64 392.53" fill="none" stroke="#a3a5a8" stroke-width="1.3" stroke-linejoin="round" stroke-linecap="round"/>
<path d="M452.34 324.68 L453.32 323.77 L453.88 323.2 L453.57 322.99 L455.34 322.81 L455.42 322.95 L456.09 322.14 L457.5 322.64 L458.93 322.78 L459.52 322.72 L460.42 323.89 L462.29 324.07 L462.62 323.76 L464.57 323.82 L464.83 323.31 L467.06 322.54 L467 322.22 L468.31 322.72 L467.56 321.7 L467.05 322.22 L466.19 322.48 L464.3 323.15 L463.47 324.61 L460.55 325.61 L459.21 325.34 L459.31 326.4 L457.73 326.33 L455.83 327.05 L454.81 326.83 L454.68 326.96 L454.68 328.41 L455.75 328.33 L456.91 328.61 L457.82 329.12 L459.96 329.59 L462.34 329.37 L463.2 330 L464.19 329.31 L465.93 330.19 L467.21 329.83 L468.26 329.72 L468.43 329.41 L467.79 329.83 L466.28 329.93 L465.1 330.94 L462.25 330.96 L459.37 331.93 L457.62 332.44 L456.73 333.57 L456.35 333.33 L458.47 332.94 L459.88 333.68 L461.21 332.91 L463.13 333.11 L464.75 332.62" fill="none" stroke="#2a2627" stroke-width="1.8" stroke-linejoin="round" stroke-linecap="round"/>
<path d="M453.99 323.85 L455.27 323.79 L455.04 323.7 L456.79 323.73 L457.81 323.48 L459.07 323.27 L458.83 324 L458.25 323.95 L457.7 324.57 L456.24 325.49 L455.53 324.77 L454.67 325.81 L454.12 326.22 L455.27 326.83 L456.26 326.32 L457.48 327.03 L459.96 326.72 L460.19 327.09 L461.44 326.67" fill="none" stroke="#2a2627" stroke-width="1.8" stroke-linejoin="round" stroke-linecap="round"/>
<path d="M882.06 322.55 L882.55 321.82 L883.08 322.13 L885.12 321.37 L885.73 320.75 L886.39 320.96 L887.37 320.39 L888.61 320.9 L888.53 320.68 L888.98 321.13 L889.7 322.17 L890.05 322.65 L889.77 322.99 L890.41 322.94 L890.51 323.54 L891.65 322.58 L892.32 322.64 L892.92 322.7 L893.33 322.36 L893.27 323.4 L891.12 323.9 L891.22 324.49 L889.02 325.22 L888.89 324.62 L887.67 326.36 L888.72 325.55 L888.32 325.48 L889.17 326.4 L890.25 325.44 L892.23 326.25 L892.62 326.27 L895.23 325.92 L897.89 325.81 L900.9 325.41 L902.82 324.87 L905.67 324.67 L907.28 324.13" fill="none" stroke="#a3a5a8" stroke-width="1.3" stroke-linejoin="round" stroke-linecap="round"/>
<path d="M886 327.28 L885.62 328.45 L885.35 328.34 L884.39 329.13 L884.27 330.15 L883.83 331.58 L883.63 333.58 L883.65 335.88 L882.96 337.93 L883.79 339.78 L884.29 342.48 L884.08 344.09 L885.09 345.58 L884.69 348.13 L883.81 349.68 L884.74 351.64 L884.3 353.19 L884.78 354 L885.79 354.98 L886.26 357.63 L886.68 359.91 L887.83 361.33 L889.25 363.69 L889.99 365.01 L891.41 366.76 L893.01 367.65 L893.98 368.82 L894.48 369.51 L895.5 371.39 L896.81 372.14 L897.58 372.72 L898.86 374.68 L900.7 376.72 L901.3 378.53 L904.1 380.23 L904.66 381.84 L906.57 383.57 L910.19 386.05 L912.41 388.23 L915.55 389.89 L917.96 391.79 L920.81 393.53 L923.3 394.64 L925.57 396.51 L927.86 397.42 L929.08 398.67 L931.96 401.19 L933.81 401.6 L936.11 403.34 L937.93 403.69 L939.86 405.01 L942.19 406.03 L944.84 407.67 L945.97 407.93 L947.6 407.9 L950 408.97 L951.2 409.01 L950.71 409.02 L952.19 409.84 L953.26 409.17 L952.99 409.24" fill="none" stroke="#a3a5a8" stroke-width="1.3" stroke-linejoin="round" stroke-linecap="round"/>
<path d="M885.22 369.83 L887.74 369.26 L891.79 369.33 L893.26 369.02 L895.24 369.95 L897.72 370.39 L899.98 370.28 L902.25 369.19 L905.32 369.65 L907.27 369.87 L908.21 371.02 L912.47 372.13 L915.61 372.36 L918.4 374.81 L920.94 376.79 L923.3 378.47 L926.51 378.59 L927.91 380.87 L931.32 381.37 L932.72 383.61 L934.53 385.09 L936.92 385.23 L938.61 387.28 L940.47 388.72 L941.68 390.17 L943.53 391.22 L945.41 392.19 L946.55 394.06 L948.9 395.46 L950 396.33 L951.01 399.06 L953.67 400.64 L954.79 402.03 L957.19 403.85 L957.86 404.23 L958.54 405.8 L959.17 405.94 L960.03 406.46 L960.73 405.65 L959.88 405.66 L960.87 406.08" fill="none" stroke="#2a2627" stroke-width="1.2" stroke-linejoin="round" stroke-linecap="round"/>
<path d="M883.64 373.77 L883.61 374.7 L884.21 376.26 L883.18 377.51 L884.5 378.94 L884.58 379.41 L885.72 381.31 L886.75 382.39 L888.03 382.02 L890.32 383.81 L891.73 384.47 L894.36 384.45 L894.83 385.85 L894.86 385.94 L894.32 387.47 L894.5 387.8 L892.68 389.07 L892.77 389.06 L891.64 390.89 L891.15 391.3 L889.44 392.38 L887.82 392.84 L886.62 394.64 L885.83 395.56 L885.08 396.65 L884.08 397.23 L884.77 399.07 L883.07 400.86 L883.82 401.56 L883.53 403.13 L883.67 403.82 L883.47 406.21 L885.39 406.38 L885.9 406.87 L887.37 407.84 L888.99 409.01 L890.4 409.9 L891.48 409.14 L893.6 409.86 L895.85 410.12 L899.08 411.67 L901.52 412.06 L904.72 410.97 L906.77 411.5 L908.6 412.23 L911.36 411.5 L914.55 411.85 L917.31 410.83 L919.82 410.32 L923.58 411.39 L925.73 409.88 L929.09 410.2 L933.31 410.87 L936.37 409.5 L939.21 410.33 L941.61 410.62 L943.12 409.34 L946.36 410.41 L948.45 409.38 L950.63 409.88 L952.42 408.98 L955.18 408.31 L957.98 407.88 L960.19 407.29 L963.63 406.52 L966.89 406.2 L969.65 406.7 L972.14 406.44 L975.28 406.1 L976.75 405.18 L979.2 405.59 L982.98 404.88 L985.13 404.18 L988.47 404.1 L991 403.35 L993.22 402.98 L996.73 403.44 L998.62 403.68 L1001.51 402.8 L1004.05 402.42 L1007.73 402.33 L1009.55 402.4 L1012.56 402.84 L1015.05 402.82 L1017.75 402.56 L1021.33 401.46 L1023.76 401.46 L1025.97 401.23 L1028.65 402.26 L1031.82 402.07 L1032.79 401.05 L1035.98 400.65 L1037.78 400.92 L1040.05 400.49 L1041.72 400.92 L1044.22 400.39 L1048.26 401.07 L1049.87 400.78 L1052.87 400.16 L1053.63 399.62 L1053.66 400.02 L1054.5 398.6 L1053.34 397.76 L1053.66 397.54 L1052.74 396.2 L1052.81 395.8 L1052.58 394.28 L1051.01 392.09 L1050.83 391.13 L1049.54 389.27 L1048 388.51 L1046.06 388.29 L1043.34 386.17 L1041.39 386.03 L1038.37 385.04 L1033.88 385.27 L1032.08 384.08 L1030.03 384.47 L1026.95 384.2 L1025.04 384.04 L1022.56 384.26 L1021.54 384.41 L1018.81 384.13 L1016.7 384.16 L1014.04 384.31 L1013.14 383.75 L1010.28 383.8 L1008.09 383.08 L1006.49 383.38 L1003.25 383.23 L1001.24 384.29 L998.82 383.29 L997.02 383.5 L993.27 384.16 L991.7 384.18 L989.5 383.7 L987.58 384.78 L984.23 384.11 L982.89 384.88 L980.59 384.57 L977.08 385.07 L973.84 386.55 L969.82 386.49 L967.32 386.17 L964.14 387.52 L960.41 386.97 L958.29 387.28 L955.34 388.02 L953.77 387.49" fill="none" stroke="#2a2627" stroke-width="1.2" stroke-linejoin="round" stroke-linecap="round"/>
<path d="M905.71 406.08 L906.63 405.35 L906.44 404.68 L907.48 404.81 L909.06 403.82 L910.52 402.79 L911.37 401.38 L915.32 400.98 L917.6 399.11 L920 398.44 L921.71 397.44 L923.48 397.49 L924.8 396.4 L928.02 396.8 L929.82 396.08 L932.94 395.6 L935.95 393.74 L938.31 393.56 L940.93 393.18 L943.24 393.8 L945.86 392.57 L948.29 392.59 L951.61 392.14 L953.47 392.42 L955.99 392.16 L959.89 391.96 L961.42 391.94 L964.07 391.71 L965.51 392.1 L967.63 393.06 L969.33 393.53 L970.55 394.79 L972.92 395.79 L973.58 396.84 L973.95 398.12 L975.11 399.3 L975.9 400.7 L975.71 401.85 L975.39 403.54 L974.88 404.63 L972.73 404.94 L971.49 405.18 L968.14 405.78 L964.82 406.61 L962.3 406.38 L960.87 406.08" fill="none" stroke="#2a2627" stroke-width="1.2" stroke-linejoin="round" stroke-linecap="round"/>
<path d="M885.22 369.83 L884.33 369.68 L884.76 370.92 L882.91 371.64 L882.8 372.95 L881.79 372.9 L882.73 374.12 L881.57 373.77 L882.09 374.32 L882.82 374.52 L883.52 373.95 L883.76 374.17 L883.64 373.77" fill="none" stroke="#2a2627" stroke-width="1.2" stroke-linejoin="round" stroke-linecap="round"/>
<path d="M905.71 407.66 L907.68 407.54 L909.97 407.76 L912.8 406.78 L915.52 406.45 L918.02 407.14 L919.89 407.54 L921.84 406.59 L923.8 407.03 L925.07 406.11 L926.3 406.05 L928.15 405.73 L929.19 406.16 L930.79 406.09 L933.03 407.32 L934.27 407.28 L935.43 407.61 L936.9 408.4 L938.92 407.85 L940.71 408.05 L941.87 408.41 L943.21 406.99 L943.48 407.46 L943.75 405.74 L945.11 406.08" fill="none" stroke="#2a2627" stroke-width="1.2" stroke-linejoin="round" stroke-linecap="round"/>
<path d="M1070.7 329.41 L1073.32 329.31 L1077.41 329.59 L1078.96 329.84 L1081.02 329.07 L1083.45 328.81 L1085.17 329.03 L1087.22 329.45 L1089.75 328.77 L1092.36 328.4 L1095.65 328.49 L1098.53 328.7 L1101.48 327.9 L1102.82 327.91 L1105.4 327.43 L1106.16 328.22 L1106.43 327.78 L1107.72 328.93 L1106.85 328.43 L1107.23 329.89 L1107.32 331.02 L1108.32 330.94 L1108.73 331.65 L1110.95 333.04 L1112.56 333.74 L1115.76 335.44 L1118.51 336.92 L1120.85 335.86 L1122.45 337.23 L1124.73 337.22 L1126.72 336.79 L1129.87 337.19 L1131.56 336.63 L1133.25 337.14 L1135.06 337.21 L1137.58 337.65 L1139.78 336.74 L1141.34 336.28 L1144.47 336.11 L1145.73 336.1 L1148.51 336.93 L1150.81 336.8 L1152.18 335.55 L1155.2 335.91 L1157.12 335.87 L1158.34 335.66 L1161.06 336.46 L1164.59 335.55 L1167.21 335.46 L1169.46 336.06 L1172.96 336.01 L1175.51 335.38 L1177.85 334.4 L1181.45 335.41 L1183.01 335.33 L1186.16 334.33 L1188.06 335.14 L1190.1 335 L1193.44 333.91 L1197.19 333.35 L1199.3 333.99 L1202.16 333.62 L1204.6 332.58 L1208.02 332.58 L1210.84 332.78 L1212.2 332.58 L1214.33 333.06 L1216.32 332.7 L1218.18 333.93 L1220.77 333.24 L1222.76 333.49 L1225.04 333.33 L1227.69 334.03 L1229 334.81 L1232.34 334.84 L1236.22 335.55 L1238.09 337.77 L1240.67 338.11 L1241.74 340.21 L1243.17 341.65 L1244.45 341.76" fill="none" stroke="#a3a5a8" stroke-width="1.3" stroke-linejoin="round" stroke-linecap="round"/>
<path d="M1078.12 321.17 L1079.29 322.33 L1081.9 322.04 L1084.43 322.77 L1087.62 323.81 L1090.78 324.99 L1092.75 324.92 L1095.55 324.96 L1098.23 324.67 L1100.06 324.96 L1102.31 324.94 L1105.52 324.48 L1109.5 323.86 L1111.52 323.58 L1113.48 324.72 L1116.3 324.56 L1118.6 324.51 L1121.81 324.56 L1124.55 324.07 L1126.54 324.39 L1128.25 325.19 L1130.44 324.83 L1133.31 325.44 L1135.25 325.63 L1136.14 324.86 L1138.83 325.5 L1142.58 325.08 L1144.96 325.49 L1148.12 324.87 L1151.08 324.92 L1153.51 324.58 L1155.52 325.51 L1159.15 325.1 L1160.9 324.02 L1163.82 324.14 L1166.77 324.33 L1169.13 324.16 L1172.74 323.99 L1175.77 324.57 L1178.36 324.23 L1180.72 324.96 L1183.38 324.17 L1186.87 325.47 L1188.86 324.65 L1192.47 325.7 L1194.07 325.43 L1196.93 326.47 L1199.79 326.89 L1203.28 325.94 L1205.85 326.58 L1208.58 327.41 L1210.62 326.52 L1214.3 327.18 L1217.11 327.74 L1219.67 328.11 L1222.29 327.73 L1224.25 328.25 L1227.37 328.12 L1230.67 327.71 L1232.65 327.7 L1234.78 328.9 L1237.52 328.65 L1240.5 328.74 L1240.61 327.98 L1239.91 327.86 L1240.18 327.39 L1240.07 327.16 L1241.46 328.01 L1242.44 327.62 L1244.96 328.23 L1247.96 328.52 L1249.53 329.87 L1251.7 330.17 L1254.09 331.51 L1256.32 332.75 L1257.64 334.28 L1260.04 335.84 L1261.92 338.24 L1262.43 339.19 L1264.02 340.51 L1264.57 341.73 L1265.55 343.24 L1266.51 343.16 L1266.77 344.37 L1267.13 344.63 L1266.89 345.17 L1268.27 347.06 L1266.85 347.84 L1267.89 348.44 L1266.28 349.15 L1266.29 349.55 L1265.93 350.11 L1265.78 351.73 L1264.46 352.72 L1263.51 352.31 L1261.96 352.86 L1260.82 354.76 L1261.41 355.46 L1260.16 357.97 L1260.99 360.95 L1260.03 363.58 L1261.09 366.35 L1260.52 368.11 L1261.39 370.32 L1260.99 371.97 L1261.4 373.19 L1261.68 372.6 L1262.54 373.94 L1263.12 374.73 L1263.15 376.16 L1262.12 377.1 L1260.92 378.71 L1260.63 380.47 L1259.79 382.72 L1258.45 385.92 L1257.04 386.39 L1256.68 388.19 L1256.18 389.38 L1255.44 391.99 L1254.5 392.68 L1253.01 394.28 L1252.71 395.17 L1252.03 396.45 L1252.26 398.28 L1252.45 398.56 L1251.42 400.08 L1251.56 400.91 L1250.6 401.27 L1250.34 402.29 L1250.93 403.19 L1250.33 403.38 L1249.75 402.87 L1248.36 402.04 L1246.35 402.85 L1243.14 402.87 L1240.65 402.82 L1238.27 402.58 L1235.89 403.45 L1233.41 402.46 L1232.33 402.83 L1229.52 403.11 L1227.98 402.96 L1224.57 402.74 L1221.94 402.28 L1218.89 401.61 L1217.74 401.71 L1214.19 401.7 L1211.51 400.11 L1208.27 399.87 L1205.87 400.06 L1203.16 399.85 L1200.24 399.5 L1198.16 398.62 L1195.91 398.43 L1193.97 399.39 L1192.13 399 L1190.42 397.96 L1188.74 398.66 L1185.45 398.64 L1183.96 397.53 L1182.87 397.94 L1180.69 397.16 L1178.19 396.83 L1174.9 397.08 L1172.48 397.2 L1170.65 396.58 L1167.65 396.37 L1164.52 396.29 L1161.24 395.92 L1158 396.19 L1153.4 395.97 L1151.71 396.06 L1150.27 396.22 L1147.43 395.73 L1146.29 396.71 L1144.21 395.61 L1141.98 395.9 L1139.9 397.14 L1137.27 397.55 L1134.36 397.03 L1130.37 397.68 L1128.46 398.2 L1124.89 397.74 L1122.64 399.2 L1120.73 399.13 L1119.04 399.54 L1117.47 398.89 L1116.63 399.45 L1114.99 399.72 L1114.17 398.39 L1112.29 398.38 L1111.7 399.23 L1111.05 398.58" fill="none" stroke="#a3a5a8" stroke-width="1.3" stroke-linejoin="round" stroke-linecap="round"/>
<path d="M1117.64 400.22 L1118.49 402.03 L1118.47 405.16" fill="none" stroke="#a3a5a8" stroke-width="1.3" stroke-linejoin="round" stroke-linecap="round"/>
<path d="M1079.76 322.82 L1080.55 323.44 L1083.13 323.03 L1084.98 322.95 L1087.58 323.58 L1089.28 324.24 L1089.03 324.22 L1089.04 325.51 L1088.49 324.85 L1086.39 325.91 L1085.39 326.83 L1084.39 327.08 L1083.99 327.87 L1085.96 327.46 L1088.67 329.19 L1091.15 328.28 L1095.2 328.71 L1097.36 329.25 L1099.53 329.41" fill="none" stroke="#a3a5a8" stroke-width="1.3" stroke-linejoin="round" stroke-linecap="round"/>
<path d="M1190.11 334.35 L1191.89 334.96 L1194.41 336.04 L1197.2 335.22 L1198.89 336.84 L1201.64 337.41 L1203.61 337.76 L1205.52 337.82 L1208.29 339.19 L1210.65 339.43 L1211.88 340.07 L1214.65 340.22 L1216.65 340.51 L1218.71 341.12 L1220.19 341.55 L1222.75 343.02 L1225.16 342.66 L1227 342.99 L1229.11 343.32 L1230.57 344.86 L1233.17 344.72 L1235.29 344.99 L1236.67 345.12 L1239.3 346.06 L1242.34 347 L1245.08 347.29 L1247.43 348.22 L1248.58 348.22 L1252.5 350.18 L1254.23 350.39 L1255.63 350.86 L1256.05 350.55 L1257.63 350.82" fill="none" stroke="#2a2627" stroke-width="1.3" stroke-linejoin="round" stroke-linecap="round"/>
<path d="M1244.45 347.52 L1244.95 346.72 L1243.86 345.66 L1243.56 345.2 L1244.26 344.31 L1243.93 343.54 L1244.6 343.93 L1245.35 342.56 L1246.38 343.32 L1247.27 341.79 L1248.8 342.78 L1249.45 341.66 L1250.59 342.31 L1253.17 342.7 L1255.13 342.49 L1256.25 343.79 L1258.57 343.86 L1260.16 344.33 L1260.28 344.93 L1260.81 345.69 L1261.48 345.98 L1261.78 346.11 L1261.17 346.19 L1261.06 347.35 L1259.98 346.88 L1257.56 347.99 L1254.52 347.12 L1251.27 347.16 L1249.17 347.02 L1246.67 347.44 L1244.45 347.52" fill="none" stroke="#2a2627" stroke-width="1.3" stroke-linejoin="round" stroke-linecap="round"/>
<path d="M258.14 787.68 L259.7 787.99 L261.94 788.35 L264.57 788.19 L267.29 788.42 L269.32 789.48 L270.67 789.14 L270.59 790.42 L268.93 789.77 L267.39 791.07 L265.45 790.05 L265.53 791.23 L267.2 790.95 L270.77 790.73 L272.82 790.45 L274.16 790.42 L276.11 790.87 L278.74 790.33 L281.2 790.52 L282.11 790.17 L285.01 791.16 L286.23 789.79 L289.12 790.04 L291.41 790.36 L292.91 790.08 L295.8 790.23 L297.76 790.86 L299.89 790.7 L302.27 790.67 L305.23 791.15 L307.21 790.88 L310.11 791.6 L313.29 791.38 L314.47 791.04 L316.75 791.5 L318.63 791.32 L321.33 792.1 L323.73 792.72 L325.4 792.08 L325.9 792.41 L326.94 791.35 L326.82 791.83 L326.88 790.66 L329.2 790.84 L332.18 789.6 L335 788.64 L337.17 788.63 L339.17 787.93 L341.92 787.08 L345.38 785.54 L348.11 786.02 L349.17 784.23 L350.77 785.21 L352.5 784.73 L355.45 784.08 L358.12 782.87 L361.77 782.57 L364.09 783.57 L366.64 783.5 L369.03 782.25 L369.97 783.31 L372.68 782.27 L374.47 782.59 L376.42 782.45 L377.85 783.8 L380.3 783.72 L382.04 783.23 L383.96 783.23 L385.92 783.69 L387.78 783.85 L390.83 783.04 L393.16 783.68 L396.28 783.55 L397.58 784.51 L400.72 784.26 L402.03 783.56 L404.03 783.51 L405.72 784.24 L409.77 784.52 L412.64 783.9 L415.04 784.73" fill="none" stroke="#2a2627" stroke-width="1.2" stroke-linejoin="round" stroke-linecap="round"/>
<path d="M265.94 791.14 L265.1 791.6 L263.28 791.73 L261.61 792.71 L259.96 792.77 L257.56 792.77 L256.29 794.43 L255.35 794.36 L254.7 794.84 L255.07 795.58 L254.19 798.05 L253.51 799.03 L253.63 800.31 L253.57 802.41 L254.98 806.1 L255.7 808.05 L256.01 811.6 L256.43 815.08 L256.14 818.7 L255.51 821.26 L256.27 823.81 L255.29 827.4 L254.16 829.76 L254.4 832.29 L254.11 835.2 L253.93 838.51 L254.48 841.2 L254.86 844.63 L254.73 847.72 L255.11 850.89 L255.5 853.01 L255.39 854.56 L254.59 855.58 L255.13 857.39 L254 858.57 L253.88 859.44 L252.47 861.82 L252.39 863.42 L252.35 865.84 L251.84 866.77 L250.65 870.06 L250.93 871.09 L249.84 873.14 L249.93 875.03 L251.35 876.99 L251.41 877.99 L251.92 880.76 L252.88 881.19 L252.94 882.16" fill="none" stroke="#2a2627" stroke-width="1.2" stroke-linejoin="round" stroke-linecap="round"/>
<path d="M248.61 796.35 L248.23 798.14 L248.11 799.05 L247.4 801.57 L246.61 803.83 L245.98 806.55 L245.83 808.65 L245.77 812.09 L246.04 814.34 L247.62 817.42 L247.68 820.37 L248.89 823.16 L248.8 827.2 L247.99 829.54 L248.38 832.89 L247.18 835.13 L246.66 838.57 L246.55 841.24 L245.87 844.24 L246.51 845.88 L246.16 847.92 L247.32 848.89 L247.81 851.13 L247.32 852.71 L247.49 853.81 L248.19 856.63 L247.84 859.49 L248.32 862.7 L246.99 865.28 L247.61 867.71 L248.23 869.91 L247.91 872.54 L248.17 873.74 L248.62 875.8 L249.2 877.05 L249.12 877.17 L249.47 878.7" fill="none" stroke="#2a2627" stroke-width="1.2" stroke-linejoin="round" stroke-linecap="round"/>
<path d="M247.74 854.42 L250.76 854.45 L252.85 854.74 L253.87 853.93 L256.1 854.75 L258.43 853.67 L261.76 854.29 L263.15 854.4 L266.34 854 L267.65 854.19 L271.89 853.68 L275.8 853.44 L278.45 851.7 L280.22 851.36 L281.96 851.18 L284.17 849.39 L285.88 849.22" fill="none" stroke="#2a2627" stroke-width="1.2" stroke-linejoin="round" stroke-linecap="round"/>
<path d="M273.74 850.96 L275.33 851.94 L278.82 854.25 L279.89 855.16 L280.79 856.09 L283.55 857.99 L285.11 858.38 L286.94 860.39 L289.4 862.91 L290.47 864.93 L291.33 866.56 L291.95 868.08 L292.14 870.3 L290.71 871.61 L291.13 873.36 L290.81 874.83 L289.86 877.07 L289.16 878.46 L288.95 879.73 L287.26 881.57 L285.8 882.71 L283.35 883.17 L281.84 883.62 L279.58 884.56 L276.58 885.53 L274.63 886.81 L272.44 887.36 L270.7 888.29 L268.89 888.35 L268.6 888.89 L267.73 889.4 L265.58 889.29 L265.49 890.09 L263.8 888.56 L262.42 887.19 L261.88 884.03 L259.81 882.63 L258.64 880.8 L257.84 878.31 L257.02 877.19 L255.66 875.86 L254.83 875.17 L253.5 874.14 L252.39 874.69 L251.21 873.5" fill="none" stroke="#2a2627" stroke-width="1.2" stroke-linejoin="round" stroke-linecap="round"/>
<path d="M477.13 784.41 L479.41 783.82 L483 784.81 L484.85 784.74 L486.74 784.7 L489.7 784.73 L491.68 784.36 L495.35 784.56 L497.68 786.03 L498.1 785.64 L496.16 785.77 L495.16 786.39 L493.86 786.17 L492.51 787.55 L493.58 787.19 L495.28 786.54 L498.88 787.44 L501.81 786.33 L504.02 785.91 L506.05 787.07 L508.19 786.85 L510.56 785.42 L512.01 785.86 L513.8 786.13 L515.86 786.04 L518.18 784.85 L520.71 784.73 L522.71 785.58 L524.77 784.96 L525.97 784.88 L528.06 784.93 L530.07 784.67 L532.34 784.23 L534.74 783.77 L535.99 784.74 L538.18 784.44 L541.06 783.76 L542.13 783.04 L545.28 782.91 L546.84 783.34 L548.4 783.08 L550.52 783.02 L553.07 782.62 L554.68 782.52 L556.75 781.97 L558.86 782.88 L561.49 782.75 L563.04 782.67 L565.98 782.29 L568.35 781.98 L570.11 781.94 L572.26 781.12 L574.33 781.17 L577.08 780.97 L579.66 780.62 L581.36 780.92 L582.28 781.95 L582.76 781.24 L582.51 782.38 L584.76 781.93 L586.12 783.23 L588.42 783.13 L590.52 783.75 L592.87 783.58 L595.13 784.67 L596.62 784.72 L598.66 786.26 L601.58 786.12 L603.44 786.84 L605.65 787.63 L608.37 789.27 L611.97 789.36 L614.04 789.06 L617.43 789.59 L620.46 789.02 L622.77 788.75 L626.82 788.7 L628.8 788.35 L632.4 787.28 L636.77 787.68 L639.93 786.54 L643.28 787.35 L646.12 786.78 L647.51 786.22" fill="none" stroke="#a3a5a8" stroke-width="1.4" stroke-linejoin="round" stroke-linecap="round"/>
<path d="M546.01 789.85 L545.96 790.5 L544.79 790.22 L544.21 791.05 L543.45 790.8 L543.06 791.76 L543.02 792.01 L543.63 794.16 L543.63 795.74 L544.94 796.49 L546.75 798.26 L548.29 800.84 L549.9 801.93 L550.56 803.22 L552.07 804.17 L553.21 805.38 L553.52 805.2 L555.26 807 L556.65 807.2 L559.8 807.85 L561.54 807.62 L564.79 807.13 L569.28 807.49 L572.22 807.33 L574.77 806.65 L577.53 807.11 L580.62 805.73 L582.46 804.98 L585.77 804.4 L587.89 803.99 L588.96 802.8 L590.28 801.8 L591.54 799.59 L593.45 798.2 L593.07 797.46 L594.3 796.08 L594.79 794.38 L596.65 793.48 L597.93 792.25 L598.93 791.57 L599.55 790.8 L599.74 791.73 L600.32 791.2 L599.68 790.33 L598.73 790.56 L598.75 790.55 L596.65 791.24 L595.68 790.95 L592.52 790.93 L590.66 791.42 L587.7 791 L584.94 790.6 L581.48 791.03 L578.74 790.77 L574.81 791.44 L571.26 791.2 L568.96 790.75 L565.42 790.97 L562.95 790.87 L559.84 789.8 L556.63 789.87 L555.17 790.87 L551.8 790.33 L550.42 789.44 L548.4 790.35 L547.31 789.59 L546.01 789.85" fill="none" stroke="#a3a5a8" stroke-width="1.4" stroke-linejoin="round" stroke-linecap="round"/>
<path d="M629.38 784.41 L631.96 784.19 L634.89 784.46 L639.25 784.91 L642.71 785.1 L645.26 785.71 L647.81 785.59 L648.21 785.21 L649.03 786.66 L649.18 786.51 L647.6 787.28 L647.61 787.23 L646.04 787.56 L643.34 787.57 L640.37 788.13 L637.99 788.98 L633.57 787.99 L631.86 787.73 L629.13 787.94 L627.93 787.46 L628.02 787.31 L629.03 786.76 L628.55 787.31 L629.88 786.89 L631.39 786.62 L632.78 785.68 L636 786.2 L638.64 786.63 L641.83 786.21 L643.77 787.28 L645.7 786.76" fill="none" stroke="#a3a5a8" stroke-width="1.4" stroke-linejoin="round" stroke-linecap="round"/>
<path d="M556.88 789.85 L559.75 789.75 L562.04 789.86 L564.39 789.69 L566.91 790.62 L568.68 791.33 L570.87 790.51 L572.91 791.12 L577.43 791.64 L578.51 792.1 L576.92 791.62 L574.34 792.8 L572.1 792.51 L570.08 792.19 L568.08 792.77 L564.98 792.34 L562.23 792.37 L560.05 793.1 L561.9 792.43 L565.31 792.67 L566.68 791.67 L568.72 791.59 L571.61 792.03 L574.11 791.43 L575.71 791.26 L577.51 791.48 L580.44 790.75" fill="none" stroke="#a3a5a8" stroke-width="1.4" stroke-linejoin="round" stroke-linecap="round"/>
<path d="M477.13 783.5 L478.46 783.84 L478.91 783.35 L481.34 782.82 L483.07 783.17 L484.06 782.96 L484.59 783.14 L483.72 783.28 L483.8 783.8 L482.13 783.79 L481.57 785.65 L480.42 785.41 L480.35 785.64 L481.89 787.01 L483.6 786.02 L485.34 785.38 L487.48 785.47 L487.97 785.65 L489.82 785.31" fill="none" stroke="#a3a5a8" stroke-width="1.4" stroke-linejoin="round" stroke-linecap="round"/>
<path d="M477.13 793.47 L476.22 793.57 L475.59 794.33 L475.68 795.5 L474.25 796.33 L473.64 796.43 L473.69 797.77 L472.56 799.55 L471.65 801.58 L470.87 803.53 L470.96 805.07 L469.06 807.39 L468.29 808.88 L468.01 810.12 L467.35 813.03 L466.32 814.51 L465.36 816.66 L464.33 818.79 L465.15 820.19 L465.34 820.73 L466.08 821.35 L466.28 822.28 L467.16 823.84 L468.19 824.28 L467.84 824.74 L467.4 825.87 L466.01 827.61 L465.14 828.27 L463.4 829.65 L462.47 829.8 L462.71 830.92 L463.78 831.02 L464.75 830.9 L465.78 830.04 L466.36 828.73 L467.82 829.31 L470.2 829 L470.74 829.13 L471.81 830.38 L474.21 830.97 L474.05 831.91 L475.71 834 L477.57 834.19 L477.68 834.26 L478.78 835.63 L480.26 836.26 L482.02 836.32 L482.72 836.81 L483.84 836.41 L486.49 837.82 L488.32 838.43 L490.6 840.45 L494.21 841.64 L497.17 842.07 L499.21 843.15 L501.65 844.94 L503.05 844.9 L505.49 846.9 L507.9 847.28 L510.47 849.66 L511.51 849.91 L513.19 852.14 L512.63 853.57 L513.78 856.16 L513.89 857.48 L513.95 858.31 L515.78 859.46 L515.54 860.16 L516.4 859.53 L517.85 859.75 L519.48 859.49 L521.23 858.21 L524.58 858.08 L526.12 858.65 L528.33 859.17 L529.95 859.19 L532.86 859.05 L534.64 859.84 L537.88 858.77 L539.29 860.22 L541.2 859.49 L543.94 860.23 L545.84 860.24 L547.12 859.44 L550.6 860.59 L551.57 859.63 L554.18 861.03 L556.48 860.78 L559.55 860.84 L561.58 860.41 L562.52 860.16 L565.43 860.39 L567.65 861.36 L568.43 861.59 L570.3 861.27 L572.13 861.76 L575.16 862.04 L575.92 862.05 L578.74 862.11 L580.69 861.92 L582.86 862.28 L584.14 861.31 L586.81 861.75 L588.6 861.44 L591.1 861.57 L593.22 862.8 L594.68 861.91 L597.23 862.14 L599.19 862.11 L602.25 862.85 L603.62 862.31 L606.64 863.52 L609.28 862.56 L611.07 862.97 L614.42 862.88 L616.99 864.2 L619.37 862.89 L620.51 863.14 L624.79 863.96 L627.4 863.86 L629.94 864.19 L633.22 864.76 L636.57 864.75 L640.05 864.98 L642.84 864 L645.55 865.34 L647.51 865.51 L649.32 865.07" fill="none" stroke="#2a2627" stroke-width="1.2" stroke-linejoin="round" stroke-linecap="round"/>
<path d="M491.63 860.54 L491.24 861.58 L491.61 861.81 L491.38 861.89 L491.75 862.63 L491.9 863.49 L494.13 864.38 L495.65 864.99 L497.68 865.68 L500.03 864.97 L501.81 865.55 L503.72 865.79 L506.68 867.49 L506.84 868.29 L507.87 869.76 L508.03 870.67 L507.24 872.48 L508.15 873.42 L509.56 874.18 L512.27 874.16 L513.69 875.12 L516.15 875.61 L519.02 875.57 L521.36 875.64 L522.42 874.55 L525.14 875.58 L527.18 874.69 L530.33 875.81 L531.68 875.09 L534.56 875.53 L536.61 875.69 L537.87 875.05 L539.53 875.74 L541.76 875.19 L545.02 875.82 L546.66 875.91 L548.84 876.04 L550.59 875.2 L552.46 875.18 L555.09 875.42 L556.94 875.98 L560.38 876.31 L561.44 876.45 L563.37 875.5 L565.62 875.96 L568.24 876.03 L570.64 875.47 L573.28 875.77 L575.48 875.27 L577.44 875.38 L579.45 876.04 L581.15 875.12 L582.85 874.59 L586.8 874.14 L588.83 874.28 L591.21 873.22 L592.58 872.62 L595.91 872.55 L597.3 872.42 L598.54 871.29 L601.5 871.92 L604.18 871.97 L606.23 871.8 L607.11 872.22 L608.28 871.96 L609.78 871.81 L610.9 872.74 L612.9 871.78 L615.73 870.98 L617.16 870.27 L619.68 869.74 L622.2 869.2 L624.48 868.05 L626.01 868.75 L627.19 867.21 L629.18 867.01 L630.74 867.59 L631.48 866.51 L633.01 866.88" fill="none" stroke="#2a2627" stroke-width="1.2" stroke-linejoin="round" stroke-linecap="round"/>
<path d="M504.32 860.54 L504.99 860.37 L505.54 861.19 L506.48 861.16 L508.14 862.27 L510.48 862.9 L510.95 862.86 L514.02 863.67 L516.73 864.49 L519.45 863.49 L522.27 864.33 L523.72 864.14 L526.59 864.65 L526.96 865.38 L529.36 866.49 L530.02 866.83 L530.36 868.06 L530.59 869.31 L531.5 869.6" fill="none" stroke="#2a2627" stroke-width="1.2" stroke-linejoin="round" stroke-linecap="round"/>
<path d="M1029.9 863.44 L1032.09 862.91 L1036.38 863.46 L1037.21 862.8 L1039.88 863.54 L1041.03 863.48 L1044.12 863.58 L1045.3 863.52 L1047.75 863.73 L1050.2 863.88 L1053.77 863.77 L1055.75 863.31 L1057.63 863.08 L1058.21 863.56 L1060.53 862.42 L1060.7 861.56 L1061.96 860.56 L1062.27 860.05 L1063.29 858.67 L1063.31 856.31 L1062.92 854.35 L1063.33 850.92 L1063.68 848.27 L1063.53 846.37 L1063.6 843.29 L1063.72 841.13 L1063.78 839.35 L1062.46 837.87 L1062.39 834.87 L1062.23 833.08 L1061.58 830.5 L1061.63 829.16 L1061.26 826.84 L1061.43 822.87 L1061.71 819.54 L1060.97 815.26 L1060.82 812.84 L1060.74 808.38 L1061.14 806 L1061.56 802.45 L1060.57 800.01 L1061.02 798.01 L1060.66 796.42 L1060.82 794.36 L1060.9 791.68 L1060.39 790.29 L1058.51 789.67 L1057.88 787.22 L1057.37 786.6 L1057.49 786.5 L1055.79 785.12 L1055.71 784.66 L1054.97 783.47 L1053.68 782.4 L1053.54 782.3 L1052.1 782.25 L1049.64 780.82 L1046.38 781.69 L1045.11 780.51 L1042.77 780.54 L1039.6 780.61 L1038.1 781.04 L1035.54 781.1 L1034.42 780.69 L1032.44 781.16 L1029.44 780.69 L1028.36 781.02 L1026.26 780.26 L1024.65 781.14 L1021.54 780.63 L1020.62 780.31 L1017.87 781.4 L1016.61 780.36 L1013.55 780.56 L1010.63 781.16 L1007.03 780.43 L1004.32 780.54 L1002.16 780.39 L1000.79 780.85 L998.41 781.12 L997.73 781.15 L994.96 781.38 L993.15 780.66 L991.25 780.46 L989.57 780.7 L987.17 781.89 L985.74 781.72 L983.56 781.44 L981.65 781.93 L978.84 781.62 L976.91 780.87 L975.59 781.35 L973.47 781.69 L970.93 780.67 L967.95 781.1 L966.78 780.66 L963.64 780.22 L961.6 781.15 L959.18 780.43 L957.38 781.08 L956.25 780.03 L952.88 781.33 L952 780.18 L948.98 780.69 L946.96 780.57 L945.19 780.37 L942.58 780.14 L940.81 780.23 L939.55 781.17 L937.11 781.38 L934.95 780.9 L931.78 780.83 L929.67 781.57 L925.67 781.19 L924 781.76 L921.44 781.78 L919.16 782.88 L915.74 782.85 L913.73 783.33 L912.45 783.76 L909.7 783.13 L908.39 784.17 L904.17 784.51 L901.73 785.32 L899.1 786.47 L896.25 787.64 L894.72 788.87 L892.57 789.38 L891.93 789.01 L892 789.79 L891.69 790.47 L890.95 790.38 L891.44 791.67 L890.63 793.7 L891.63 797.23 L891.79 800.47 L892.18 802.78 L891.71 806.62 L891.43 809.51 L891.41 811.59 L891.84 814.62 L892.21 818.56 L891.31 820.47 L890.67 823.81 L891.24 826.49 L891.68 829.66 L892.05 832.03 L891.4 835.41 L892.37 838.14 L892.96 840.93 L892.68 843.99 L893.29 846.99 L892.69 849.05 L893.34 852.18 L892.79 853.28 L892.6 856.17 L892.62 857.23 L894.18 860.19 L893.69 861.09 L895.28 862.21 L895.47 864.06 L897.5 864.67 L897.54 865.54 L898.69 867.13 L899.94 866.74 L902.32 866.96 L902.65 867.19 L903.82 868.12 L905.08 868.29" fill="none" stroke="#2a2627" stroke-width="1.2" stroke-linejoin="round" stroke-linecap="round"/>
<path d="M899.88 869.16 L901.51 868.54 L902.04 869.18 L904.21 868.32 L905.95 867.94 L909.72 867.54 L911.66 868.29 L916.15 868.44 L917.64 868.48 L919.93 867.49 L922.02 868.09 L924.7 867.23 L926.29 868.43 L928.53 868.23 L931.17 867.44 L933.37 867.79 L936.58 867.38 L938.53 867.69 L939.53 868.41 L941.77 867.72 L943.8 868.8 L946.37 868.61 L948.91 869.26 L953.45 869.82 L957.59 869.28 L961.06 870.14 L963.88 869.46 L967.73 869.27 L971.38 868.68 L974.67 869.56 L978.23 868.95 L981.92 869.01 L983.76 869.25 L987.19 869.42 L989.49 869.2 L991.73 868.61 L993.26 868.91 L994.36 869.16" fill="none" stroke="#a3a5a8" stroke-width="1.3" stroke-linejoin="round" stroke-linecap="round"/>
<path d="M1104.47 867.64 L1105.82 865.4 L1106.41 863.19 L1108.12 860.31 L1109.84 858.16 L1112.08 854.71 L1114.98 853.99 L1118.32 853.24 L1119.7 853.59 L1122.71 853.02 L1124.95 853.74 L1128.14 854.12 L1129.93 853.7 L1132.59 853.7 L1135.2 853.92 L1138.37 854.53 L1139.53 854.48 L1142.69 854.85 L1145.98 855.29 L1149.73 856.24 L1152.06 855.89 L1155.91 855.67 L1159.1 855.92 L1161.84 855.82 L1164.26 854.44 L1166.32 855.2 L1168.45 854.31 L1170.53 854.49 L1173.2 853.06 L1175.09 852.82 L1178.26 852.82 L1179.38 852.65 L1181.48 851.72 L1184.27 851.44 L1186.31 850.15 L1188.49 850.8 L1192.36 849.57 L1194.52 849.72 L1198.16 848.6 L1201.21 849.28 L1203.95 847.79 L1206.44 848.12 L1207.79 846.76 L1210.72 846.8 L1213.26 845.95 L1215.93 845.68 L1217.63 845.65 L1221.08 844.64 L1223.15 843.59 L1225.69 843.61 L1227.84 843.57 L1229.56 843.07 L1231.62 841.2 L1234.33 841.89 L1236.87 841.32 L1238.28 840.64 L1240.31 838.85 L1242.53 838.7 L1244.34 837.31 L1246.46 834.28 L1247.69 831.7 L1247.8 827.93 L1246.61 825.04 L1246.92 822.43 L1245.72 818.7 L1245.66 815.57 L1245.03 813.47 L1243.51 809.91 L1243.25 807.27 L1242.27 804.75 L1240.83 803.07 L1241.09 800.79 L1240.46 800.79 L1238.61 800.11 L1239.09 801.07 L1237.69 800.89 L1237.87 800.94" fill="none" stroke="#a3a5a8" stroke-width="1.4" stroke-linejoin="round" stroke-linecap="round"/>
<path d="M1152.23 866.81 L1153.14 866.5 L1153.7 864.63 L1154.74 862.05 L1155.89 860.64 L1157.81 859.09 L1158.33 858.17 L1159.09 858.07 L1160.01 859.01 L1160.42 859.78 L1161.66 861.39 L1163.14 862.11 L1165.36 861.44 L1168.71 861.38 L1170.05 861.19 L1172.77 862.39 L1174.56 861.35 L1176.82 861.19 L1179.61 861.06 L1181.25 861.54 L1184.35 860.1 L1187.25 860.93 L1189.04 860.6 L1192.36 860.08 L1194.24 859.73 L1197 860.06 L1200.01 860.23 L1201.92 859.15 L1204.83 859.59 L1206.35 859.26 L1207.89 859.47 L1210.09 858.54 L1211.47 857.97 L1214.41 858.8 L1215.94 857.92 L1219.38 857.98 L1221.85 858.44 L1224.47 857.8 L1227.95 857.93 L1229.93 857.47 L1232.53 857.92 L1235.84 857.47 L1237.9 857.75 L1240.55 858.61 L1243.24 857.8 L1245.37 858.7 L1247.17 858.62 L1249.01 858.01 L1252.69 858.58" fill="none" stroke="#a3a5a8" stroke-width="1.4" stroke-linejoin="round" stroke-linecap="round"/>
<path d="M1108.58 810.82 L1108.77 811.02 L1110.03 809.75 L1111.24 809.34 L1113.65 809.7 L1115.31 810.07 L1116.07 810.6 L1116.4 811.99 L1117.67 813.06 L1118.87 816.48 L1119.28 817.79 L1121.27 820.73 L1122.72 822.21 L1124.16 821.29 L1126.74 821.23 L1130.4 821.66 L1132.88 820.09 L1135 820.06 L1137.72 819.9 L1139.71 819 L1142.25 817.25 L1144.17 816.15 L1147.38 816.37 L1149.18 814.32 L1150.48 813.41 L1152.78 813.39 L1154.41 812.22 L1157.37 810.63 L1158.8 810.94 L1160.78 809.66 L1163 809.09 L1164 808.01 L1166.66 807.89 L1168.77 806.46 L1169.8 804.9 L1172.3 804.65 L1173.9 803.81 L1176.84 802.48 L1177.53 801.98 L1179.94 800.88 L1181.98 800.05 L1183.39 799.42 L1185.82 798.4 L1186.98 796.55 L1188.52 794.31 L1188.8 793.3 L1186.81 791.93 L1185.02 790.59 L1182.74 789.76 L1183.18 788.74 L1185.62 788.5 L1188.03 787.5 L1190.59 787.07 L1192.93 787.98 L1194.13 787.93 L1197.2 788.15 L1199.68 787.47 L1202.53 787.03 L1204.66 787.1 L1205.92 787.16 L1208.76 787.68 L1211.96 787.56 L1215.26 788.4 L1217.42 788.52 L1221.05 788.48 L1223.22 788.88 L1224.69 789.41" fill="none" stroke="#a3a5a8" stroke-width="1.4" stroke-linejoin="round" stroke-linecap="round"/>
<path d="M1122.58 802.58 L1123.47 803.15 L1125.78 803.18 L1126.8 802.48 L1129.25 802.71 L1130.64 802.92 L1132.32 803.23 L1134.07 802.32 L1136.12 802.68 L1137.66 802.97 L1139.75 804.23 L1141.04 804.38 L1142.54 805.7 L1143.65 807.52 L1145.03 808.41 L1146.79 810.5 L1149.62 811.06 L1150.62 813.61 L1152.54 816.09 L1153.6 818.8 L1155.07 820.42 L1157.62 823.34 L1158.18 826.86 L1159.54 829.21 L1161.08 832.19 L1160.95 834.21 L1160.69 836.46 L1159.91 839.18 L1159.13 841.34 L1157.85 842.61 L1157.17 843.75" fill="none" stroke="#a3a5a8" stroke-width="1.4" stroke-linejoin="round" stroke-linecap="round"/>
<path d="M1241.16 802.58 L1242.05 804.69 L1241.5 808.42 L1243.14 811.7 L1243.38 812.97 L1243.3 815.73 L1244.63 819.62 L1243.96 822.61 L1244.88 825.14 L1244.58 827.56 L1245.23 830.78 L1245.16 833.26 L1245.83 836.48 L1246.23 838.33 L1247.11 841.52 L1247.74 845.49 L1247.13 847.99 L1248.91 850.6 L1248.89 853.03 L1248.72 854.86 L1249.44 856.32 L1250.8 857.57 L1251.89 858.23 L1251.64 858.86 L1252.52 858.43 L1252.69 858.58" fill="none" stroke="#a3a5a8" stroke-width="1.4" stroke-linejoin="round" stroke-linecap="round"/>
<path d="M1150.58 789.41 L1153.64 789.8 L1156.3 789.95 L1158.24 790.62 L1160.2 790.76 L1162.23 789.48 L1165.23 789.87 L1167.65 789.78 L1170.6 790.61 L1172.97 790.91 L1175.99 790.49 L1177.48 789.32 L1178.42 789.73 L1181.64 789.37 L1183.2 788.59 L1185.11 789.54 L1187.49 789.08 L1188.91 787.8 L1191.4 788.32 L1193.55 788.07 L1196.05 787.67 L1198.66 786.53 L1201.57 786.31 L1203.34 785.64 L1205.69 786.78 L1206.8 786.26 L1208.97 785.47 L1211.03 786.28 L1213.82 786.82 L1216.55 786.92 L1218.75 786.87 L1221.48 788.49 L1223.57 790.04 L1225.89 790.23 L1228.21 791.53 L1231.03 793.78 L1232.62 794.66 L1235.05 795.88 L1236.65 796.99 L1239.51 798.47" fill="none" stroke="#a3a5a8" stroke-width="1.4" stroke-linejoin="round" stroke-linecap="round"/>
<path d="M1107.76 782 L1108.43 782.41 L1111 784.18 L1113.79 785.95 L1116.22 787.75 L1117.22 789.74 L1119.13 790.82 L1120.69 791.7 L1121.36 793.58 L1121.59 793.94 L1122.46 794.65 L1121.17 794.06 L1120.33 794.11 L1118.85 793.46 L1117.04 791.14 L1114.47 789.83 L1111.36 786.44 L1109.08 784.72 L1107.76 783.64" fill="none" stroke="#2a2627" stroke-width="1.3" stroke-linejoin="round" stroke-linecap="round"/>
<path d="M1119.29 792.7 L1120.61 793.82 L1120.95 794.26 L1121.62 795.61 L1124.06 797.73 L1124.3 798.82 L1125.24 799.3 L1126.33 798.8 L1127.26 799.36 L1127.23 797.99 L1128.01 797.7 L1129.1 796.6 L1131.4 796.1 L1133.26 796.52 L1136.73 796.02 L1139.46 797.34 L1140.98 796.3 L1143.7 796.26 L1145.56 796.96 L1148 796.23 L1149.89 796.82 L1153.72 797.39 L1154.94 796.82 L1158.16 796.39 L1161.08 796.84 L1163.19 796.55 L1165.28 797.31 L1166.52 796.34 L1168.55 796.33 L1170.86 797.16 L1172.72 797.58 L1174.04 797.22 L1177.22 796.38 L1178.63 796.32 L1181.14 797.32 L1182.94 797.33 L1185.1 797.4 L1187.13 797.85 L1189.51 796.52 L1191.16 797.64 L1194.55 797.63 L1195.79 798.08 L1198.87 797.11 L1200.81 798.07 L1202.7 797.32 L1205.63 798.68 L1209.03 798.05 L1211.38 798.9 L1213.79 798.8 L1216.35 799.06 L1218.72 799.13 L1220.04 799.24 L1222.68 799.15 L1224.74 799.56 L1227.28 799.31 L1228.75 799.85 L1231.01 799.86 L1233.16 799.66 L1235.48 799.93 L1238.33 800.69 L1240.63 800.54 L1242.14 801.24 L1244.52 800.53 L1246.21 800.66 L1250.18 801.41 L1252.49 801.43 L1253.92 801.2 L1254.96 801.2 L1254.86 802.09 L1254.57 801.54 L1252.49 802.57 L1251.41 802.52 L1249.59 802.53 L1246.8 801.42 L1243.95 801.02 L1241.52 801.28 L1237.87 801.45 L1235.29 799.99 L1232.92 800.11" fill="none" stroke="#2a2627" stroke-width="1.3" stroke-linejoin="round" stroke-linecap="round"/>
<path d="M1124.23 786.11 L1125 785.59 L1127.16 786.52 L1128.43 786.03 L1129.81 786.31 L1131.87 787.12 L1132.97 787.47 L1132.48 787.46 L1131.77 789.13 L1130.77 788.93 L1130.2 791.02 L1130.76 791.02 L1131.32 792.44 L1132.06 791.79 L1134.38 792.23 L1135.72 793.04 L1138.9 792.3 L1142.26 792.05 L1144.95 792.21 L1147.49 791.65 L1149.5 792.72 L1151.75 792.56 L1154.48 791.81 L1156.12 792.46 L1159.49 791.86 L1161.54 792.61 L1165.2 791.66 L1167.42 792.1 L1169.72 791.28 L1172.38 792.12 L1175.43 791.89 L1177.48 791.46 L1180.5 791.74 L1182.53 792.45 L1184.12 792.58 L1186.25 792.4 L1188.24 792.02 L1190.42 791.24 L1193 792.37 L1194.16 792.32 L1196.39 792.64 L1197.7 791.77 L1200.6 792.12 L1204.05 792.43 L1206 791.75 L1208.65 791.31 L1211.57 792.16 L1214.85 792.42 L1216.9 791.53 L1219.4 790.69 L1221.55 790.54 L1224.5 790.63 L1227.52 789.83 L1230.71 789.41 L1234.03 788.06 L1236.17 787.65 L1238.61 787.35 L1240.74 786.66 L1243.1 785.25 L1245.47 784.98 L1246.82 783.74 L1249.38 783.67 L1249.49 783.68 L1251.04 783.15" fill="none" stroke="#2a2627" stroke-width="1.3" stroke-linejoin="round" stroke-linecap="round"/>
<path d="M1142.35 784.47 L1142.8 784.92 L1143.1 786.61 L1143.81 787.13 L1145.38 788.29 L1145.15 789.3 L1145.87 791.29 L1145.7 792.1 L1145.41 793.79 L1145.63 795.03 L1145.31 796.21 L1144.51 797.02 L1145.48 799.55 L1144.66 801.55 L1143.92 803.73 L1142.96 807.22 L1143.02 809.62 L1142.06 812.39 L1140.86 815.28 L1139.12 818.41 L1137.17 821.27 L1135.97 823.53 L1134.36 824.64 L1132.93 827.9 L1130.87 830.74 L1129.27 831.83 L1128.14 833.9 L1127.8 834.45 L1127.22 834.26 L1127.83 834.76 L1126.93 833.54 L1126.04 833.2 L1125.26 834.16 L1123.49 832.47 L1122 831.5 L1120.19 831.13 L1117.16 830.88 L1115.91 830.23 L1114.21 829.47 L1112.12 828.78 L1109.78 828.86 L1106.25 828.79 L1104.39 828.37 L1103.64 828.93" fill="none" stroke="#2a2627" stroke-width="1.3" stroke-linejoin="round" stroke-linecap="round"/>
<path d="M1115.99 829.76 L1116.78 829.59 L1116.85 830.31 L1117.94 831.8 L1119.99 832.45 L1121.54 832.72 L1123.01 833.56 L1125.45 835.7 L1127.92 836.56 L1130.02 839.43 L1133.76 840.84 L1137.09 841.86 L1139.34 843.7 L1141.3 844.73 L1141.79 846.27 L1143.06 846.63 L1145.14 846.47 L1146.69 847.2 L1148.54 847.47 L1153.14 848.17 L1154.69 848.56 L1156.18 849.12 L1159.63 849.47 L1161.49 848.69 L1163.94 849.62 L1166.85 849.32 L1168.98 849.16 L1171.88 849.81 L1173.29 850.51 L1174.85 850.66 L1178.37 851.4 L1180.86 851.32 L1184.23 852.36 L1186.33 853.24 L1188.62 853.74 L1191.04 854.89 L1194.34 855.51 L1197.81 855.74 L1200.99 855.58 L1204.29 856.28 L1207.45 857.38 L1210.12 857.71 L1212.81 857.67 L1216.74 857.02 L1218.66 857.31 L1222.14 856.86 L1224.16 857.82 L1226.34 857.26" fill="none" stroke="#2a2627" stroke-width="1.3" stroke-linejoin="round" stroke-linecap="round"/>
<path d="M1232.92 800.11 L1231.91 801.08 L1230.46 803.7 L1229.08 805.94 L1228.04 808.53 L1226.35 811.86 L1223.99 814.73 L1222.43 816.27 L1221.17 820.07 L1219.76 821.14 L1219.02 822.84 L1216.84 825.89 L1214.75 829.56 L1212.98 832.2 L1211.38 835.19 L1211.3 837.22 L1210.35 840.69 L1209.23 843.33 L1210.19 844.45 L1209.51 846.45 L1210.16 848.06 L1211.56 849.59 L1212.67 850.96 L1214.38 852.34 L1216.63 852.22 L1217.7 852.93 L1219.92 853.95 L1222.9 855.75 L1225.92 855.69 L1227.01 857.15 L1229.66 857.96 L1231.28 857.75" fill="none" stroke="#2a2627" stroke-width="1.3" stroke-linejoin="round" stroke-linecap="round"/>
<path d="M1204.93 863.52 L1206.19 863.14 L1207.67 863.9 L1210.61 862.99 L1213.01 863.29 L1216.14 862.73 L1217.64 862.56 L1220.99 862.55 L1223 862.78 L1225.1 862.85 L1227.25 862.92 L1230.72 862.38 L1232.74 863.74 L1236.75 862.79 L1239.82 864.1 L1243.82 864.33 L1246.27 864.54 L1250.06 865.55 L1251.86 865.49" fill="none" stroke="#2a2627" stroke-width="1.3" stroke-linejoin="round" stroke-linecap="round"/>
<path d="M485.49 785.88 L486.65 785.29 L486.63 785.17 L487.29 785.86 L485.51 784.73 L486.99 784.57 L488.14 783.37 L487.9 783.9 L486.71 784.97 L488.47 783.85 L486.38 783.95 L488.32 783.66 L487.07 783.47 L485 782.81 L484.72 782.8 L483.55 782.6 L482.31 782.6 L481.39 782.6 L482.87 782.73 L483.5 782.6 L485.67 783.46 L484 783.06 L484.97 783.56 L486.89 783.38 L488.34 783.79 L487.48 784 L489.16 784.83 L489.19 785.04 L487.14 784.42 L488.45 784.22 L487.01 784.34 L487.9 784.75 L487.35 784.61 L487.39 785.28 L487.48 785.02 L487.43 783.89 L485.42 784.38 L487.55 784.6 L487.08 783.81 L487.09 784.97 L488.28 785.06 L489.87 784.42 L489.93 785.51 L490.27 785.41 L489.26 785.52" fill="none" stroke="#a3a5a8" stroke-width="1.2" stroke-linejoin="round" stroke-linecap="round"/>
<path d="M554.81 792.19 L552.86 791.19 L554.33 791.76 L555.08 791.3 L555.55 791.56 L555.9 790.74 L555.6 790.48 L556.58 791.67 L558.56 791.77 L558.31 791.22 L556.27 790.08 L556.12 789.65 L555.59 790.59 L555.7 790.73 L554.54 789.59 L553.77 788.72 L553.82 789.92 L554.59 789.15 L556.32 789.86 L557.35 790.84 L558.51 791.54 L557.86 792.69 L559.9 791.88 L561.01 792.39 L560.84 792.47 L560.8 793.49 L560.8 793.65 L560.16 793.65 L561.92 793.56 L562.22 793.65 L562.32 793.62 L561.09 793.2 L561.97 792.4 L562.32 791.84 L562.32 791.38" fill="none" stroke="#a3a5a8" stroke-width="1.2" stroke-linejoin="round" stroke-linecap="round"/>
<path d="M576.57 790.86 L576 791.11 L576.55 790.07 L574.41 790.87 L573.35 790.24 L575.53 790.17 L577.01 790.11 L577.63 789.27 L578.22 790.15 L578.32 790.73 L579.08 789.69 L580.21 789.91 L579.34 788.94 L580.95 788.94 L581.91 789.85 L582.85 790.86 L582.39 791.58 L582.14 792.56 L583.81 791.6 L582.21 790.92 L584.26 790.77 L584.82 790.29 L584.85 790.01 L584.19 790.22 L584.56 791.19 L585.36 792.22 L586.93 792.56 L587.68 791.76 L589.27 792.56 L591.05 792.56 L591.99 791.87 L593.45 792.05 L592.51 791 L594.06 792.18 L592.25 792.56 L591.86 791.73 L590.95 792.37 L592.59 791.28 L593.1 790.19 L594.06 789.78 L595.73 790.93 L595.76 792.13 L594.92 791.11 L595.36 789.99 L594.03 789.77 L594.51 788.94 L592.5 789.83 L591.68 790.93 L593.43 790.63 L593.25 790.68 L593.88 790.91 L594.14 791.2 L596.08 791.22 L595.78 791.75 L594.63 791.27 L596.73 791.32 L596.76 790.15 L596.38 790.34 L594.27 790.62 L594.85 789.56" fill="none" stroke="#a3a5a8" stroke-width="1.2" stroke-linejoin="round" stroke-linecap="round"/>
<path d="M636.83 785.45 L636.37 784.62 L634.47 784.39 L636.31 785.11 L637.47 784.44 L637.63 783.9 L636.19 783.5 L634.94 784.53 L636.38 785.26 L637.71 784.53 L636.87 784.83 L637.89 785.68 L639.56 784.69 L640.03 785.1 L640.05 784.33 L639.94 783.5 L641.85 784.38 L642.06 783.9 L643.86 784.07 L645.54 784.91 L645.58 784.7 L646.01 784.54 L644.52 784.07 L645.9 783.5 L643.9 783.81 L642.94 783.89 L642.81 783.51 L645 783.5 L644.61 783.5 L645.2 783.5 L644.56 784.09 L643.77 784.24 L645.55 783.5 L643.62 783.5 L644.79 783.78 L643.64 783.5 L642.22 783.5 L640.21 783.98 L641.95 785.07 L642.98 786.17 L640.86 785.66 L642.91 786.32 L642.52 787.39 L643.05 788.15 L642.14 787.41 L641.89 786.54 L641.37 787.65 L640.63 786.47 L638.63 785.68 L639.88 785.35 L638.95 784.38 L641.07 784.2 L639.79 783.5 L637.83 783.5 L638.61 783.5" fill="none" stroke="#a3a5a8" stroke-width="1.4" stroke-linejoin="round" stroke-linecap="round"/>
<path d="M590.05 783.18 L591.35 784.24 L592.4 784.41 L590.33 784.33 L592.28 784.41 L594.04 783.48 L593.91 782.87 L594.1 783.05 L591.96 782.37 L590.99 783.37 L592.16 782.55 L593.47 781.68 L593.98 780.79 L591.79 781.68 L590.51 781 L592.63 781.89 L591.71 783 L591.88 783.43 L590.58 784.41 L591.42 784.41 L593.15 783.93 L592.54 783.12 L590.98 782.08 L590.11 782.33 L587.92 782.75" fill="none" stroke="#a3a5a8" stroke-width="1.1" stroke-linejoin="round" stroke-linecap="round"/>
<path d="M457.77 330.42 L457.7 329.84 L455.5 330.24 L455.37 330.86 L454.81 331.51 L453.81 331.63 L454.83 331.42 L454.99 331.63 L453.64 331.63 L454.99 331.07 L456.32 331.51 L457.84 331.12 L456.05 331.63 L457.39 331.5 L455.6 330.77 L456.19 330.27 L458.18 330.48 L456.86 330.86 L456.25 331.63 L458.05 331.63 L458.69 331.63 L460.03 331.63 L457.96 331.3 L458.4 330.83 L458.8 329.84 L460.47 329.9 L458.78 330.29 L457.96 329.57 L457.88 328.7 L456.61 329.57" fill="none" stroke="#a3a5a8" stroke-width="1.3" stroke-linejoin="round" stroke-linecap="round"/>
<path d="M459.43 326.74 L460.09 325.71 L460.25 325.39 L458.3 325.41 L456.27 325.25 L454.37 324.27 L454.04 325.05 L452.39 324.39 L452.95 325.46 L453.29 325.21 L455.38 324.12 L456.96 323.62 L455.39 322.7 L454.55 323.46 L453.15 323.66 L453.76 323.35 L453.97 322.3 L452.34 321.6 L453.13 321.42 L452.34 321.63 L452.34 321.37 L453.64 321.85 L452.51 322.03 L452.62 322.93 L453.63 322.42 L455.74 321.5 L455.38 322.12 L453.85 322.09 L452.34 322.5 L453.5 322.67 L455.16 322.22 L456.02 322.45 L456.37 322.35 L457.86 323.41 L457.75 323.81 L455.82 324.29 L456.46 325.47 L457.88 324.96 L457.38 325.36 L455.28 325.27 L453.82 324.35 L452.34 324.99 L452.34 324.39 L452.34 325.28 L452.34 325.16" fill="none" stroke="#2a2627" stroke-width="1.6" stroke-linejoin="round" stroke-linecap="round"/>
<path d="M886.77 324.45 L885.13 324.94 L883.3 324.34 L885.5 323.64 L886.12 323.54 L885.92 323.53 L884.56 324.32 L882.76 323.68 L882.06 323.12 L882.06 324.09 L882.06 323.16 L882.06 324.34 L882.06 324.63 L882.06 325.02 L882.06 325.48 L882.06 325.83 L883.83 326.03 L882.26 324.98 L884.22 324.96 L882.87 326.03 L883.22 326.58 L884.9 326.06 L884.26 326.97 L882.66 327.28 L882.06 327.28 L882.95 327.28 L884.47 327.28 L883.14 326.44 L883.26 326.47 L882.06 327.28" fill="none" stroke="#a3a5a8" stroke-width="1.1" stroke-linejoin="round" stroke-linecap="round"/>
<path d="M1085.78 325.4 L1084.19 326.28 L1082.01 326.28 L1083.77 325.28 L1084.01 325.56 L1081.99 325.27 L1082.88 325.15 L1083.87 324.33 L1082.72 323.4 L1082.75 324.41 L1083.14 325.07 L1082.63 325.66 L1080.88 325.16 L1081.65 325.7 L1081.3 324.71 L1080.27 324.02 L1079.31 324.76 L1077.99 325.69 L1079.66 324.62 L1079.13 324.6 L1077.03 324.42 L1078.82 323.49 L1079.24 322.58 L1079.59 323.53 L1078.28 322.35 L1076.45 322.44 L1074.33 321.45 L1074.31 322.46 L1073.96 322.21 L1074.57 321.24 L1074.92 321.17 L1075.4 322.27 L1073.44 322.4 L1073.91 321.56 L1072.89 322.75 L1075.08 321.84 L1075.98 322.92 L1074.83 323.19 L1072.82 322.87 L1073.58 323.09" fill="none" stroke="#a3a5a8" stroke-width="1.1" stroke-linejoin="round" stroke-linecap="round"/>
<path d="M254.12 877.66 L254.46 876.95 L255.84 877.73 L256.52 876.91 L256.61 876.5 L255.51 877.59 L257.69 876.49 L259.01 876.74 L258.49 876.22 L259.01 876.12 L259.01 876.51 L257.39 877.15 L259.01 878.28 L259.01 877.18 L256.83 876.31 L258.77 875.83 L258.18 876.79 L257.36 876.91 L257.08 875.86 L257.45 876.69 L255.94 876.03 L255.56 874.91 L255.54 875.68 L256.24 875.76 L257.8 874.92 L258.09 874.61 L258.54 873.69 L259.01 872.72 L257.54 873.46 L259.01 873.3" fill="none" stroke="#2a2627" stroke-width="1.2" stroke-linejoin="round" stroke-linecap="round"/>
<path d="M263.57 789.55 L265.43 789.47 L265.47 789.68 L264.08 789.71 L264.65 790.41 L262.87 789.94 L261.06 790.68 L261.92 789.58 L264.04 790.7 L264.71 790.98 L263.21 789.81 L263.33 788.76 L261.97 788.14 L259.9 788.05 L259.64 788.87 L259.72 789.21 L259.72 789.6 L259.54 789.07 L261.73 790.26 L263.22 790.76" fill="none" stroke="#2a2627" stroke-width="1.2" stroke-linejoin="round" stroke-linecap="round"/>
<path d="M248.93 333.69 L249.66 332.83 L247.51 332.53 L246.51 333.28 L247.35 333.52 L247.61 333.91 L246.05 333.76 L244.56 334.74 L242.62 335.5 L241.67 335.95 L241.67 335.72 L243.18 334.57 L241.67 335.56 L241.71 334.58 L243.85 335.65 L242.15 335.47 L241.67 335.02 L242.21 334.21 L243.07 333.13 L241.67 333.89 L241.67 333.7 L242.09 333.64 L241.67 332.51 L242.67 333.64 L244.76 334.03" fill="none" stroke="#a3a5a8" stroke-width="1.2" stroke-linejoin="round" stroke-linecap="round"/>
<path d="M252.75 335.06 L253.56 335.89 L252.17 335.25 L250.62 334.59 L251.65 333.7 L251.79 333.01 L250.89 332.85 L252.37 333.11 L250.23 332.57 L249.47 333.46 L250.84 334.2 L252.27 334.79 L254.25 335.49 L253.18 336.33 L253.12 336.94 L253.4 336.77 L252.8 336.6 L251.99 335.69 L253.39 336.4 L255.53 336.86 L255.77 337.46 L254.16 337.88 L253.91 337.1 L252.6 337.16 L251.52 337.06" fill="none" stroke="#2a2627" stroke-width="1.2" stroke-linejoin="round" stroke-linecap="round"/>
<path d="M1241.49 785.78 L1242.16 786.83 L1241.15 786.25 L1242.18 786.63 L1241.31 787.07 L1240.86 787.74 L1239.18 787.07 L1240.95 786.73 L1239.89 787.46 L1240.47 786.62 L1240.7 787.01 L1239.22 787.38 L1237.56 786.99 L1235.73 786.28 L1237.83 786.05 L1239.99 785.9 L1240.46 786.79 L1241.29 785.86 L1241.68 786.18 L1240.28 785.21 L1241.92 785.24 L1240.58 785.13 L1239.34 785.84 L1239.34 784.89 L1240.74 783.9 L1239.77 782.77 L1240.83 781.85 L1240.95 781.17 L1240.86 781.62 L1241.01 781.51" fill="none" stroke="#2a2627" stroke-width="1.3" stroke-linejoin="round" stroke-linecap="round"/>
<path d="M1244.03 861.52 L1245.07 860.7 L1247.21 859.54 L1248.88 859.98 L1250.45 861.18 L1249.31 860.79 L1250.22 860.26 L1249.18 859.61 L1250.75 860.51 L1252.06 859.85 L1252.69 859.87 L1251.51 859.77 L1251.15 858.76 L1251.44 858.58 L1251.74 859.61 L1252.38 859.38 L1252.69 860.57 L1252.64 861.64 L1250.53 860.78 L1249.09 861.83 L1249.92 862.35 L1248.98 862.34 L1250.69 861.38 L1249 860.29 L1248.86 861.11 L1249.1 860.87 L1249.11 860.1 L1251.08 859.75 L1249.92 859.3 L1251.35 858.86 L1252.69 858.58 L1252.43 858.58 L1252.69 859.29 L1252.58 858.58 L1252.54 858.58" fill="none" stroke="#a3a5a8" stroke-width="1.2" stroke-linejoin="round" stroke-linecap="round"/>
<path d="M1207.61 863.47 L1207.25 863.34 L1206.85 863.72 L1205.79 864.05 L1203.63 863.57 L1203.28 862.71 L1204.35 862.26 L1205.62 863.35 L1204.54 864.29 L1205.89 864.7 L1203.81 864.59 L1204.37 864.1 L1203.28 863.65 L1203.28 864.34 L1203.28 864.15 L1203.91 865.23 L1203.28 864.14 L1205.37 864.93 L1206.64 864.99 L1205.48 864.16" fill="none" stroke="#2a2627" stroke-width="1.4" stroke-linejoin="round" stroke-linecap="round"/>
<path d="M1059.04 862.96 L1061.07 862.46 L1062.24 862.95 L1062.95 862.01 L1060.86 861.73 L1061.95 861.14 L1061.96 860.7 L1063.48 861.77 L1063.05 862.97 L1061.12 863.72 L1062.77 862.88 L1063.68 863.02 L1063.71 862.32 L1063.71 863.24 L1063.71 862.78" fill="none" stroke="#2a2627" stroke-width="1.3" stroke-linejoin="round" stroke-linecap="round"/>
<path d="M924.79 408.44 L924.06 407.72 L924.02 407.7 L923.93 407.6 L922.89 407.01 L923.74 406.59 L924.51 407.28 L926.12 408.34 L924.95 407.71 L925.98 407.9 L924.67 408.32 L926.31 409.13 L925.06 408.65 L922.89 409.79 L921.66 410.33 L921.83 410.56 L921.95 411.34 L922.39 410.87 L920.69 410.81 L922.55 409.96 L923.36 410.27 L921.87 409.57 L922.69 409.42 L922.28 409.37 L920.52 409.86 L920.91 409.95 L920.21 410.69 L921.63 410.8 L919.82 409.96 L918.29 408.94 L918.94 409.05 L917.64 410.03 L918.21 410.74 L919.61 411.17 L919.73 411.6 L918.11 411.6 L919.8 411.55 L921.2 410.78 L920.83 410.23 L920.38 410.72" fill="none" stroke="#2a2627" stroke-width="1.2" stroke-linejoin="round" stroke-linecap="round"/>
<path d="M1253.47 346.97 L1253.56 347 L1253.09 348.19 L1252.16 347.35 L1251.11 346.77 L1250.35 346.22 L1248.62 345.8 L1247.79 345.96 L1246.48 344.93 L1245.17 345.03 L1244.68 345.59 L1246.01 345.39 L1244.25 345.94 L1245.38 345.69 L1246.07 345.21 L1247.9 346.01 L1249.18 347.1 L1248.01 347.2 L1249.03 347.93 L1248.54 347.06 L1249.1 346.11 L1250 344.93 L1249.8 344.88 L1248.13 344.83 L1248.13 344.52" fill="none" stroke="#2a2627" stroke-width="1.3" stroke-linejoin="round" stroke-linecap="round"/>
<path d="M520.6 867.33 L521.77 868.3 L520.72 868.62 L522.5 869.52 L522.82 868.72 L522.43 869.91 L520.68 869.48 L522.66 869.35 L521.38 868.91 L523.18 868.52 L522.86 868.83 L524.21 868.81 L522.36 868.98 L520.32 868.01 L518.96 868.47 L518 868.93 L516.52 868.01 L514.43 868.51 L516.01 867.83 L514.85 866.67 L515.49 866.19 L513.89 866.54 L514.33 866.41 L512.8 866.75 L513.05 866.59 L511.57 867.61 L513.17 868.07 L515.35 868.26 L514.67 867.34 L515.14 867.39 L514.86 868.57 L516.36 867.65 L518.05 866.45 L518.71 866.01 L519.73 867.09 L519.86 867.73 L517.9 868.13 L516.22 868.02 L515.48 866.99 L516.57 866.02 L515.5 865.02 L516.22 864.55 L514.21 863.41 L512.98 863.43 L510.83 862.29" fill="none" stroke="#2a2627" stroke-width="1.2" stroke-linejoin="round" stroke-linecap="round"/>
<path d="M640.14 865.52 L640.74 865.47 L639.49 866.18 L640.84 866.21 L640.87 865.57 L638.68 865.26 L639.06 864.23 L640.35 863.59 L639.17 863.26 L641.36 863.83 L643.01 864.11 L640.96 863.7 L640.95 863.26 L642.94 863.26 L641.42 864.02 L639.77 865.04 L639.56 865.17 L638.87 865.13 L637.49 864.02 L639.1 863.39" fill="none" stroke="#2a2627" stroke-width="1.6" stroke-linejoin="round" stroke-linecap="round"/>
<path d="M610.32 402.67 L608.23 403.86 L606.84 402.95 L607.5 402.58 L609.22 401.94 L611.24 401.51 L611.68 402.54 L612.5 403.56 L613.41 402.48 L615.09 402.69 L614.26 401.95 L615.8 402.15 L617.73 402.8 L617.82 402.96 L617.82 403.23 L616.76 404.33 L615.93 405 L617.82 405.37 L616.25 406.15 L616.98 405.39 L615 405.47 L612.94 406.49 L612.97 406.53 L612.57 406.59 L614.4 406.13 L613.85 406.33 L612.96 406.56 L613.15 406.4 L613.91 406.47 L612.1 406.59 L611.46 406.43 L611.03 406.59 L613.02 406.59 L612.59 405.62 L614.33 404.84" fill="none" stroke="#a3a5a8" stroke-width="1.3" stroke-linejoin="round" stroke-linecap="round"/>
<path d="M474.07 398.57 L475.79 397.57 L476.2 397.39 L476.33 396.5 L474.98 396.37 L473.75 396.26 L471.66 395.26 L472.58 395.07 L472.64 395.64 L472.02 394.57 L473.26 394.79 L473.96 395.08 L476.03 394.75 L476.33 394.43 L476.33 394.82 L475.52 393.83 L475.4 394.35 L475.8 394.22 L476.33 393.46 L474.92 393.35" fill="none" stroke="#a3a5a8" stroke-width="1.3" stroke-linejoin="round" stroke-linecap="round"/>
<path d="M265.14 330.66 L263.75 331.86 L262.4 332.01 L260.61 332.01 L259.07 332.01 L260.06 332.01 L259.8 332.01 L261.95 331.09 L262.02 332.01 L263.07 331.88 L262.21 332.01 L260.39 332.01 L261.9 331.19 L261.14 330.72 L261.32 330.4 L263.05 331.42 L262.25 332.01 L260.35 331.04 L261.08 331.76 L262.48 332.01 L264.07 331.45 L265.13 332.01 L263.35 332 L261.82 331.14 L261.73 331.55 L263.82 330.67 L263.84 331.86 L265.01 331.94 L263.88 332.01 L262.82 332.01 L263.48 331.75 L264.78 331.52 L264.64 332.01 L263.54 331.26 L263.87 331.1" fill="none" stroke="#2a2627" stroke-width="1.2" stroke-linejoin="round" stroke-linecap="round"/>
<path d="M318.28 329.74 L319.79 329.06 L321.43 329.38 L319.41 330.47 L318.34 330 L318 330.22 L316.35 330.66 L317.81 330.69 L319.11 330.99 L320.54 330.23 L319.92 330.15 L318.17 331.29 L318.77 330.33 L319.14 330.12 L317.77 329.31 L317.6 328.28 L317.87 328.31 L316.23 329.21 L314.21 328.42 L315.61 327.75 L315.27 327.9 L314.99 327.88 L315.01 327.84 L313.06 328.6 L312.11 327.52" fill="none" stroke="#2a2627" stroke-width="1.2" stroke-linejoin="round" stroke-linecap="round"/>
<path d="M254.03 404.98 L252.73 405.22 L250.78 405.89 L251.94 404.79 L252.75 404.79 L253.35 405.88 L255.49 405.66 L257 406.35 L259.08 405.22 L259.88 404.55 L258.24 404.79 L259.74 405.88 L259.14 406.67 L257.07 407.79 L256.17 407.9 L254.51 406.8 L252.35 407.04 L252.61 407.8 L254.16 407.62 L255.69 406.9 L257.36 406.3 L259.3 406.02 L258.98 406.07 L257.04 405.05 L257.24 405.56" fill="none" stroke="#a3a5a8" stroke-width="1.3" stroke-linejoin="round" stroke-linecap="round"/>
<line x1="385.6" y1="427.7" x2="408.1" y2="427.7" stroke="#333" stroke-width="1.6"/>
<line x1="593" y1="428.6" x2="615.3" y2="428.6" stroke="#333" stroke-width="1.6"/>
<line x1="1020.8" y1="428.9" x2="1044.1" y2="428.9" stroke="#333" stroke-width="1.6"/>
<line x1="1232.6" y1="427.4" x2="1259.6" y2="427.4" stroke="#333" stroke-width="1.6"/>
<line x1="389" y1="892" x2="411.6" y2="892" stroke="#333" stroke-width="1.6"/>
<line x1="611.3" y1="894" x2="649.7" y2="894" stroke="#333" stroke-width="1.6"/>
<line x1="1039.4" y1="892.9" x2="1062.5" y2="892.9" stroke="#333" stroke-width="1.6"/>
<line x1="1232.6" y1="892.3" x2="1251.4" y2="892.3" stroke="#333" stroke-width="1.6"/>
<line x1="334.5" y1="379.2" x2="357.2" y2="379.2" stroke="#a3a5a8" stroke-width="2.6"/>
<line x1="334.5" y1="400" x2="357.2" y2="400" stroke="#2a2627" stroke-width="2.6"/>
<text x="371.6" y="382.7" font-size="15.6" text-anchor="start" fill="#231f20" textLength="46.2" lengthAdjust="spacingAndGlyphs">Control</text>
<text x="371.6" y="405.1" font-size="15.6" text-anchor="start" fill="#231f20" textLength="33.2" lengthAdjust="spacingAndGlyphs">20Hz</text>
<line x1="334.5" y1="842.6" x2="357.2" y2="842.6" stroke="#a3a5a8" stroke-width="2.6"/>
<line x1="334.5" y1="863.4" x2="357.2" y2="863.4" stroke="#2a2627" stroke-width="2.6"/>
<text x="371.6" y="847.6" font-size="15.6" text-anchor="start" fill="#231f20" textLength="46.2" lengthAdjust="spacingAndGlyphs">Control</text>
<text x="371.6" y="870" font-size="15.6" text-anchor="start" fill="#231f20" textLength="33.2" lengthAdjust="spacingAndGlyphs">20Hz</text>
<line x1="309.9" y1="582.3" x2="309.9" y2="577.5" stroke="#ed1c24" stroke-width="2"/>
<line x1="300.5" y1="577.5" x2="318.5" y2="577.5" stroke="#ed1c24" stroke-width="2.2"/>
<path d="M291.15 667.8 V583.15 H328.65 V667.8" fill="#fff" stroke="#ed1c24" stroke-width="1.7"/>
<line x1="366.7" y1="547.9" x2="366.7" y2="535.6" stroke="#ed1c24" stroke-width="2"/>
<line x1="357.5" y1="535.6" x2="375.9" y2="535.6" stroke="#ed1c24" stroke-width="2.2"/>
<rect x="347.1" y="547.9" width="39.2" height="119.9" fill="#ed1c24" stroke="none" stroke-width="0"/>
<line x1="280.75" y1="582.3" x2="399.9" y2="582.3" stroke="#1a1a1a" stroke-width="1.2" stroke-dasharray="3.2 1.9"/>
<line x1="280.75" y1="495.8" x2="280.75" y2="668.9" stroke="#231f20" stroke-width="2.2"/>
<line x1="276.5" y1="667.8" x2="395.9" y2="667.8" stroke="#231f20" stroke-width="2.2"/>
<line x1="276.25" y1="667.8" x2="280.75" y2="667.8" stroke="#231f20" stroke-width="2"/>
<text x="274.75" y="671.8" font-size="13.8" font-weight="bold" text-anchor="end" fill="#231f20">0</text>
<line x1="276.25" y1="625.05" x2="280.75" y2="625.05" stroke="#231f20" stroke-width="2"/>
<text x="274.75" y="629.05" font-size="13.8" font-weight="bold" text-anchor="end" fill="#231f20">50</text>
<line x1="276.25" y1="582.3" x2="280.75" y2="582.3" stroke="#231f20" stroke-width="2"/>
<text x="274.75" y="586.3" font-size="13.8" font-weight="bold" text-anchor="end" fill="#231f20">100</text>
<line x1="276.25" y1="539.55" x2="280.75" y2="539.55" stroke="#231f20" stroke-width="2"/>
<text x="274.75" y="543.55" font-size="13.8" font-weight="bold" text-anchor="end" fill="#231f20">150</text>
<line x1="276.25" y1="496.8" x2="280.75" y2="496.8" stroke="#231f20" stroke-width="2"/>
<text x="274.75" y="500.8" font-size="13.8" font-weight="bold" text-anchor="end" fill="#231f20">200</text>
<line x1="309.9" y1="667.8" x2="309.9" y2="672.8" stroke="#231f20" stroke-width="2"/>
<line x1="366.7" y1="667.8" x2="366.7" y2="672.8" stroke="#231f20" stroke-width="2"/>
<text x="314.1" y="685.4" font-size="13.8" font-weight="bold" text-anchor="end" fill="#231f20" transform="rotate(-45 314.1 685.4)" textLength="45.5" lengthAdjust="spacingAndGlyphs">Control</text>
<text x="370.9" y="685.4" font-size="13.8" font-weight="bold" text-anchor="end" fill="#231f20" transform="rotate(-45 370.9 685.4)" textLength="31.5" lengthAdjust="spacingAndGlyphs">20Hz</text>
<text x="246" y="579" font-size="14.2" font-weight="bold" text-anchor="middle" fill="#231f20" transform="rotate(-90 246 579)" textLength="223" lengthAdjust="spacingAndGlyphs">Normalized Distance Traveled (%)</text>
<text x="301.5" y="466.4" font-size="19.5" text-anchor="start" fill="#231f20" textLength="69.5" lengthAdjust="spacingAndGlyphs">D1-SPN</text>
<path d="M309.7 571.9 L309.7 520.7 L366.5 520.7 L366.5 529.5" fill="none" stroke="#231f20" stroke-width="2.1" stroke-linejoin="round" stroke-linecap="round"/>
<text x="341" y="521.49" font-size="21" font-weight="bold" text-anchor="middle" fill="#3c469e" letter-spacing="2.2">**</text>
<line x1="514.7" y1="553.8" x2="514.7" y2="546.8" stroke="#231f20" stroke-width="2"/>
<line x1="505" y1="546.8" x2="524.3" y2="546.8" stroke="#231f20" stroke-width="2.2"/>
<path d="M496.5 667.8 V554.8 H532.9 V667.8" fill="#fff" stroke="#231f20" stroke-width="2"/>
<line x1="571.75" y1="586.3" x2="571.75" y2="581.5" stroke="#231f20" stroke-width="2"/>
<line x1="562.7" y1="581.5" x2="581" y2="581.5" stroke="#231f20" stroke-width="2.2"/>
<rect x="552.3" y="586.3" width="38.9" height="81.5" fill="#231f20" stroke="none" stroke-width="0"/>
<line x1="486" y1="553.8" x2="605.9" y2="553.8" stroke="#1a1a1a" stroke-width="1.2" stroke-dasharray="3.2 1.9"/>
<line x1="486" y1="495.8" x2="486" y2="668.9" stroke="#231f20" stroke-width="2.2"/>
<line x1="482" y1="667.8" x2="600.3" y2="667.8" stroke="#231f20" stroke-width="2.2"/>
<line x1="481.5" y1="667.8" x2="486" y2="667.8" stroke="#231f20" stroke-width="2"/>
<text x="480" y="671.8" font-size="13.8" font-weight="bold" text-anchor="end" fill="#231f20">0</text>
<line x1="481.5" y1="610.8" x2="486" y2="610.8" stroke="#231f20" stroke-width="2"/>
<text x="480" y="614.8" font-size="13.8" font-weight="bold" text-anchor="end" fill="#231f20">50</text>
<line x1="481.5" y1="553.8" x2="486" y2="553.8" stroke="#231f20" stroke-width="2"/>
<text x="480" y="557.8" font-size="13.8" font-weight="bold" text-anchor="end" fill="#231f20">100</text>
<line x1="481.5" y1="496.8" x2="486" y2="496.8" stroke="#231f20" stroke-width="2"/>
<text x="480" y="500.8" font-size="13.8" font-weight="bold" text-anchor="end" fill="#231f20">150</text>
<line x1="514.7" y1="667.8" x2="514.7" y2="672.8" stroke="#231f20" stroke-width="2"/>
<line x1="571.75" y1="667.8" x2="571.75" y2="672.8" stroke="#231f20" stroke-width="2"/>
<text x="518.9" y="685.4" font-size="13.8" font-weight="bold" text-anchor="end" fill="#231f20" transform="rotate(-45 518.9 685.4)" textLength="45.5" lengthAdjust="spacingAndGlyphs">Control</text>
<text x="575.95" y="685.4" font-size="13.8" font-weight="bold" text-anchor="end" fill="#231f20" transform="rotate(-45 575.95 685.4)" textLength="31.5" lengthAdjust="spacingAndGlyphs">20Hz</text>
<text x="451.8" y="579" font-size="14.2" font-weight="bold" text-anchor="middle" fill="#231f20" transform="rotate(-90 451.8 579)" textLength="222" lengthAdjust="spacingAndGlyphs">Normalized Distance Traveled (%)</text>
<text x="508.3" y="466.4" font-size="19.5" text-anchor="start" fill="#231f20" textLength="68.7" lengthAdjust="spacingAndGlyphs">D2-SPN</text>
<path d="M514.7 541 L514.7 534.3 L572 534.3 L572 572.7" fill="none" stroke="#231f20" stroke-width="2.1" stroke-linejoin="round" stroke-linecap="round"/>
<text x="546.1" y="537.49" font-size="21" font-weight="bold" text-anchor="middle" fill="#3c469e" letter-spacing="2.2">*</text>
<line x1="960.3" y1="582.3" x2="960.3" y2="577.2" stroke="#ed1c24" stroke-width="2"/>
<line x1="950.7" y1="577.2" x2="969.1" y2="577.2" stroke="#ed1c24" stroke-width="2.2"/>
<path d="M941.95 667.4 V583.15 H978.65 V667.4" fill="#fff" stroke="#ed1c24" stroke-width="1.7"/>
<line x1="1016.9" y1="526.3" x2="1016.9" y2="511.1" stroke="#ed1c24" stroke-width="2"/>
<line x1="1008.3" y1="511.1" x2="1025.9" y2="511.1" stroke="#ed1c24" stroke-width="2.2"/>
<rect x="997.1" y="526.3" width="39.6" height="141.1" fill="#ed1c24" stroke="none" stroke-width="0"/>
<line x1="931.6" y1="582.1" x2="1052.3" y2="582.1" stroke="#1a1a1a" stroke-width="1.2" stroke-dasharray="3.2 1.9"/>
<line x1="931.6" y1="495.8" x2="931.6" y2="668.5" stroke="#231f20" stroke-width="2.2"/>
<line x1="927.6" y1="667.4" x2="1045.9" y2="667.4" stroke="#231f20" stroke-width="2.2"/>
<line x1="927.1" y1="667.4" x2="931.6" y2="667.4" stroke="#231f20" stroke-width="2"/>
<text x="925.6" y="671.4" font-size="13.8" font-weight="bold" text-anchor="end" fill="#231f20">0</text>
<line x1="927.1" y1="624.75" x2="931.6" y2="624.75" stroke="#231f20" stroke-width="2"/>
<text x="925.6" y="628.75" font-size="13.8" font-weight="bold" text-anchor="end" fill="#231f20">50</text>
<line x1="927.1" y1="582.1" x2="931.6" y2="582.1" stroke="#231f20" stroke-width="2"/>
<text x="925.6" y="586.1" font-size="13.8" font-weight="bold" text-anchor="end" fill="#231f20">100</text>
<line x1="927.1" y1="539.45" x2="931.6" y2="539.45" stroke="#231f20" stroke-width="2"/>
<text x="925.6" y="543.45" font-size="13.8" font-weight="bold" text-anchor="end" fill="#231f20">150</text>
<line x1="927.1" y1="496.8" x2="931.6" y2="496.8" stroke="#231f20" stroke-width="2"/>
<text x="925.6" y="500.8" font-size="13.8" font-weight="bold" text-anchor="end" fill="#231f20">200</text>
<line x1="960.3" y1="667.4" x2="960.3" y2="672.4" stroke="#231f20" stroke-width="2"/>
<line x1="1016.9" y1="667.4" x2="1016.9" y2="672.4" stroke="#231f20" stroke-width="2"/>
<text x="964.5" y="685" font-size="13.8" font-weight="bold" text-anchor="end" fill="#231f20" transform="rotate(-45 964.5 685)" textLength="45.5" lengthAdjust="spacingAndGlyphs">Control</text>
<text x="1021.1" y="685" font-size="13.8" font-weight="bold" text-anchor="end" fill="#231f20" transform="rotate(-45 1021.1 685)" textLength="31.5" lengthAdjust="spacingAndGlyphs">20Hz</text>
<text x="897.4" y="579" font-size="14.2" font-weight="bold" text-anchor="middle" fill="#231f20" transform="rotate(-90 897.4 579)" textLength="222" lengthAdjust="spacingAndGlyphs">Normalized Distance Traveled (%)</text>
<text x="952.3" y="466.4" font-size="19.5" text-anchor="start" fill="#231f20" textLength="68.7" lengthAdjust="spacingAndGlyphs">D1-SPN</text>
<path d="M960.3 568.7 L960.3 492.8 L1017.9 492.8 L1017.9 505.5" fill="none" stroke="#231f20" stroke-width="2.1" stroke-linejoin="round" stroke-linecap="round"/>
<text x="991" y="495.29" font-size="21" font-weight="bold" text-anchor="middle" fill="#3c469e" letter-spacing="2.2">***</text>
<line x1="1150.75" y1="553.8" x2="1150.75" y2="550" stroke="#231f20" stroke-width="2"/>
<line x1="1141.7" y1="550" x2="1160.1" y2="550" stroke="#231f20" stroke-width="2.2"/>
<path d="M1132.8 667.8 V554.8 H1168.7 V667.8" fill="#fff" stroke="#231f20" stroke-width="2"/>
<line x1="1207.45" y1="566.3" x2="1207.45" y2="550.8" stroke="#231f20" stroke-width="2"/>
<line x1="1197.7" y1="550.8" x2="1216.9" y2="550.8" stroke="#231f20" stroke-width="2.2"/>
<rect x="1187.6" y="566.3" width="39.7" height="101.5" fill="#231f20" stroke="none" stroke-width="0"/>
<line x1="1122.6" y1="553.8" x2="1241.7" y2="553.8" stroke="#1a1a1a" stroke-width="1.2" stroke-dasharray="3.2 1.9"/>
<line x1="1122.6" y1="495.8" x2="1122.6" y2="668.9" stroke="#231f20" stroke-width="2.2"/>
<line x1="1117.8" y1="667.8" x2="1236" y2="667.8" stroke="#231f20" stroke-width="2.2"/>
<line x1="1118.1" y1="667.8" x2="1122.6" y2="667.8" stroke="#231f20" stroke-width="2"/>
<text x="1116.6" y="671.8" font-size="13.8" font-weight="bold" text-anchor="end" fill="#231f20">0</text>
<line x1="1118.1" y1="610.8" x2="1122.6" y2="610.8" stroke="#231f20" stroke-width="2"/>
<text x="1116.6" y="614.8" font-size="13.8" font-weight="bold" text-anchor="end" fill="#231f20">50</text>
<line x1="1118.1" y1="553.8" x2="1122.6" y2="553.8" stroke="#231f20" stroke-width="2"/>
<text x="1116.6" y="557.8" font-size="13.8" font-weight="bold" text-anchor="end" fill="#231f20">100</text>
<line x1="1118.1" y1="496.8" x2="1122.6" y2="496.8" stroke="#231f20" stroke-width="2"/>
<text x="1116.6" y="500.8" font-size="13.8" font-weight="bold" text-anchor="end" fill="#231f20">150</text>
<line x1="1150.75" y1="667.8" x2="1150.75" y2="672.8" stroke="#231f20" stroke-width="2"/>
<line x1="1207.45" y1="667.8" x2="1207.45" y2="672.8" stroke="#231f20" stroke-width="2"/>
<text x="1154.95" y="685.4" font-size="13.8" font-weight="bold" text-anchor="end" fill="#231f20" transform="rotate(-45 1154.95 685.4)" textLength="45.5" lengthAdjust="spacingAndGlyphs">Control</text>
<text x="1211.65" y="685.4" font-size="13.8" font-weight="bold" text-anchor="end" fill="#231f20" transform="rotate(-45 1211.65 685.4)" textLength="31.5" lengthAdjust="spacingAndGlyphs">20Hz</text>
<text x="1088.3" y="579" font-size="14.2" font-weight="bold" text-anchor="middle" fill="#231f20" transform="rotate(-90 1088.3 579)" textLength="222" lengthAdjust="spacingAndGlyphs">Normalized Distance Traveled (%)</text>
<text x="1144.1" y="466.4" font-size="19.5" text-anchor="start" fill="#231f20" textLength="69.6" lengthAdjust="spacingAndGlyphs">D2-SPN</text>
<line x1="311.2" y1="1066.9" x2="311.2" y2="1062.2" stroke="#ed1c24" stroke-width="2"/>
<line x1="301.5" y1="1062.2" x2="320.2" y2="1062.2" stroke="#ed1c24" stroke-width="2.2"/>
<path d="M292.25 1154.5 V1067.75 H330.15 V1154.5" fill="#fff" stroke="#ed1c24" stroke-width="1.7"/>
<line x1="369.1" y1="1022.7" x2="369.1" y2="991.5" stroke="#ed1c24" stroke-width="2"/>
<line x1="360" y1="991.5" x2="378.6" y2="991.5" stroke="#ed1c24" stroke-width="2.2"/>
<rect x="349.2" y="1022.7" width="39.8" height="131.8" fill="#ed1c24" stroke="none" stroke-width="0"/>
<line x1="282.1" y1="1068.1" x2="406.4" y2="1068.1" stroke="#1a1a1a" stroke-width="1.2" stroke-dasharray="3.2 1.9"/>
<line x1="282.1" y1="978.3" x2="282.1" y2="1155.6" stroke="#231f20" stroke-width="2.2"/>
<line x1="277.2" y1="1154.5" x2="398.6" y2="1154.5" stroke="#231f20" stroke-width="2.2"/>
<line x1="277.6" y1="1154.5" x2="282.1" y2="1154.5" stroke="#231f20" stroke-width="2"/>
<text x="276.1" y="1158.5" font-size="13.8" font-weight="bold" text-anchor="end" fill="#231f20">0</text>
<line x1="277.6" y1="1110.7" x2="282.1" y2="1110.7" stroke="#231f20" stroke-width="2"/>
<text x="276.1" y="1114.7" font-size="13.8" font-weight="bold" text-anchor="end" fill="#231f20">50</text>
<line x1="277.6" y1="1066.9" x2="282.1" y2="1066.9" stroke="#231f20" stroke-width="2"/>
<text x="276.1" y="1070.9" font-size="13.8" font-weight="bold" text-anchor="end" fill="#231f20">100</text>
<line x1="277.6" y1="1023.1" x2="282.1" y2="1023.1" stroke="#231f20" stroke-width="2"/>
<text x="276.1" y="1027.1" font-size="13.8" font-weight="bold" text-anchor="end" fill="#231f20">150</text>
<line x1="277.6" y1="979.3" x2="282.1" y2="979.3" stroke="#231f20" stroke-width="2"/>
<text x="276.1" y="983.3" font-size="13.8" font-weight="bold" text-anchor="end" fill="#231f20">200</text>
<line x1="311.2" y1="1154.5" x2="311.2" y2="1159.5" stroke="#231f20" stroke-width="2"/>
<line x1="369.1" y1="1154.5" x2="369.1" y2="1159.5" stroke="#231f20" stroke-width="2"/>
<text x="315.4" y="1172.1" font-size="13.8" font-weight="bold" text-anchor="end" fill="#231f20" transform="rotate(-45 315.4 1172.1)" textLength="45.5" lengthAdjust="spacingAndGlyphs">Control</text>
<text x="373.3" y="1172.1" font-size="13.8" font-weight="bold" text-anchor="end" fill="#231f20" transform="rotate(-45 373.3 1172.1)" textLength="31.5" lengthAdjust="spacingAndGlyphs">20Hz</text>
<text x="243.7" y="1067.3" font-size="14.2" font-weight="bold" text-anchor="middle" fill="#231f20" transform="rotate(-90 243.7 1067.3)" textLength="222.7" lengthAdjust="spacingAndGlyphs">Normalized Distance Traveled (%)</text>
<text x="259.9" y="942.3" font-size="19.5" text-anchor="start" fill="#231f20" textLength="40.7" lengthAdjust="spacingAndGlyphs">MCC</text>
<line x1="311.9" y1="935.5" x2="326.8" y2="935.5" stroke="#231f20" stroke-width="2.3"/>
<path d="M335.3 935.5 l-9.5 -4.2 v8.4 z" fill="#231f20"/>
<text x="343.1" y="942.3" font-size="19.5" text-anchor="start" fill="#231f20" textLength="67.6" lengthAdjust="spacingAndGlyphs">D1-SPN</text>
<path d="M311.5 1055.6 L311.5 975 L370 975 L370 983.7" fill="none" stroke="#231f20" stroke-width="2.1" stroke-linejoin="round" stroke-linecap="round"/>
<text x="342" y="976.49" font-size="21" font-weight="bold" text-anchor="middle" fill="#3c469e" letter-spacing="2.2">*</text>
<line x1="520.35" y1="1038.3" x2="520.35" y2="1035.2" stroke="#231f20" stroke-width="2"/>
<line x1="510.6" y1="1035.2" x2="529.7" y2="1035.2" stroke="#231f20" stroke-width="2.2"/>
<path d="M501.7 1155 V1039.3 H539 V1155" fill="#fff" stroke="#231f20" stroke-width="2"/>
<line x1="578.4" y1="1031.7" x2="578.4" y2="1028.8" stroke="#231f20" stroke-width="2"/>
<line x1="568.7" y1="1028.8" x2="588.1" y2="1028.8" stroke="#231f20" stroke-width="2.2"/>
<rect x="558.3" y="1031.7" width="40.2" height="123.3" fill="#231f20" stroke="none" stroke-width="0"/>
<line x1="491" y1="1038.27" x2="616.4" y2="1038.27" stroke="#1a1a1a" stroke-width="1.2" stroke-dasharray="3.2 1.9"/>
<line x1="491" y1="978.9" x2="491" y2="1156.1" stroke="#231f20" stroke-width="2.2"/>
<line x1="486.3" y1="1155" x2="608.6" y2="1155" stroke="#231f20" stroke-width="2.2"/>
<line x1="486.5" y1="1155" x2="491" y2="1155" stroke="#231f20" stroke-width="2"/>
<text x="485" y="1159" font-size="13.8" font-weight="bold" text-anchor="end" fill="#231f20">0</text>
<line x1="486.5" y1="1096.63" x2="491" y2="1096.63" stroke="#231f20" stroke-width="2"/>
<text x="485" y="1100.63" font-size="13.8" font-weight="bold" text-anchor="end" fill="#231f20">50</text>
<line x1="486.5" y1="1038.27" x2="491" y2="1038.27" stroke="#231f20" stroke-width="2"/>
<text x="485" y="1042.27" font-size="13.8" font-weight="bold" text-anchor="end" fill="#231f20">100</text>
<line x1="486.5" y1="979.9" x2="491" y2="979.9" stroke="#231f20" stroke-width="2"/>
<text x="485" y="983.9" font-size="13.8" font-weight="bold" text-anchor="end" fill="#231f20">150</text>
<line x1="520.35" y1="1155" x2="520.35" y2="1160" stroke="#231f20" stroke-width="2"/>
<line x1="578.4" y1="1155" x2="578.4" y2="1160" stroke="#231f20" stroke-width="2"/>
<text x="524.55" y="1172.6" font-size="13.8" font-weight="bold" text-anchor="end" fill="#231f20" transform="rotate(-45 524.55 1172.6)" textLength="45.5" lengthAdjust="spacingAndGlyphs">Control</text>
<text x="582.6" y="1172.6" font-size="13.8" font-weight="bold" text-anchor="end" fill="#231f20" transform="rotate(-45 582.6 1172.6)" textLength="31.5" lengthAdjust="spacingAndGlyphs">20Hz</text>
<text x="454.4" y="1067.3" font-size="14.2" font-weight="bold" text-anchor="middle" fill="#231f20" transform="rotate(-90 454.4 1067.3)" textLength="222.7" lengthAdjust="spacingAndGlyphs">Normalized Distance Traveled (%)</text>
<text x="481.1" y="942.3" font-size="19.5" text-anchor="start" fill="#231f20" textLength="40.8" lengthAdjust="spacingAndGlyphs">MCC</text>
<line x1="533.7" y1="935.5" x2="548.1" y2="935.5" stroke="#231f20" stroke-width="2.3"/>
<path d="M556.6 935.5 l-9.5 -4.2 v8.4 z" fill="#231f20"/>
<text x="565.2" y="942.3" font-size="19.5" text-anchor="start" fill="#231f20" textLength="67.3" lengthAdjust="spacingAndGlyphs">D2-SPN</text>
<line x1="962.5" y1="1038.4" x2="962.5" y2="1035.4" stroke="#ed1c24" stroke-width="2"/>
<line x1="953.2" y1="1035.4" x2="972.3" y2="1035.4" stroke="#ed1c24" stroke-width="2.2"/>
<path d="M943.45 1154.9 V1039.25 H981.55 V1154.9" fill="#fff" stroke="#ed1c24" stroke-width="1.7"/>
<line x1="1021.15" y1="1004.8" x2="1021.15" y2="988.1" stroke="#ed1c24" stroke-width="2"/>
<line x1="1011.2" y1="988.1" x2="1030.2" y2="988.1" stroke="#ed1c24" stroke-width="2.2"/>
<rect x="1001" y="1004.8" width="40.3" height="150.1" fill="#ed1c24" stroke="none" stroke-width="0"/>
<line x1="933.4" y1="1037.83" x2="1057.6" y2="1037.83" stroke="#1a1a1a" stroke-width="1.2" stroke-dasharray="3.2 1.9"/>
<line x1="933.4" y1="978.3" x2="933.4" y2="1156" stroke="#231f20" stroke-width="2.2"/>
<line x1="928.4" y1="1154.9" x2="1050.9" y2="1154.9" stroke="#231f20" stroke-width="2.2"/>
<line x1="928.9" y1="1154.9" x2="933.4" y2="1154.9" stroke="#231f20" stroke-width="2"/>
<text x="927.4" y="1158.9" font-size="13.8" font-weight="bold" text-anchor="end" fill="#231f20">0</text>
<line x1="928.9" y1="1096.37" x2="933.4" y2="1096.37" stroke="#231f20" stroke-width="2"/>
<text x="927.4" y="1100.37" font-size="13.8" font-weight="bold" text-anchor="end" fill="#231f20">50</text>
<line x1="928.9" y1="1037.83" x2="933.4" y2="1037.83" stroke="#231f20" stroke-width="2"/>
<text x="927.4" y="1041.83" font-size="13.8" font-weight="bold" text-anchor="end" fill="#231f20">100</text>
<line x1="928.9" y1="979.3" x2="933.4" y2="979.3" stroke="#231f20" stroke-width="2"/>
<text x="927.4" y="983.3" font-size="13.8" font-weight="bold" text-anchor="end" fill="#231f20">150</text>
<line x1="962.5" y1="1154.9" x2="962.5" y2="1159.9" stroke="#231f20" stroke-width="2"/>
<line x1="1021.15" y1="1154.9" x2="1021.15" y2="1159.9" stroke="#231f20" stroke-width="2"/>
<text x="966.7" y="1172.5" font-size="13.8" font-weight="bold" text-anchor="end" fill="#231f20" transform="rotate(-45 966.7 1172.5)" textLength="45.5" lengthAdjust="spacingAndGlyphs">Control</text>
<text x="1025.35" y="1172.5" font-size="13.8" font-weight="bold" text-anchor="end" fill="#231f20" transform="rotate(-45 1025.35 1172.5)" textLength="31.5" lengthAdjust="spacingAndGlyphs">20Hz</text>
<text x="897.6" y="1067.7" font-size="14.2" font-weight="bold" text-anchor="middle" fill="#231f20" transform="rotate(-90 897.6 1067.7)" textLength="222.2" lengthAdjust="spacingAndGlyphs">Normalized Distance Traveled (%)</text>
<text x="916.4" y="935.4" font-size="19.5" text-anchor="start" fill="#231f20" textLength="23.5" lengthAdjust="spacingAndGlyphs">M1</text>
<line x1="951.8" y1="929.7" x2="967.3" y2="929.7" stroke="#231f20" stroke-width="2.3"/>
<path d="M975.8 929.7 l-9.5 -4.2 v8.4 z" fill="#231f20"/>
<text x="983.3" y="935.4" font-size="19.5" text-anchor="start" fill="#231f20" textLength="68.1" lengthAdjust="spacingAndGlyphs">D1-SPN</text>
<path d="M962.9 1027.4 L962.9 972.2 L1021.3 972.2 L1021.3 981.8" fill="none" stroke="#231f20" stroke-width="2.1" stroke-linejoin="round" stroke-linecap="round"/>
<text x="994.1" y="975.49" font-size="21" font-weight="bold" text-anchor="middle" fill="#3c469e" letter-spacing="2.2">**</text>
<line x1="1152.2" y1="1038.4" x2="1152.2" y2="1032.7" stroke="#231f20" stroke-width="2"/>
<line x1="1143" y1="1032.7" x2="1161.4" y2="1032.7" stroke="#231f20" stroke-width="2.2"/>
<path d="M1133.7 1154.9 V1039.4 H1170.7 V1154.9" fill="#fff" stroke="#231f20" stroke-width="2"/>
<line x1="1210.6" y1="1031.9" x2="1210.6" y2="1021.8" stroke="#231f20" stroke-width="2"/>
<line x1="1200.9" y1="1021.8" x2="1219.8" y2="1021.8" stroke="#231f20" stroke-width="2.2"/>
<rect x="1190.8" y="1031.9" width="39.6" height="123" fill="#231f20" stroke="none" stroke-width="0"/>
<line x1="1123" y1="1037.83" x2="1246.9" y2="1037.83" stroke="#1a1a1a" stroke-width="1.2" stroke-dasharray="3.2 1.9"/>
<line x1="1123" y1="978.3" x2="1123" y2="1156" stroke="#231f20" stroke-width="2.2"/>
<line x1="1118.6" y1="1154.9" x2="1240.3" y2="1154.9" stroke="#231f20" stroke-width="2.2"/>
<line x1="1118.5" y1="1154.9" x2="1123" y2="1154.9" stroke="#231f20" stroke-width="2"/>
<text x="1117" y="1158.9" font-size="13.8" font-weight="bold" text-anchor="end" fill="#231f20">0</text>
<line x1="1118.5" y1="1096.37" x2="1123" y2="1096.37" stroke="#231f20" stroke-width="2"/>
<text x="1117" y="1100.37" font-size="13.8" font-weight="bold" text-anchor="end" fill="#231f20">50</text>
<line x1="1118.5" y1="1037.83" x2="1123" y2="1037.83" stroke="#231f20" stroke-width="2"/>
<text x="1117" y="1041.83" font-size="13.8" font-weight="bold" text-anchor="end" fill="#231f20">100</text>
<line x1="1118.5" y1="979.3" x2="1123" y2="979.3" stroke="#231f20" stroke-width="2"/>
<text x="1117" y="983.3" font-size="13.8" font-weight="bold" text-anchor="end" fill="#231f20">150</text>
<line x1="1152.2" y1="1154.9" x2="1152.2" y2="1159.9" stroke="#231f20" stroke-width="2"/>
<line x1="1210.6" y1="1154.9" x2="1210.6" y2="1159.9" stroke="#231f20" stroke-width="2"/>
<text x="1156.4" y="1172.5" font-size="13.8" font-weight="bold" text-anchor="end" fill="#231f20" transform="rotate(-45 1156.4 1172.5)" textLength="45.5" lengthAdjust="spacingAndGlyphs">Control</text>
<text x="1214.8" y="1172.5" font-size="13.8" font-weight="bold" text-anchor="end" fill="#231f20" transform="rotate(-45 1214.8 1172.5)" textLength="31.5" lengthAdjust="spacingAndGlyphs">20Hz</text>
<text x="1088.3" y="1067.7" font-size="14.2" font-weight="bold" text-anchor="middle" fill="#231f20" transform="rotate(-90 1088.3 1067.7)" textLength="222.2" lengthAdjust="spacingAndGlyphs">Normalized Distance Traveled (%)</text>
<text x="1099.4" y="935.4" font-size="19.5" text-anchor="start" fill="#231f20" textLength="22.7" lengthAdjust="spacingAndGlyphs">M1</text>
<line x1="1134.5" y1="929.7" x2="1150" y2="929.7" stroke="#231f20" stroke-width="2.3"/>
<path d="M1158.5 929.7 l-9.5 -4.2 v8.4 z" fill="#231f20"/>
<text x="1167.2" y="935.4" font-size="19.5" text-anchor="start" fill="#231f20" textLength="67.3" lengthAdjust="spacingAndGlyphs">D2-SPN</text>
<line x1="358.1" y1="1260.7" x2="358.1" y2="1438.9" stroke="#231f20" stroke-width="2.8"/>
<line x1="352.5" y1="1436.4" x2="621.9" y2="1436.4" stroke="#231f20" stroke-width="2.8"/>
<line x1="352.1" y1="1436.4" x2="358.1" y2="1436.4" stroke="#231f20" stroke-width="2.2"/>
<text x="348.1" y="1443.2" font-size="20" font-weight="bold" text-anchor="end" fill="#231f20" textLength="10.68" lengthAdjust="spacingAndGlyphs">0</text>
<line x1="352.1" y1="1392.78" x2="358.1" y2="1392.78" stroke="#231f20" stroke-width="2.2"/>
<text x="348.1" y="1399.58" font-size="20" font-weight="bold" text-anchor="end" fill="#231f20" textLength="21.35" lengthAdjust="spacingAndGlyphs">10</text>
<line x1="352.1" y1="1349.15" x2="358.1" y2="1349.15" stroke="#231f20" stroke-width="2.2"/>
<text x="348.1" y="1355.95" font-size="20" font-weight="bold" text-anchor="end" fill="#231f20" textLength="21.35" lengthAdjust="spacingAndGlyphs">20</text>
<line x1="352.1" y1="1305.53" x2="358.1" y2="1305.53" stroke="#231f20" stroke-width="2.2"/>
<text x="348.1" y="1312.33" font-size="20" font-weight="bold" text-anchor="end" fill="#231f20" textLength="21.35" lengthAdjust="spacingAndGlyphs">30</text>
<line x1="352.1" y1="1261.9" x2="358.1" y2="1261.9" stroke="#231f20" stroke-width="2.2"/>
<text x="348.1" y="1268.7" font-size="20" font-weight="bold" text-anchor="end" fill="#231f20" textLength="21.35" lengthAdjust="spacingAndGlyphs">40</text>
<line x1="391.3" y1="1436.4" x2="391.3" y2="1442.9" stroke="#231f20" stroke-width="2.2"/>
<text x="391.3" y="1461.4" font-size="19" font-weight="bold" text-anchor="middle" fill="#231f20">1</text>
<line x1="423.3" y1="1436.4" x2="423.3" y2="1442.9" stroke="#231f20" stroke-width="2.2"/>
<text x="423.3" y="1461.4" font-size="19" font-weight="bold" text-anchor="middle" fill="#231f20">2</text>
<line x1="456" y1="1436.4" x2="456" y2="1442.9" stroke="#231f20" stroke-width="2.2"/>
<text x="456" y="1461.4" font-size="19" font-weight="bold" text-anchor="middle" fill="#231f20">3</text>
<line x1="488.6" y1="1436.4" x2="488.6" y2="1442.9" stroke="#231f20" stroke-width="2.2"/>
<text x="488.6" y="1461.4" font-size="19" font-weight="bold" text-anchor="middle" fill="#231f20">4</text>
<line x1="521.2" y1="1436.4" x2="521.2" y2="1442.9" stroke="#231f20" stroke-width="2.2"/>
<text x="521.2" y="1461.4" font-size="19" font-weight="bold" text-anchor="middle" fill="#231f20">5</text>
<line x1="553.8" y1="1436.4" x2="553.8" y2="1442.9" stroke="#231f20" stroke-width="2.2"/>
<text x="553.8" y="1461.4" font-size="19" font-weight="bold" text-anchor="middle" fill="#231f20">6</text>
<line x1="586.5" y1="1436.4" x2="586.5" y2="1442.9" stroke="#231f20" stroke-width="2.2"/>
<text x="586.5" y="1461.4" font-size="19" font-weight="bold" text-anchor="middle" fill="#231f20">7</text>
<text x="493.5" y="1482.3" font-size="19" font-weight="bold" text-anchor="middle" fill="#231f20">Days</text>
<text x="316" y="1337.6" font-size="18" font-weight="bold" text-anchor="middle" fill="#231f20" transform="rotate(-90 316 1337.6)" textLength="160" lengthAdjust="spacingAndGlyphs">Lever Presses / Hr</text>
<text x="482.2" y="1234.1" font-size="18.5" font-weight="bold" text-anchor="middle" fill="#231f20">DMS</text>
<path d="M391.3 1425.6 L423.3 1434 L456 1434 L488.6 1432.7 L521.2 1431.8 L553.8 1434 L586.5 1435.5" fill="none" stroke="#231f20" stroke-width="2.6" stroke-linejoin="round" stroke-linecap="round"/>
<circle cx="391.3" cy="1425.6" r="4.5" fill="#231f20" stroke="none" stroke-width="0"/>
<circle cx="423.3" cy="1434" r="4.5" fill="#231f20" stroke="none" stroke-width="0"/>
<circle cx="456" cy="1434" r="4.5" fill="#231f20" stroke="none" stroke-width="0"/>
<circle cx="488.6" cy="1432.7" r="4.5" fill="#231f20" stroke="none" stroke-width="0"/>
<circle cx="521.2" cy="1431.8" r="4.5" fill="#231f20" stroke="none" stroke-width="0"/>
<circle cx="553.8" cy="1434" r="4.5" fill="#231f20" stroke="none" stroke-width="0"/>
<circle cx="586.5" cy="1435.5" r="4.5" fill="#231f20" stroke="none" stroke-width="0"/>
<line x1="391.3" y1="1397.8" x2="391.3" y2="1386.5" stroke="#ed1c24" stroke-width="2.2"/>
<line x1="387.1" y1="1386.5" x2="395.5" y2="1386.5" stroke="#ed1c24" stroke-width="2.2"/>
<line x1="423.3" y1="1410" x2="423.3" y2="1395" stroke="#ed1c24" stroke-width="2.2"/>
<line x1="419.1" y1="1395" x2="427.5" y2="1395" stroke="#ed1c24" stroke-width="2.2"/>
<line x1="456" y1="1366" x2="456" y2="1303" stroke="#ed1c24" stroke-width="2.2"/>
<line x1="451.8" y1="1303" x2="460.2" y2="1303" stroke="#ed1c24" stroke-width="2.2"/>
<line x1="488.6" y1="1382.5" x2="488.6" y2="1341" stroke="#ed1c24" stroke-width="2.2"/>
<line x1="484.4" y1="1341" x2="492.8" y2="1341" stroke="#ed1c24" stroke-width="2.2"/>
<line x1="521.2" y1="1376" x2="521.2" y2="1341" stroke="#ed1c24" stroke-width="2.2"/>
<line x1="517" y1="1341" x2="525.4" y2="1341" stroke="#ed1c24" stroke-width="2.2"/>
<line x1="553.8" y1="1368.9" x2="553.8" y2="1329.1" stroke="#ed1c24" stroke-width="2.2"/>
<line x1="549.6" y1="1329.1" x2="558" y2="1329.1" stroke="#ed1c24" stroke-width="2.2"/>
<line x1="586.5" y1="1360.9" x2="586.5" y2="1302.2" stroke="#ed1c24" stroke-width="2.2"/>
<line x1="582.3" y1="1302.2" x2="590.7" y2="1302.2" stroke="#ed1c24" stroke-width="2.2"/>
<path d="M391.3 1397.8 L423.3 1410 L456 1366 L488.6 1382.5 L521.2 1376 L553.8 1368.9 L586.5 1360.9" fill="none" stroke="#ed1c24" stroke-width="2.6" stroke-linejoin="round" stroke-linecap="round"/>
<rect x="387" y="1393.5" width="8.6" height="8.6" fill="#ed1c24" stroke="none" stroke-width="0"/>
<rect x="419" y="1405.7" width="8.6" height="8.6" fill="#ed1c24" stroke="none" stroke-width="0"/>
<rect x="451.7" y="1361.7" width="8.6" height="8.6" fill="#ed1c24" stroke="none" stroke-width="0"/>
<rect x="484.3" y="1378.2" width="8.6" height="8.6" fill="#ed1c24" stroke="none" stroke-width="0"/>
<rect x="516.9" y="1371.7" width="8.6" height="8.6" fill="#ed1c24" stroke="none" stroke-width="0"/>
<rect x="549.5" y="1364.6" width="8.6" height="8.6" fill="#ed1c24" stroke="none" stroke-width="0"/>
<rect x="582.2" y="1356.6" width="8.6" height="8.6" fill="#ed1c24" stroke="none" stroke-width="0"/>
<line x1="372.3" y1="1254" x2="389.3" y2="1254" stroke="#ed1c24" stroke-width="2.4"/>
<rect x="376.8" y="1250" width="8" height="8" fill="#ed1c24" stroke="none" stroke-width="0"/>
<text x="395" y="1262.2" font-size="20.3" text-anchor="start" fill="#ed1c24" textLength="67.4" lengthAdjust="spacingAndGlyphs">D1-SPN</text>
<line x1="372.3" y1="1273.8" x2="389.3" y2="1273.8" stroke="#231f20" stroke-width="2.4"/>
<circle cx="380.8" cy="1273.8" r="4.3" fill="#231f20" stroke="none" stroke-width="0"/>
<text x="395" y="1282" font-size="20.3" text-anchor="start" fill="#231f20" textLength="67.4" lengthAdjust="spacingAndGlyphs">D2-SPN</text>
<path d="M600.6 1359.5 L619.9 1359.5 L619.9 1429.9 L600.6 1429.9" fill="none" stroke="#231f20" stroke-width="2" stroke-linejoin="round" stroke-linecap="round"/>
<text x="629.7" y="1414.5" font-size="37" text-anchor="middle" fill="#2e3192">*</text>
<line x1="775.4" y1="1260.3" x2="775.4" y2="1439.2" stroke="#231f20" stroke-width="2.8"/>
<line x1="769.5" y1="1436.7" x2="1037.4" y2="1436.7" stroke="#231f20" stroke-width="2.8"/>
<line x1="769.4" y1="1436.7" x2="775.4" y2="1436.7" stroke="#231f20" stroke-width="2.2"/>
<text x="765.4" y="1443.5" font-size="20" font-weight="bold" text-anchor="end" fill="#231f20" textLength="10.68" lengthAdjust="spacingAndGlyphs">0</text>
<line x1="769.4" y1="1392.9" x2="775.4" y2="1392.9" stroke="#231f20" stroke-width="2.2"/>
<text x="765.4" y="1399.7" font-size="20" font-weight="bold" text-anchor="end" fill="#231f20" textLength="32.03" lengthAdjust="spacingAndGlyphs">100</text>
<line x1="769.4" y1="1349.1" x2="775.4" y2="1349.1" stroke="#231f20" stroke-width="2.2"/>
<text x="765.4" y="1355.9" font-size="20" font-weight="bold" text-anchor="end" fill="#231f20" textLength="32.03" lengthAdjust="spacingAndGlyphs">200</text>
<line x1="769.4" y1="1305.3" x2="775.4" y2="1305.3" stroke="#231f20" stroke-width="2.2"/>
<text x="765.4" y="1312.1" font-size="20" font-weight="bold" text-anchor="end" fill="#231f20" textLength="32.03" lengthAdjust="spacingAndGlyphs">300</text>
<line x1="769.4" y1="1261.5" x2="775.4" y2="1261.5" stroke="#231f20" stroke-width="2.2"/>
<text x="765.4" y="1268.3" font-size="20" font-weight="bold" text-anchor="end" fill="#231f20" textLength="32.03" lengthAdjust="spacingAndGlyphs">400</text>
<line x1="807.4" y1="1436.7" x2="807.4" y2="1443.2" stroke="#231f20" stroke-width="2.2"/>
<text x="807.4" y="1461.7" font-size="19" font-weight="bold" text-anchor="middle" fill="#231f20">1</text>
<line x1="840.3" y1="1436.7" x2="840.3" y2="1443.2" stroke="#231f20" stroke-width="2.2"/>
<text x="840.3" y="1461.7" font-size="19" font-weight="bold" text-anchor="middle" fill="#231f20">2</text>
<line x1="872.7" y1="1436.7" x2="872.7" y2="1443.2" stroke="#231f20" stroke-width="2.2"/>
<text x="872.7" y="1461.7" font-size="19" font-weight="bold" text-anchor="middle" fill="#231f20">3</text>
<line x1="905.6" y1="1436.7" x2="905.6" y2="1443.2" stroke="#231f20" stroke-width="2.2"/>
<text x="905.6" y="1461.7" font-size="19" font-weight="bold" text-anchor="middle" fill="#231f20">4</text>
<line x1="938" y1="1436.7" x2="938" y2="1443.2" stroke="#231f20" stroke-width="2.2"/>
<text x="938" y="1461.7" font-size="19" font-weight="bold" text-anchor="middle" fill="#231f20">5</text>
<line x1="970.6" y1="1436.7" x2="970.6" y2="1443.2" stroke="#231f20" stroke-width="2.2"/>
<text x="970.6" y="1461.7" font-size="19" font-weight="bold" text-anchor="middle" fill="#231f20">6</text>
<line x1="1003" y1="1436.7" x2="1003" y2="1443.2" stroke="#231f20" stroke-width="2.2"/>
<text x="1003" y="1461.7" font-size="19" font-weight="bold" text-anchor="middle" fill="#231f20">7</text>
<text x="910.5" y="1482.3" font-size="19" font-weight="bold" text-anchor="middle" fill="#231f20">Days</text>
<text x="726.3" y="1337" font-size="18" font-weight="bold" text-anchor="middle" fill="#231f20" transform="rotate(-90 726.3 1337)" textLength="160.4" lengthAdjust="spacingAndGlyphs">Lever Presses / Hr</text>
<text x="910.2" y="1234" font-size="18.5" font-weight="bold" text-anchor="middle" fill="#231f20">DLS</text>
<path d="M807.4 1435.5 L840.3 1435.5 L872.7 1435.5 L905.6 1435.5 L938 1435.5 L970.6 1435.5 L1003 1435.5" fill="none" stroke="#231f20" stroke-width="2.6" stroke-linejoin="round" stroke-linecap="round"/>
<circle cx="807.4" cy="1435.5" r="4.5" fill="#231f20" stroke="none" stroke-width="0"/>
<circle cx="840.3" cy="1435.5" r="4.5" fill="#231f20" stroke="none" stroke-width="0"/>
<circle cx="872.7" cy="1435.5" r="4.5" fill="#231f20" stroke="none" stroke-width="0"/>
<circle cx="905.6" cy="1435.5" r="4.5" fill="#231f20" stroke="none" stroke-width="0"/>
<circle cx="938" cy="1435.5" r="4.5" fill="#231f20" stroke="none" stroke-width="0"/>
<circle cx="970.6" cy="1435.5" r="4.5" fill="#231f20" stroke="none" stroke-width="0"/>
<circle cx="1003" cy="1435.5" r="4.5" fill="#231f20" stroke="none" stroke-width="0"/>
<line x1="807.4" y1="1425" x2="807.4" y2="1416.6" stroke="#ed1c24" stroke-width="2.2"/>
<line x1="803.2" y1="1416.6" x2="811.6" y2="1416.6" stroke="#ed1c24" stroke-width="2.2"/>
<line x1="840.3" y1="1413.7" x2="840.3" y2="1391.8" stroke="#ed1c24" stroke-width="2.2"/>
<line x1="836.1" y1="1391.8" x2="844.5" y2="1391.8" stroke="#ed1c24" stroke-width="2.2"/>
<line x1="872.7" y1="1400.2" x2="872.7" y2="1366.3" stroke="#ed1c24" stroke-width="2.2"/>
<line x1="868.5" y1="1366.3" x2="876.9" y2="1366.3" stroke="#ed1c24" stroke-width="2.2"/>
<line x1="905.6" y1="1401.7" x2="905.6" y2="1375.6" stroke="#ed1c24" stroke-width="2.2"/>
<line x1="901.4" y1="1375.6" x2="909.8" y2="1375.6" stroke="#ed1c24" stroke-width="2.2"/>
<line x1="938" y1="1349.3" x2="938" y2="1287.3" stroke="#ed1c24" stroke-width="2.2"/>
<line x1="933.8" y1="1287.3" x2="942.2" y2="1287.3" stroke="#ed1c24" stroke-width="2.2"/>
<line x1="970.6" y1="1364.8" x2="970.6" y2="1313.3" stroke="#ed1c24" stroke-width="2.2"/>
<line x1="966.4" y1="1313.3" x2="974.8" y2="1313.3" stroke="#ed1c24" stroke-width="2.2"/>
<line x1="1003" y1="1360.3" x2="1003" y2="1312.4" stroke="#ed1c24" stroke-width="2.2"/>
<line x1="998.8" y1="1312.4" x2="1007.2" y2="1312.4" stroke="#ed1c24" stroke-width="2.2"/>
<path d="M807.4 1425 L840.3 1413.7 L872.7 1400.2 L905.6 1401.7 L938 1349.3 L970.6 1364.8 L1003 1360.3" fill="none" stroke="#ed1c24" stroke-width="2.6" stroke-linejoin="round" stroke-linecap="round"/>
<rect x="803.1" y="1420.7" width="8.6" height="8.6" fill="#ed1c24" stroke="none" stroke-width="0"/>
<rect x="836" y="1409.4" width="8.6" height="8.6" fill="#ed1c24" stroke="none" stroke-width="0"/>
<rect x="868.4" y="1395.9" width="8.6" height="8.6" fill="#ed1c24" stroke="none" stroke-width="0"/>
<rect x="901.3" y="1397.4" width="8.6" height="8.6" fill="#ed1c24" stroke="none" stroke-width="0"/>
<rect x="933.7" y="1345" width="8.6" height="8.6" fill="#ed1c24" stroke="none" stroke-width="0"/>
<rect x="966.3" y="1360.5" width="8.6" height="8.6" fill="#ed1c24" stroke="none" stroke-width="0"/>
<rect x="998.7" y="1356" width="8.6" height="8.6" fill="#ed1c24" stroke="none" stroke-width="0"/>
<line x1="803.8" y1="1255.5" x2="820.8" y2="1255.5" stroke="#ed1c24" stroke-width="2.4"/>
<rect x="808.3" y="1251.5" width="8" height="8" fill="#ed1c24" stroke="none" stroke-width="0"/>
<text x="824.8" y="1263.7" font-size="20.3" text-anchor="start" fill="#ed1c24" textLength="68.2" lengthAdjust="spacingAndGlyphs">D1-SPN</text>
<line x1="803.8" y1="1274.4" x2="820.8" y2="1274.4" stroke="#231f20" stroke-width="2.4"/>
<circle cx="812.3" cy="1274.4" r="4.3" fill="#231f20" stroke="none" stroke-width="0"/>
<text x="824.8" y="1282.6" font-size="20.3" text-anchor="start" fill="#231f20" textLength="68.2" lengthAdjust="spacingAndGlyphs">D2-SPN</text>
<path d="M1016.4 1357.3 L1035.9 1357.3 L1035.9 1431 L1016.4 1431" fill="none" stroke="#231f20" stroke-width="2" stroke-linejoin="round" stroke-linecap="round"/>
<text x="1044.9" y="1412.2" font-size="37" text-anchor="middle" fill="#2e3192">*</text>
<line x1="358.9" y1="1522.1" x2="358.9" y2="1701" stroke="#231f20" stroke-width="2.8"/>
<line x1="352.9" y1="1698.5" x2="622.4" y2="1698.5" stroke="#231f20" stroke-width="2.8"/>
<line x1="352.9" y1="1698.5" x2="358.9" y2="1698.5" stroke="#231f20" stroke-width="2.2"/>
<text x="348.9" y="1705.3" font-size="20" font-weight="bold" text-anchor="end" fill="#231f20" textLength="10.68" lengthAdjust="spacingAndGlyphs">0</text>
<line x1="352.9" y1="1663.46" x2="358.9" y2="1663.46" stroke="#231f20" stroke-width="2.2"/>
<text x="348.9" y="1670.26" font-size="20" font-weight="bold" text-anchor="end" fill="#231f20" textLength="21.35" lengthAdjust="spacingAndGlyphs">10</text>
<line x1="352.9" y1="1628.42" x2="358.9" y2="1628.42" stroke="#231f20" stroke-width="2.2"/>
<text x="348.9" y="1635.22" font-size="20" font-weight="bold" text-anchor="end" fill="#231f20" textLength="21.35" lengthAdjust="spacingAndGlyphs">20</text>
<line x1="352.9" y1="1593.38" x2="358.9" y2="1593.38" stroke="#231f20" stroke-width="2.2"/>
<text x="348.9" y="1600.18" font-size="20" font-weight="bold" text-anchor="end" fill="#231f20" textLength="21.35" lengthAdjust="spacingAndGlyphs">30</text>
<line x1="352.9" y1="1558.34" x2="358.9" y2="1558.34" stroke="#231f20" stroke-width="2.2"/>
<text x="348.9" y="1565.14" font-size="20" font-weight="bold" text-anchor="end" fill="#231f20" textLength="21.35" lengthAdjust="spacingAndGlyphs">40</text>
<line x1="352.9" y1="1523.3" x2="358.9" y2="1523.3" stroke="#231f20" stroke-width="2.2"/>
<text x="348.9" y="1530.1" font-size="20" font-weight="bold" text-anchor="end" fill="#231f20" textLength="21.35" lengthAdjust="spacingAndGlyphs">50</text>
<line x1="390.9" y1="1698.5" x2="390.9" y2="1705" stroke="#231f20" stroke-width="2.2"/>
<text x="390.9" y="1723.5" font-size="19" font-weight="bold" text-anchor="middle" fill="#231f20">1</text>
<line x1="423.3" y1="1698.5" x2="423.3" y2="1705" stroke="#231f20" stroke-width="2.2"/>
<text x="423.3" y="1723.5" font-size="19" font-weight="bold" text-anchor="middle" fill="#231f20">2</text>
<line x1="455.6" y1="1698.5" x2="455.6" y2="1705" stroke="#231f20" stroke-width="2.2"/>
<text x="455.6" y="1723.5" font-size="19" font-weight="bold" text-anchor="middle" fill="#231f20">3</text>
<line x1="488.3" y1="1698.5" x2="488.3" y2="1705" stroke="#231f20" stroke-width="2.2"/>
<text x="488.3" y="1723.5" font-size="19" font-weight="bold" text-anchor="middle" fill="#231f20">4</text>
<line x1="520.6" y1="1698.5" x2="520.6" y2="1705" stroke="#231f20" stroke-width="2.2"/>
<text x="520.6" y="1723.5" font-size="19" font-weight="bold" text-anchor="middle" fill="#231f20">5</text>
<line x1="553.5" y1="1698.5" x2="553.5" y2="1705" stroke="#231f20" stroke-width="2.2"/>
<text x="553.5" y="1723.5" font-size="19" font-weight="bold" text-anchor="middle" fill="#231f20">6</text>
<line x1="586.5" y1="1698.5" x2="586.5" y2="1705" stroke="#231f20" stroke-width="2.2"/>
<text x="586.5" y="1723.5" font-size="19" font-weight="bold" text-anchor="middle" fill="#231f20">7</text>
<text x="492.9" y="1743.6" font-size="19" font-weight="bold" text-anchor="middle" fill="#231f20">Days</text>
<text x="315.8" y="1612" font-size="18" font-weight="bold" text-anchor="middle" fill="#231f20" transform="rotate(-90 315.8 1612)" textLength="159.5" lengthAdjust="spacingAndGlyphs">Lever Presses / Hr</text>
<line x1="390.9" y1="1675.2" x2="390.9" y2="1666.2" stroke="#231f20" stroke-width="2.2"/>
<line x1="386.7" y1="1666.2" x2="395.1" y2="1666.2" stroke="#231f20" stroke-width="2.2"/>
<line x1="488.3" y1="1680.5" x2="488.3" y2="1676.6" stroke="#231f20" stroke-width="2.2"/>
<line x1="484.1" y1="1676.6" x2="492.5" y2="1676.6" stroke="#231f20" stroke-width="2.2"/>
<line x1="520.6" y1="1673" x2="520.6" y2="1659.6" stroke="#231f20" stroke-width="2.2"/>
<line x1="516.4" y1="1659.6" x2="524.8" y2="1659.6" stroke="#231f20" stroke-width="2.2"/>
<line x1="553.5" y1="1658" x2="553.5" y2="1641.6" stroke="#231f20" stroke-width="2.2"/>
<line x1="549.3" y1="1641.6" x2="557.7" y2="1641.6" stroke="#231f20" stroke-width="2.2"/>
<line x1="586.5" y1="1670" x2="586.5" y2="1658.7" stroke="#231f20" stroke-width="2.2"/>
<line x1="582.3" y1="1658.7" x2="590.7" y2="1658.7" stroke="#231f20" stroke-width="2.2"/>
<path d="M390.9 1675.2 L423.3 1690.1 L455.6 1679.6 L488.3 1680.5 L520.6 1673 L553.5 1658 L586.5 1670" fill="none" stroke="#231f20" stroke-width="2.6" stroke-linejoin="round" stroke-linecap="round"/>
<circle cx="390.9" cy="1675.2" r="4.5" fill="#231f20" stroke="none" stroke-width="0"/>
<circle cx="423.3" cy="1690.1" r="4.5" fill="#231f20" stroke="none" stroke-width="0"/>
<circle cx="455.6" cy="1679.6" r="4.5" fill="#231f20" stroke="none" stroke-width="0"/>
<circle cx="488.3" cy="1680.5" r="4.5" fill="#231f20" stroke="none" stroke-width="0"/>
<circle cx="520.6" cy="1673" r="4.5" fill="#231f20" stroke="none" stroke-width="0"/>
<circle cx="553.5" cy="1658" r="4.5" fill="#231f20" stroke="none" stroke-width="0"/>
<circle cx="586.5" cy="1670" r="4.5" fill="#231f20" stroke="none" stroke-width="0"/>
<line x1="390.9" y1="1676" x2="390.9" y2="1660.2" stroke="#ed1c24" stroke-width="2.2"/>
<line x1="386.7" y1="1660.2" x2="395.1" y2="1660.2" stroke="#ed1c24" stroke-width="2.2"/>
<line x1="423.3" y1="1660.5" x2="423.3" y2="1641.3" stroke="#ed1c24" stroke-width="2.2"/>
<line x1="419.1" y1="1641.3" x2="427.5" y2="1641.3" stroke="#ed1c24" stroke-width="2.2"/>
<line x1="455.6" y1="1638.3" x2="455.6" y2="1606.3" stroke="#ed1c24" stroke-width="2.2"/>
<line x1="451.4" y1="1606.3" x2="459.8" y2="1606.3" stroke="#ed1c24" stroke-width="2.2"/>
<line x1="488.3" y1="1645.2" x2="488.3" y2="1610.2" stroke="#ed1c24" stroke-width="2.2"/>
<line x1="484.1" y1="1610.2" x2="492.5" y2="1610.2" stroke="#ed1c24" stroke-width="2.2"/>
<line x1="520.6" y1="1632.6" x2="520.6" y2="1583.2" stroke="#ed1c24" stroke-width="2.2"/>
<line x1="516.4" y1="1583.2" x2="524.8" y2="1583.2" stroke="#ed1c24" stroke-width="2.2"/>
<line x1="553.5" y1="1614.4" x2="553.5" y2="1560.4" stroke="#ed1c24" stroke-width="2.2"/>
<line x1="549.3" y1="1560.4" x2="557.7" y2="1560.4" stroke="#ed1c24" stroke-width="2.2"/>
<line x1="586.5" y1="1624.2" x2="586.5" y2="1572.4" stroke="#ed1c24" stroke-width="2.2"/>
<line x1="582.3" y1="1572.4" x2="590.7" y2="1572.4" stroke="#ed1c24" stroke-width="2.2"/>
<path d="M390.9 1676 L423.3 1660.5 L455.6 1638.3 L488.3 1645.2 L520.6 1632.6 L553.5 1614.4 L586.5 1624.2" fill="none" stroke="#ed1c24" stroke-width="2.6" stroke-linejoin="round" stroke-linecap="round"/>
<rect x="386.6" y="1671.7" width="8.6" height="8.6" fill="#ed1c24" stroke="none" stroke-width="0"/>
<rect x="419" y="1656.2" width="8.6" height="8.6" fill="#ed1c24" stroke="none" stroke-width="0"/>
<rect x="451.3" y="1634" width="8.6" height="8.6" fill="#ed1c24" stroke="none" stroke-width="0"/>
<rect x="484" y="1640.9" width="8.6" height="8.6" fill="#ed1c24" stroke="none" stroke-width="0"/>
<rect x="516.3" y="1628.3" width="8.6" height="8.6" fill="#ed1c24" stroke="none" stroke-width="0"/>
<rect x="549.2" y="1610.1" width="8.6" height="8.6" fill="#ed1c24" stroke="none" stroke-width="0"/>
<rect x="582.2" y="1619.9" width="8.6" height="8.6" fill="#ed1c24" stroke="none" stroke-width="0"/>
<line x1="372.4" y1="1521.5" x2="389.4" y2="1521.5" stroke="#ed1c24" stroke-width="2.4"/>
<rect x="376.9" y="1517.5" width="8" height="8" fill="#ed1c24" stroke="none" stroke-width="0"/>
<text x="394.2" y="1529.7" font-size="20.3" text-anchor="start" fill="#ed1c24" textLength="41.9" lengthAdjust="spacingAndGlyphs">MCC</text>
<line x1="441.2" y1="1521.5" x2="462.2" y2="1521.5" stroke="#ed1c24" stroke-width="2.3"/>
<path d="M471.2 1521.5 l-10 -4.4 v8.8 z" fill="#ed1c24"/>
<text x="478.1" y="1529.7" font-size="20.3" text-anchor="start" fill="#ed1c24" textLength="68.7" lengthAdjust="spacingAndGlyphs">D1-SPN</text>
<line x1="372.4" y1="1547.3" x2="389.4" y2="1547.3" stroke="#231f20" stroke-width="2.4"/>
<circle cx="380.9" cy="1547.3" r="4.3" fill="#231f20" stroke="none" stroke-width="0"/>
<text x="394.2" y="1555.5" font-size="20.3" text-anchor="start" fill="#231f20" textLength="41.9" lengthAdjust="spacingAndGlyphs">MCC</text>
<line x1="441.2" y1="1547.3" x2="462.2" y2="1547.3" stroke="#231f20" stroke-width="2.3"/>
<path d="M471.2 1547.3 l-10 -4.4 v8.8 z" fill="#231f20"/>
<text x="478.1" y="1555.5" font-size="20.3" text-anchor="start" fill="#231f20" textLength="68.7" lengthAdjust="spacingAndGlyphs">D2-SPN</text>
<path d="M600 1624.2 L610.5 1624.2 L610.5 1670.7 L600 1670.7" fill="none" stroke="#231f20" stroke-width="2" stroke-linejoin="round" stroke-linecap="round"/>
<text x="615" y="1652.7" font-size="19.5" font-weight="bold" text-anchor="start" fill="#231f20" textLength="31.4" lengthAdjust="spacingAndGlyphs">n.s.</text>
<line x1="775.4" y1="1519.7" x2="775.4" y2="1701.6" stroke="#231f20" stroke-width="2.8"/>
<line x1="769.5" y1="1696.1" x2="1037.4" y2="1696.1" stroke="#231f20" stroke-width="2.8"/>
<line x1="769.4" y1="1696.1" x2="775.4" y2="1696.1" stroke="#231f20" stroke-width="2.2"/>
<text x="765.4" y="1702.9" font-size="20" font-weight="bold" text-anchor="end" fill="#231f20" textLength="10.68" lengthAdjust="spacingAndGlyphs">0</text>
<line x1="769.4" y1="1652.3" x2="775.4" y2="1652.3" stroke="#231f20" stroke-width="2.2"/>
<text x="765.4" y="1659.1" font-size="20" font-weight="bold" text-anchor="end" fill="#231f20" textLength="21.35" lengthAdjust="spacingAndGlyphs">10</text>
<line x1="769.4" y1="1608.5" x2="775.4" y2="1608.5" stroke="#231f20" stroke-width="2.2"/>
<text x="765.4" y="1615.3" font-size="20" font-weight="bold" text-anchor="end" fill="#231f20" textLength="21.35" lengthAdjust="spacingAndGlyphs">20</text>
<line x1="769.4" y1="1564.7" x2="775.4" y2="1564.7" stroke="#231f20" stroke-width="2.2"/>
<text x="765.4" y="1571.5" font-size="20" font-weight="bold" text-anchor="end" fill="#231f20" textLength="21.35" lengthAdjust="spacingAndGlyphs">30</text>
<line x1="769.4" y1="1520.9" x2="775.4" y2="1520.9" stroke="#231f20" stroke-width="2.2"/>
<text x="765.4" y="1527.7" font-size="20" font-weight="bold" text-anchor="end" fill="#231f20" textLength="21.35" lengthAdjust="spacingAndGlyphs">40</text>
<line x1="807.4" y1="1696.1" x2="807.4" y2="1702.6" stroke="#231f20" stroke-width="2.2"/>
<text x="807.4" y="1721.1" font-size="19" font-weight="bold" text-anchor="middle" fill="#231f20">1</text>
<line x1="840.3" y1="1696.1" x2="840.3" y2="1702.6" stroke="#231f20" stroke-width="2.2"/>
<text x="840.3" y="1721.1" font-size="19" font-weight="bold" text-anchor="middle" fill="#231f20">2</text>
<line x1="872.7" y1="1696.1" x2="872.7" y2="1702.6" stroke="#231f20" stroke-width="2.2"/>
<text x="872.7" y="1721.1" font-size="19" font-weight="bold" text-anchor="middle" fill="#231f20">3</text>
<line x1="905.6" y1="1696.1" x2="905.6" y2="1702.6" stroke="#231f20" stroke-width="2.2"/>
<text x="905.6" y="1721.1" font-size="19" font-weight="bold" text-anchor="middle" fill="#231f20">4</text>
<line x1="938" y1="1696.1" x2="938" y2="1702.6" stroke="#231f20" stroke-width="2.2"/>
<text x="938" y="1721.1" font-size="19" font-weight="bold" text-anchor="middle" fill="#231f20">5</text>
<line x1="970.6" y1="1696.1" x2="970.6" y2="1702.6" stroke="#231f20" stroke-width="2.2"/>
<text x="970.6" y="1721.1" font-size="19" font-weight="bold" text-anchor="middle" fill="#231f20">6</text>
<line x1="1003" y1="1696.1" x2="1003" y2="1702.6" stroke="#231f20" stroke-width="2.2"/>
<text x="1003" y="1721.1" font-size="19" font-weight="bold" text-anchor="middle" fill="#231f20">7</text>
<text x="910.5" y="1741.2" font-size="19" font-weight="bold" text-anchor="middle" fill="#231f20">Days</text>
<text x="726.3" y="1610.5" font-size="18" font-weight="bold" text-anchor="middle" fill="#231f20" transform="rotate(-90 726.3 1610.5)" textLength="161" lengthAdjust="spacingAndGlyphs">Lever Presses / Hr</text>
<line x1="807.4" y1="1683.2" x2="807.4" y2="1676" stroke="#231f20" stroke-width="2.2"/>
<line x1="803.2" y1="1676" x2="811.6" y2="1676" stroke="#231f20" stroke-width="2.2"/>
<line x1="840.3" y1="1676" x2="840.3" y2="1670" stroke="#231f20" stroke-width="2.2"/>
<line x1="836.1" y1="1670" x2="844.5" y2="1670" stroke="#231f20" stroke-width="2.2"/>
<line x1="872.7" y1="1657.8" x2="872.7" y2="1636.2" stroke="#231f20" stroke-width="2.2"/>
<line x1="868.5" y1="1636.2" x2="876.9" y2="1636.2" stroke="#231f20" stroke-width="2.2"/>
<line x1="905.6" y1="1651.8" x2="905.6" y2="1627.2" stroke="#231f20" stroke-width="2.2"/>
<line x1="901.4" y1="1627.2" x2="909.8" y2="1627.2" stroke="#231f20" stroke-width="2.2"/>
<line x1="938" y1="1651.2" x2="938" y2="1616.7" stroke="#231f20" stroke-width="2.2"/>
<line x1="933.8" y1="1616.7" x2="942.2" y2="1616.7" stroke="#231f20" stroke-width="2.2"/>
<line x1="970.6" y1="1632.3" x2="970.6" y2="1603.9" stroke="#231f20" stroke-width="2.2"/>
<line x1="966.4" y1="1603.9" x2="974.8" y2="1603.9" stroke="#231f20" stroke-width="2.2"/>
<line x1="1003" y1="1640.1" x2="1003" y2="1610.8" stroke="#231f20" stroke-width="2.2"/>
<line x1="998.8" y1="1610.8" x2="1007.2" y2="1610.8" stroke="#231f20" stroke-width="2.2"/>
<path d="M807.4 1683.2 L840.3 1676 L872.7 1657.8 L905.6 1651.8 L938 1651.2 L970.6 1632.3 L1003 1640.1" fill="none" stroke="#231f20" stroke-width="2.6" stroke-linejoin="round" stroke-linecap="round"/>
<circle cx="807.4" cy="1683.2" r="4.5" fill="#231f20" stroke="none" stroke-width="0"/>
<circle cx="840.3" cy="1676" r="4.5" fill="#231f20" stroke="none" stroke-width="0"/>
<circle cx="872.7" cy="1657.8" r="4.5" fill="#231f20" stroke="none" stroke-width="0"/>
<circle cx="905.6" cy="1651.8" r="4.5" fill="#231f20" stroke="none" stroke-width="0"/>
<circle cx="938" cy="1651.2" r="4.5" fill="#231f20" stroke="none" stroke-width="0"/>
<circle cx="970.6" cy="1632.3" r="4.5" fill="#231f20" stroke="none" stroke-width="0"/>
<circle cx="1003" cy="1640.1" r="4.5" fill="#231f20" stroke="none" stroke-width="0"/>
<line x1="807.4" y1="1652.7" x2="807.4" y2="1638.3" stroke="#ed1c24" stroke-width="2.2"/>
<line x1="803.2" y1="1638.3" x2="811.6" y2="1638.3" stroke="#ed1c24" stroke-width="2.2"/>
<line x1="840.3" y1="1628.1" x2="840.3" y2="1603.3" stroke="#ed1c24" stroke-width="2.2"/>
<line x1="836.1" y1="1603.3" x2="844.5" y2="1603.3" stroke="#ed1c24" stroke-width="2.2"/>
<line x1="872.7" y1="1643.1" x2="872.7" y2="1619.7" stroke="#ed1c24" stroke-width="2.2"/>
<line x1="868.5" y1="1619.7" x2="876.9" y2="1619.7" stroke="#ed1c24" stroke-width="2.2"/>
<line x1="905.6" y1="1601.8" x2="905.6" y2="1563.7" stroke="#ed1c24" stroke-width="2.2"/>
<line x1="901.4" y1="1563.7" x2="909.8" y2="1563.7" stroke="#ed1c24" stroke-width="2.2"/>
<line x1="938" y1="1609.3" x2="938" y2="1580.8" stroke="#ed1c24" stroke-width="2.2"/>
<line x1="933.8" y1="1580.8" x2="942.2" y2="1580.8" stroke="#ed1c24" stroke-width="2.2"/>
<line x1="970.6" y1="1613.2" x2="970.6" y2="1584.4" stroke="#ed1c24" stroke-width="2.2"/>
<line x1="966.4" y1="1584.4" x2="974.8" y2="1584.4" stroke="#ed1c24" stroke-width="2.2"/>
<line x1="1003" y1="1600.9" x2="1003" y2="1571.8" stroke="#ed1c24" stroke-width="2.2"/>
<line x1="998.8" y1="1571.8" x2="1007.2" y2="1571.8" stroke="#ed1c24" stroke-width="2.2"/>
<path d="M807.4 1652.7 L840.3 1628.1 L872.7 1643.1 L905.6 1601.8 L938 1609.3 L970.6 1613.2 L1003 1600.9" fill="none" stroke="#ed1c24" stroke-width="2.6" stroke-linejoin="round" stroke-linecap="round"/>
<rect x="803.1" y="1648.4" width="8.6" height="8.6" fill="#ed1c24" stroke="none" stroke-width="0"/>
<rect x="836" y="1623.8" width="8.6" height="8.6" fill="#ed1c24" stroke="none" stroke-width="0"/>
<rect x="868.4" y="1638.8" width="8.6" height="8.6" fill="#ed1c24" stroke="none" stroke-width="0"/>
<rect x="901.3" y="1597.5" width="8.6" height="8.6" fill="#ed1c24" stroke="none" stroke-width="0"/>
<rect x="933.7" y="1605" width="8.6" height="8.6" fill="#ed1c24" stroke="none" stroke-width="0"/>
<rect x="966.3" y="1608.9" width="8.6" height="8.6" fill="#ed1c24" stroke="none" stroke-width="0"/>
<rect x="998.7" y="1596.6" width="8.6" height="8.6" fill="#ed1c24" stroke="none" stroke-width="0"/>
<line x1="800.8" y1="1517.9" x2="817.8" y2="1517.9" stroke="#ed1c24" stroke-width="2.4"/>
<rect x="805.3" y="1513.9" width="8" height="8" fill="#ed1c24" stroke="none" stroke-width="0"/>
<text x="820.3" y="1526.1" font-size="20.3" text-anchor="start" fill="#ed1c24" textLength="26.2" lengthAdjust="spacingAndGlyphs">M1</text>
<line x1="854.7" y1="1517.9" x2="875.7" y2="1517.9" stroke="#ed1c24" stroke-width="2.3"/>
<path d="M884.7 1517.9 l-10 -4.4 v8.8 z" fill="#ed1c24"/>
<text x="889.2" y="1526.1" font-size="20.3" text-anchor="start" fill="#ed1c24" textLength="68.1" lengthAdjust="spacingAndGlyphs">D1-SPN</text>
<line x1="800.8" y1="1546.4" x2="817.8" y2="1546.4" stroke="#231f20" stroke-width="2.4"/>
<circle cx="809.3" cy="1546.4" r="4.3" fill="#231f20" stroke="none" stroke-width="0"/>
<text x="820.3" y="1554.6" font-size="20.3" text-anchor="start" fill="#231f20" textLength="26.2" lengthAdjust="spacingAndGlyphs">M1</text>
<line x1="854.7" y1="1546.4" x2="875.7" y2="1546.4" stroke="#231f20" stroke-width="2.3"/>
<path d="M884.7 1546.4 l-10 -4.4 v8.8 z" fill="#231f20"/>
<text x="889.2" y="1554.6" font-size="20.3" text-anchor="start" fill="#231f20" textLength="68.1" lengthAdjust="spacingAndGlyphs">D2-SPN</text>
<path d="M1018 1599.4 L1028.4 1599.4 L1028.4 1641.3 L1018 1641.3" fill="none" stroke="#231f20" stroke-width="2" stroke-linejoin="round" stroke-linecap="round"/>
<text x="1032.9" y="1625.7" font-size="19.5" font-weight="bold" text-anchor="start" fill="#231f20" textLength="31.4" lengthAdjust="spacingAndGlyphs">n.s.</text>
<text x="151.9" y="1239.6" font-size="19" font-weight="bold" text-anchor="middle" fill="#231f20" textLength="43.8" lengthAdjust="spacingAndGlyphs">ICSS</text>
<path d="M42.6 1346.6 C41.42 1344.17 37.43 1337.27 35.5 1332 C33.57 1326.73 31 1319.92 31 1315 C31 1310.08 32 1305.3 35.5 1302.5 C39 1299.7 49.25 1298.92 52 1298.2" fill="none" stroke="#231f20" stroke-width="1.1" stroke-linejoin="round" stroke-linecap="round"/>
<path d="M89.4 1297.5 C93 1295.92 102.27 1292.53 111 1288 C119.73 1283.47 134.3 1274.55 141.8 1270.3 C149.3 1266.05 151.3 1264.05 156 1262.5 C160.7 1260.95 166.05 1260.88 170 1261 C173.95 1261.12 176.9 1261.78 179.7 1263.2 C182.5 1264.62 185.62 1268.45 186.8 1269.5" fill="none" stroke="#231f20" stroke-width="1.1" stroke-linejoin="round" stroke-linecap="round"/>
<rect x="52.3" y="1289.5" width="37" height="16.8" fill="#fff" stroke="#231f20" stroke-width="1.1"/>
<text x="69.4" y="1300.3" font-size="9.6" text-anchor="middle" fill="#231f20" textLength="29.2" lengthAdjust="spacingAndGlyphs">LASER</text>
<rect x="18" y="1346.8" width="58" height="45" fill="#fff" stroke="#231f20" stroke-width="1.3"/>
<text x="45.9" y="1369.6" font-size="12" text-anchor="middle" fill="#231f20" textLength="50" lengthAdjust="spacingAndGlyphs">Computer/</text>
<text x="46.8" y="1382.6" font-size="12" text-anchor="middle" fill="#231f20" textLength="42.6" lengthAdjust="spacingAndGlyphs">MED PC</text>
<path d="M165.5 1298.7 L280.1 1314 L223.4 1361.3 L108.7 1344.8Z" fill="none" stroke="#231f20" stroke-width="1.3" stroke-linejoin="round" stroke-linecap="round"/>
<path d="M108.7 1344.8 L108.7 1438.1 L223.4 1455.9 L223.4 1361.3" fill="none" stroke="#231f20" stroke-width="1.3" stroke-linejoin="round" stroke-linecap="round"/>
<path d="M280.1 1314 L280.1 1415.7 L223.4 1455.9" fill="none" stroke="#231f20" stroke-width="1.3" stroke-linejoin="round" stroke-linecap="round"/>
<line x1="165.8" y1="1298.7" x2="166.2" y2="1381.3" stroke="#231f20" stroke-width="1"/>
<path d="M11.8 1440 L81.8 1378 M18.1 1440 L88.1 1378 M24.4 1440 L94.4 1378 M30.7 1440 L100.7 1378 M37 1440 L107 1378 M43.3 1440 L113.3 1378 M49.6 1440 L119.6 1378 M55.9 1440 L125.9 1378 M62.2 1440 L132.2 1378 M68.5 1440 L138.5 1378 M74.8 1440 L144.8 1378 M81.1 1440 L151.1 1378 M87.4 1440 L157.4 1378 M93.7 1440 L163.7 1378 M100 1440 L170 1378 M106.3 1440 L176.3 1378 M112.6 1440 L182.6 1378 M118.9 1440 L188.9 1378 M125.2 1440 L195.2 1378 M131.5 1440 L201.5 1378 M137.8 1440 L207.8 1378 M144.1 1440 L214.1 1378 M150.4 1440 L220.4 1378 M156.7 1440 L226.7 1378 M163 1440 L233 1378 M169.3 1440 L239.3 1378 M175.6 1440 L245.6 1378 M181.9 1440 L251.9 1378 M188.2 1440 L258.2 1378 M194.5 1440 L264.5 1378 M200.8 1440 L270.8 1378 M207.1 1440 L277.1 1378 M213.4 1440 L283.4 1378 M219.7 1440 L289.7 1378 M226 1440 L296 1378 M232.3 1440 L302.3 1378 M238.6 1440 L308.6 1378 M244.9 1440 L314.9 1378 M251.2 1440 L321.2 1378 M257.5 1440 L327.5 1378 M263.8 1440 L333.8 1378 M270.1 1440 L340.1 1378 M276.4 1440 L346.4 1378 M282.7 1440 L352.7 1378" stroke="#231f20" stroke-width="1.15" clip-path="url(#floorclip)"/>
<path d="M166.2 1381.3 L215.3 1386.6 L215.3 1437.2 L116.3 1422.8Z" fill="none" stroke="#231f20" stroke-width="1" stroke-linejoin="round" stroke-linecap="round"/>
<path d="M116 1346 L116 1427.3 L215.3 1442 L215.3 1360.2" fill="none" stroke="#231f20" stroke-width="1" stroke-linejoin="round" stroke-linecap="round"/>
<line x1="108.7" y1="1427.5" x2="116" y2="1427.5" stroke="#231f20" stroke-width="1"/>
<line x1="215.3" y1="1442" x2="223.4" y2="1443.5" stroke="#231f20" stroke-width="1"/>
<ellipse cx="188.5" cy="1332.1" rx="13.4" ry="8.9" fill="none" stroke="#231f20" stroke-width="1.1"/>
<path d="M189.1 1291.6 C188.85 1294.67 188.07 1304.6 187.6 1310 C187.13 1315.4 187.15 1319 186.3 1324 C185.45 1329 184.22 1335.33 182.5 1340 C180.78 1344.67 178.83 1348.75 176 1352 C173.17 1355.25 169 1357 165.5 1359.5 C162 1362 157.67 1364.25 155 1367 C152.33 1369.75 150.75 1373.33 149.5 1376 C148.25 1378.67 147.83 1381.83 147.5 1383" fill="none" stroke="#231f20" stroke-width="4.2" stroke-linejoin="round" stroke-linecap="round"/>
<path d="M189.1 1291.6 C188.85 1294.67 188.07 1304.6 187.6 1310 C187.13 1315.4 187.15 1319 186.3 1324 C185.45 1329 184.22 1335.33 182.5 1340 C180.78 1344.67 178.83 1348.75 176 1352 C173.17 1355.25 169 1357 165.5 1359.5 C162 1362 157.67 1364.25 155 1367 C152.33 1369.75 150.75 1373.33 149.5 1376 C148.25 1378.67 147.83 1381.83 147.5 1383" fill="none" stroke="#fff" stroke-width="1.9" stroke-linejoin="round" stroke-linecap="round"/>
<rect x="178.5" y="1269.1" width="20.1" height="22.5" fill="#231f20" stroke="none" stroke-width="0"/>
<path d="M132 1391.4 C132.5 1390.22 133.67 1387.87 135 1386.5 C136.33 1385.13 138.48 1384.03 140 1383.2 C141.52 1382.37 142.68 1382.15 144.1 1381.5 C145.52 1380.85 147.2 1379.48 148.5 1379.3 C149.8 1379.12 151.15 1379.57 151.9 1380.4 C152.65 1381.23 151.35 1383.1 153 1384.3 C154.65 1385.5 158.68 1386.5 161.8 1387.6 C164.92 1388.7 168.58 1389.43 171.7 1390.9 C174.82 1392.37 178.28 1394.38 180.5 1396.4 C182.72 1398.42 184.17 1400.8 185 1403 C185.83 1405.2 185.7 1407.57 185.5 1409.6 C185.3 1411.63 184.82 1413.9 183.8 1415.2 C182.78 1416.5 181.42 1417.32 179.4 1417.4 C177.38 1417.48 174.08 1416.18 171.7 1415.7 C169.32 1415.22 167.03 1415.08 165.1 1414.5 C163.17 1413.92 160.65 1413.2 160.1 1412.2 C159.55 1411.2 162.25 1409.85 161.8 1408.5 C161.35 1407.15 159.25 1405.75 157.4 1404.1 C155.55 1402.45 152.92 1399.88 150.7 1398.6 C148.48 1397.32 146.48 1396.87 144.1 1396.4 C141.72 1395.93 138.42 1396.27 136.4 1395.8 C134.38 1395.33 132.73 1394.33 132 1393.6 C131.27 1392.87 131.5 1392.58 132 1391.4Z" fill="#6d6e71" stroke="#231f20" stroke-width="0.9"/>
<path d="M181.6 1417.8 C179.95 1418.1 176.1 1418.93 171.7 1419.6 C167.3 1420.27 159.8 1421.17 155.2 1421.8 C150.6 1422.43 147.42 1423.22 144.1 1423.4 C140.78 1423.58 136.95 1423.27 135.3 1422.9 C133.65 1422.53 134.38 1421.48 134.2 1421.2" fill="none" stroke="#333" stroke-width="1.9" stroke-linejoin="round" stroke-linecap="round"/>
<path d="M121 1395.3 L128.7 1398.6 L133 1392 L125.4 1388.7Z" fill="#fff" stroke="#231f20" stroke-width="0.9" stroke-linejoin="round" stroke-linecap="round"/>
<line x1="137" y1="1383.5" x2="134.5" y2="1378.5" stroke="#231f20" stroke-width="0.6"/>
<line x1="137.8" y1="1383" x2="137.5" y2="1377.8" stroke="#231f20" stroke-width="0.6"/>
<line x1="138.6" y1="1383.2" x2="139.8" y2="1378.5" stroke="#231f20" stroke-width="0.6"/>
<line x1="136.5" y1="1384.2" x2="133" y2="1381.5" stroke="#231f20" stroke-width="0.6"/>
<circle cx="150" cy="1386" r="1.6" fill="#8a8b8d" stroke="#231f20" stroke-width="0.5"/>
<text x="143.4" y="1496.3" font-size="19" font-weight="bold" text-anchor="middle" fill="#231f20" textLength="76.6" lengthAdjust="spacingAndGlyphs">Timeline</text>
<line x1="25.1" y1="1675.7" x2="291" y2="1675.7" stroke="#231f20" stroke-width="2"/>
<line x1="25.1" y1="1651.7" x2="25.1" y2="1700.8" stroke="#231f20" stroke-width="2.2"/>
<line x1="139.9" y1="1651.7" x2="139.9" y2="1700.8" stroke="#231f20" stroke-width="2.2"/>
<line x1="149.7" y1="1657.4" x2="149.7" y2="1691.7" stroke="#231f20" stroke-width="2.2"/>
<line x1="161" y1="1657.4" x2="161" y2="1691.7" stroke="#231f20" stroke-width="2.2"/>
<line x1="172.3" y1="1657.4" x2="172.3" y2="1691.7" stroke="#231f20" stroke-width="2.2"/>
<line x1="183.6" y1="1657.4" x2="183.6" y2="1691.7" stroke="#231f20" stroke-width="2.2"/>
<line x1="194.9" y1="1657.4" x2="194.9" y2="1691.7" stroke="#231f20" stroke-width="2.2"/>
<line x1="206.2" y1="1657.4" x2="206.2" y2="1691.7" stroke="#231f20" stroke-width="2.2"/>
<line x1="217.5" y1="1657.4" x2="217.5" y2="1691.7" stroke="#231f20" stroke-width="2.2"/>
<line x1="228.8" y1="1657.4" x2="228.8" y2="1691.7" stroke="#231f20" stroke-width="2.2"/>
<line x1="240.1" y1="1657.4" x2="240.1" y2="1691.7" stroke="#231f20" stroke-width="2.2"/>
<line x1="251.4" y1="1657.4" x2="251.4" y2="1691.7" stroke="#231f20" stroke-width="2.2"/>
<text x="24" y="1721.4" font-size="19" font-weight="bold" text-anchor="middle" fill="#231f20">-21</text>
<text x="140" y="1721.4" font-size="19" font-weight="bold" text-anchor="middle" fill="#231f20">0</text>
<text x="183.4" y="1721.4" font-size="19" font-weight="bold" text-anchor="middle" fill="#231f20">4</text>
<text x="252" y="1721.4" font-size="19" font-weight="bold" text-anchor="middle" fill="#231f20">10</text>
<text x="160.5" y="1744" font-size="19" font-weight="bold" text-anchor="middle" fill="#231f20" textLength="44.5" lengthAdjust="spacingAndGlyphs">Days</text>
<rect x="167.1" y="1629.8" width="82.6" height="17" fill="none" stroke="#ed1c24" stroke-width="2"/>
<text x="208.3" y="1643.7" font-size="14.4" text-anchor="middle" fill="#231f20" textLength="33.6" lengthAdjust="spacingAndGlyphs">ICSS</text>
<text x="29.4" y="1582.5" font-size="14.2" font-weight="bold" text-anchor="middle" fill="#231f20" transform="rotate(-90 29.4 1582.5)" textLength="126.9" lengthAdjust="spacingAndGlyphs">Inject Helper AAVs</text>
<text x="131" y="1582" font-size="14.2" font-weight="bold" text-anchor="middle" fill="#231f20" transform="rotate(-90 131 1582)" textLength="155.4" lengthAdjust="spacingAndGlyphs">Inject ΔG Rabies-ChR2</text>
<text x="153.9" y="1584.8" font-size="14.2" font-weight="bold" text-anchor="middle" fill="#231f20" transform="rotate(-90 153.9 1584.8)" textLength="131.4" lengthAdjust="spacingAndGlyphs">Implant Optic Fiber</text>
</svg>
</body></html>
